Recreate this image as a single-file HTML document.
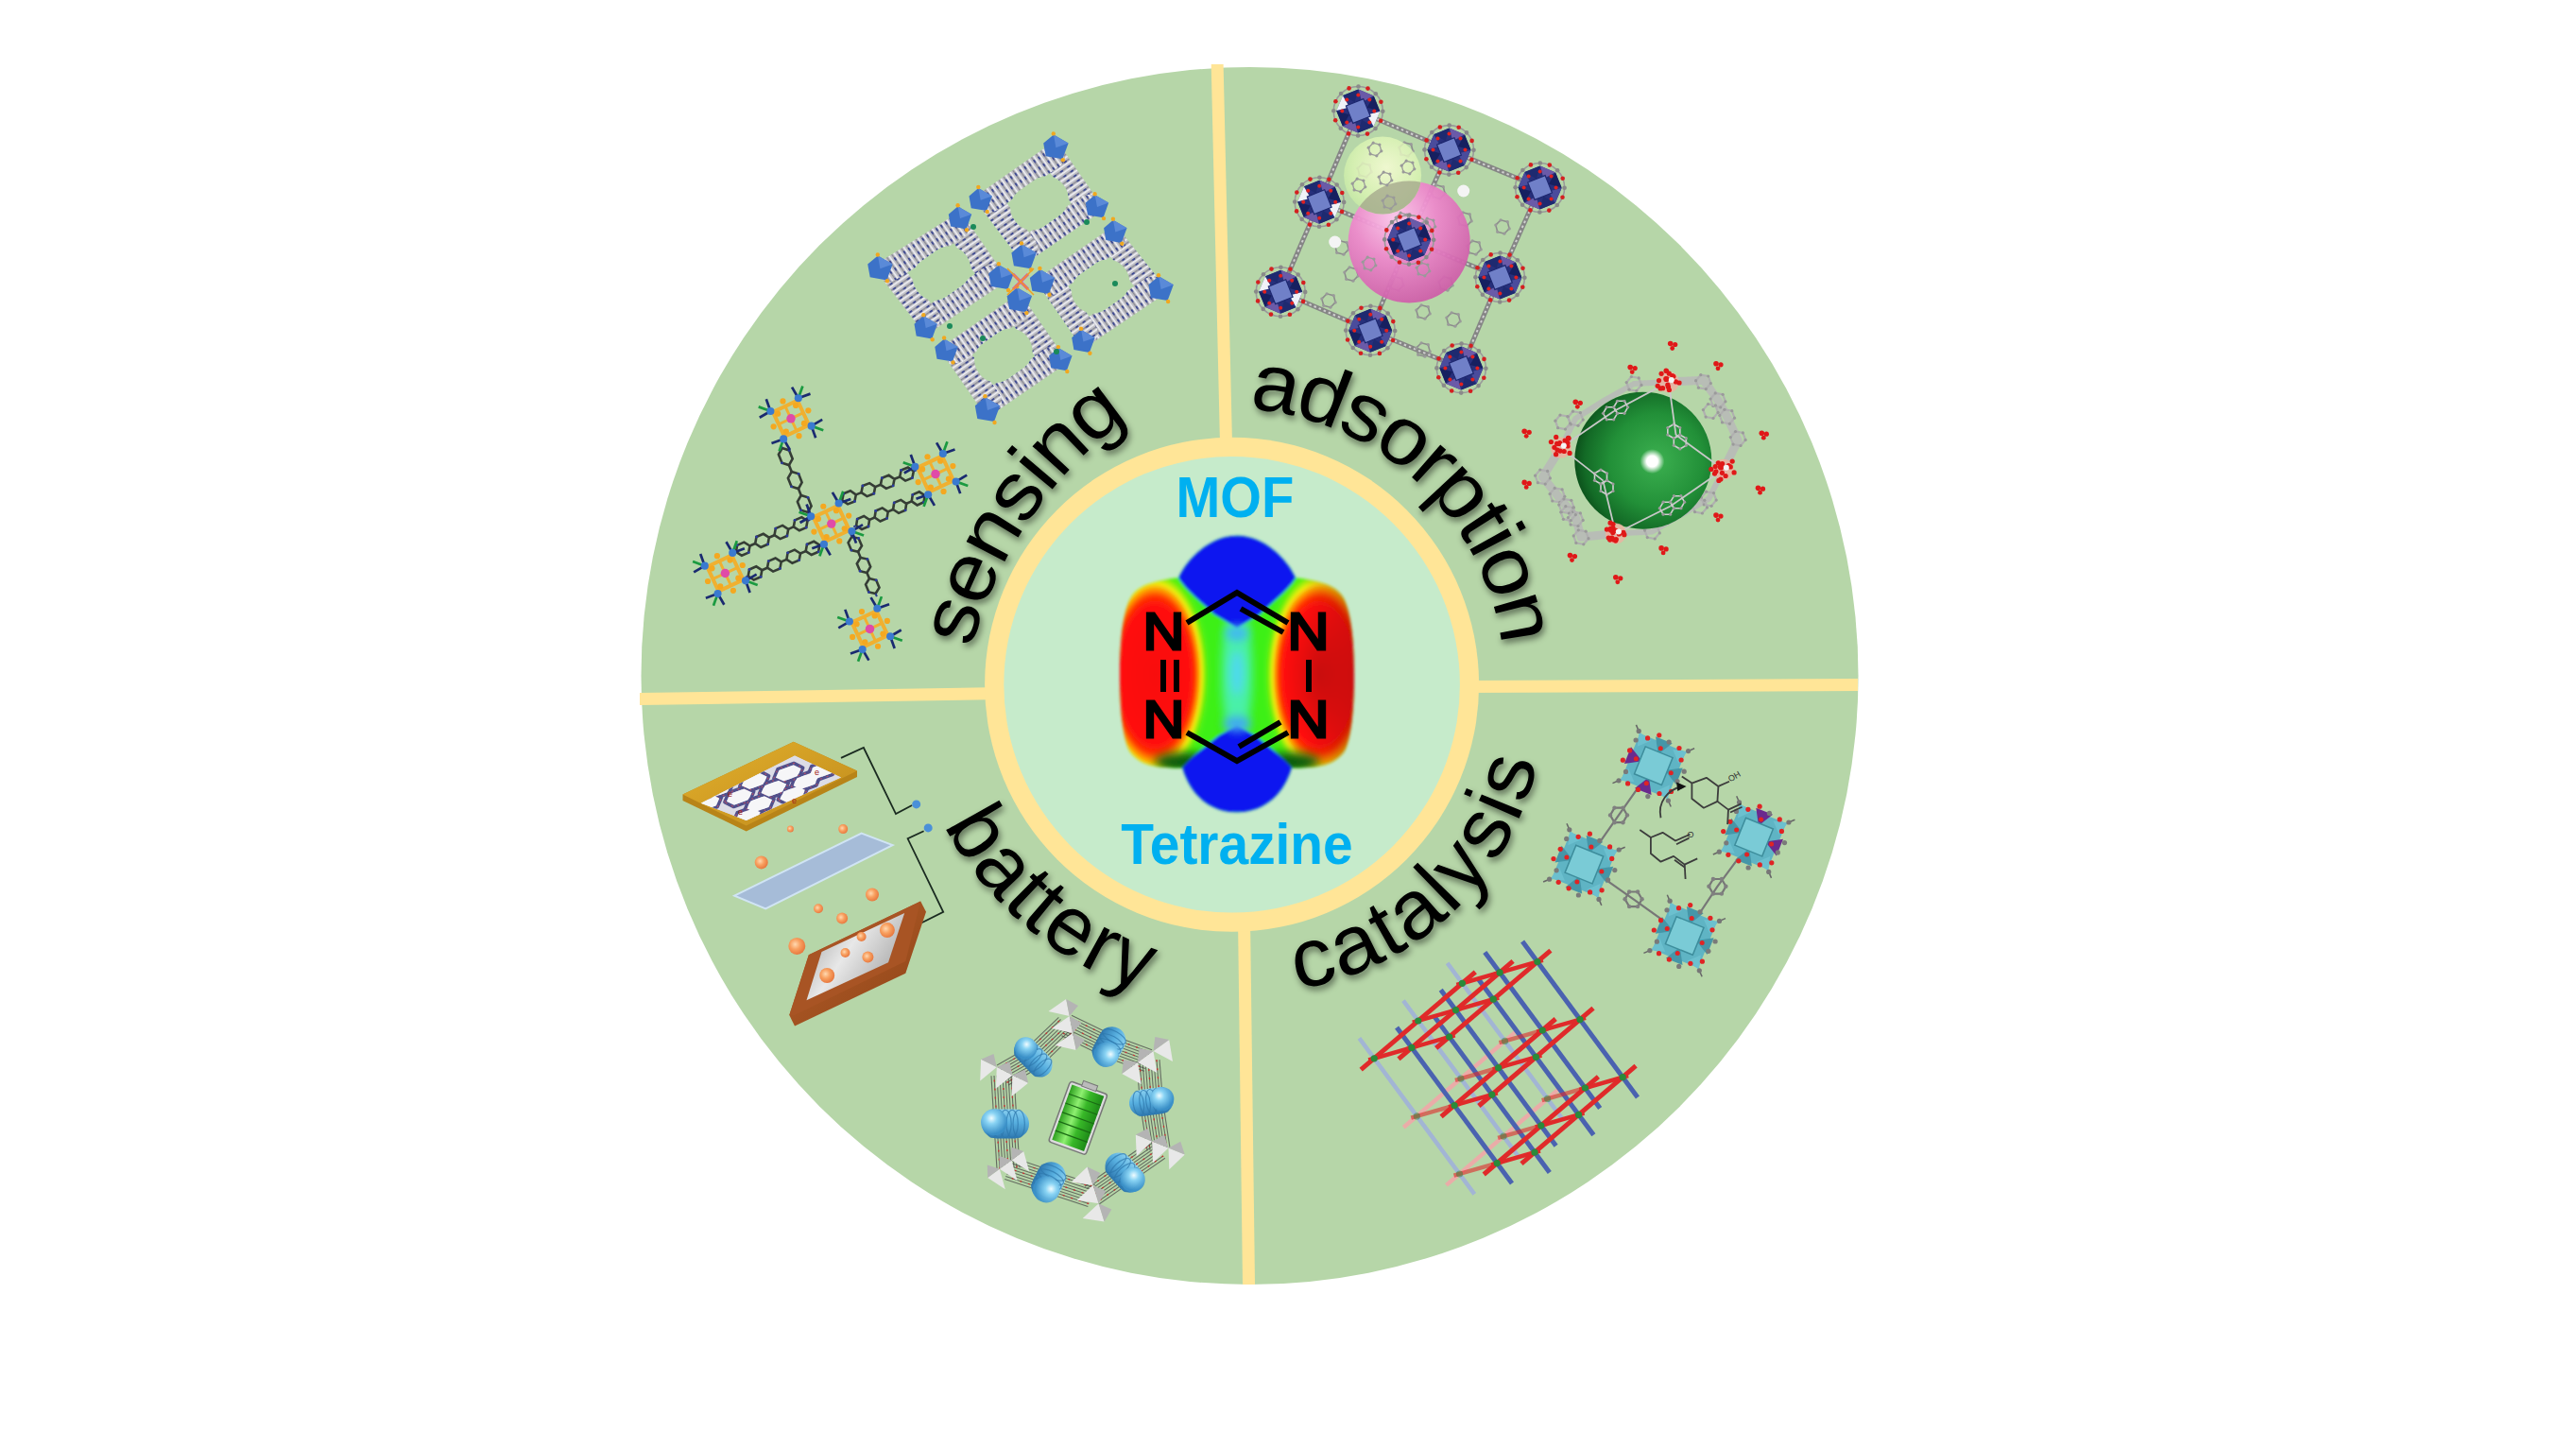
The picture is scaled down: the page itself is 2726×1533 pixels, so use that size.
<!DOCTYPE html>
<html><head><meta charset="utf-8">
<style>
html,body{margin:0;padding:0;background:#fff;}
body{width:2726px;height:1533px;overflow:hidden;position:relative;}
svg{position:absolute;left:0;top:0;}
</style></head>
<body>
<svg width="2726" height="1533" viewBox="0 0 2726 1533">
<defs>
  <filter id="tsh" x="-30%" y="-30%" width="160%" height="160%">
    <feGaussianBlur in="SourceAlpha" stdDeviation="3.5"/>
    <feOffset dx="2" dy="4" result="b"/>
    <feComponentTransfer><feFuncA type="linear" slope="0.5"/></feComponentTransfer>
    <feMerge><feMergeNode/><feMergeNode in="SourceGraphic"/></feMerge>
  </filter>
  
</defs>
<circle cx="1322.5" cy="715" r="644" fill="#b6d6a8"/>
<polygon points="1281.7,68 1294.6,68 1304,470 1291,470" fill="#ffe597"/>
<polygon points="1310,970 1323,970 1328,1359 1315,1359" fill="#ffe597"/>
<polygon points="677,733 677,746 1060,740 1060,727" fill="#ffe597"/>
<polygon points="1550,720 1550,733 1966,731 1966,718" fill="#ffe597"/>
<circle cx="1303.6" cy="724.3" r="261.5" fill="#ffe597"/>
<circle cx="1303.6" cy="724.3" r="241.3" fill="#c6ebcb"/>

<defs>
 <radialGradient id="redL" cx="1222" cy="714" r="62" gradientUnits="userSpaceOnUse" gradientTransform="translate(1222 714) scale(1 1.95) translate(-1222 -714)">
  <stop offset="0" stop-color="#f81111"/>
  <stop offset="0.6" stop-color="#ff1010"/>
  <stop offset="0.68" stop-color="#ff3000"/>
  <stop offset="0.74" stop-color="#ff8a00"/>
  <stop offset="0.8" stop-color="#f0ec10"/>
  <stop offset="0.88" stop-color="#60f010"/>
  <stop offset="1" stop-color="#3cf014" stop-opacity="0"/>
 </radialGradient>
 <radialGradient id="redR" cx="1396" cy="714" r="62" gradientUnits="userSpaceOnUse" gradientTransform="translate(1396 714) scale(1 1.95) translate(-1396 -714)">
  <stop offset="0" stop-color="#d01010"/>
  <stop offset="0.6" stop-color="#ff1010"/>
  <stop offset="0.68" stop-color="#ff3000"/>
  <stop offset="0.74" stop-color="#ff8a00"/>
  <stop offset="0.8" stop-color="#f0ec10"/>
  <stop offset="0.88" stop-color="#60f010"/>
  <stop offset="1" stop-color="#3cf014" stop-opacity="0"/>
 </radialGradient>
 <linearGradient id="edgeR" x1="1380" y1="0" x2="1433" y2="0" gradientUnits="userSpaceOnUse">
  <stop offset="0" stop-color="#a00000" stop-opacity="0"/><stop offset="1" stop-color="#900000" stop-opacity="0.45"/>
 </linearGradient>
 <clipPath id="bodyclip"><path d="M1247,611.3 C1255,592 1280,566.4 1309.1,566.4 C1338,566.4 1363,592 1371.2,611.3 C1392,614 1412,618 1420.4,630.6 C1430,645 1433,680 1433,714 C1433,750 1430,782 1422.5,795.3 C1410,812 1390,812.5 1366.9,812.5 C1360,838 1340,859.5 1309.1,859.5 C1278,859.5 1258,838 1251.3,812.5 C1228,812.5 1208,812 1195.7,795.3 C1188,782 1185,750 1185,714 C1185,680 1188,645 1197.8,630.6 C1206,618 1226,614 1247,611.3 Z"/></clipPath>
 <filter id="bl2" x="-20%" y="-20%" width="140%" height="140%"><feGaussianBlur stdDeviation="1.4"/></filter>
 <filter id="bl4" x="-50%" y="-50%" width="200%" height="200%"><feGaussianBlur stdDeviation="5"/></filter>
</defs>
<g filter="url(#bl2)">
 <g clip-path="url(#bodyclip)">
  <rect x="1180" y="560" width="260" height="310" fill="#3cf014"/>
  <ellipse cx="1309" cy="712" rx="16" ry="75" fill="#48f0a8" filter="url(#bl4)"/>
  <ellipse cx="1309" cy="712" rx="7" ry="24" fill="#50d8f0" filter="url(#bl4)"/>
  <rect x="1160" y="560" width="180" height="310" fill="url(#redL)"/>
  <rect x="1278" y="560" width="180" height="310" fill="url(#redR)"/>
  <rect x="1380" y="560" width="60" height="310" fill="url(#edgeR)"/>
  <ellipse cx="1252" cy="806" rx="30" ry="10" fill="#0a5a0e" filter="url(#bl4)"/>
  <ellipse cx="1366" cy="806" rx="30" ry="10" fill="#0a5a0e" filter="url(#bl4)"/>
  <path d="M1247,611.3 C1255,592 1280,566.4 1309.1,566.4 C1338,566.4 1363,592 1371.2,611.3 C1362,626 1345,638 1333,650 L1309,664 L1285,650 C1273,638 1256,626 1247,611.3 Z" fill="#0b14f0"/>
  <path d="M1251.3,812.5 C1258,838 1278,859.5 1309.1,859.5 C1340,859.5 1360,838 1366.9,812.5 C1356,800 1340,788 1328,778 L1309,768 L1290,778 C1278,788 1262,800 1251.3,812.5 Z" fill="#0b14f0"/>
  <ellipse cx="1309" cy="670" rx="12" ry="8" fill="#40b8f0" filter="url(#bl4)"/>
  <ellipse cx="1309" cy="766" rx="14" ry="8" fill="#40a8f0" filter="url(#bl4)"/>
 </g>
</g>
<g stroke="#000" stroke-width="6" stroke-linecap="butt" fill="none">
  <path d="M1256,659 L1309,627 L1363,659"/>
  <path d="M1313,644 L1358,669"/>
  <path d="M1256,775 L1309,805 L1363,775"/>
  <path d="M1311,790 L1355,764"/>
  <path d="M1231,698 V732 M1245,698 V732"/>
  <path d="M1385,698 V732"/>
</g>
<g font-family="Liberation Sans" font-size="56" fill="#000" text-anchor="middle" stroke="#000" stroke-width="3">
  <text x="1231.5" y="687" textLength="44" lengthAdjust="spacingAndGlyphs">N</text>
  <text x="1231.5" y="780" textLength="44" lengthAdjust="spacingAndGlyphs">N</text>
  <text x="1384.5" y="687" textLength="44" lengthAdjust="spacingAndGlyphs">N</text>
  <text x="1384.5" y="780" textLength="44" lengthAdjust="spacingAndGlyphs">N</text>
</g><g><line x1="1437.3" y1="117.5" x2="1533.5" y2="158.6" stroke="#858585" stroke-width="5"/><line x1="1437.3" y1="117.5" x2="1533.5" y2="158.6" stroke="#d0d0d0" stroke-width="2" stroke-dasharray="2.5 3"/><line x1="1533.5" y1="158.6" x2="1629.6" y2="198.5" stroke="#858585" stroke-width="5"/><line x1="1533.5" y1="158.6" x2="1629.6" y2="198.5" stroke="#d0d0d0" stroke-width="2" stroke-dasharray="2.5 3"/><line x1="1396.2" y1="213.7" x2="1491.2" y2="253.6" stroke="#858585" stroke-width="5"/><line x1="1396.2" y1="213.7" x2="1491.2" y2="253.6" stroke="#d0d0d0" stroke-width="2" stroke-dasharray="2.5 3"/><line x1="1491.2" y1="253.6" x2="1587.4" y2="293.5" stroke="#858585" stroke-width="5"/><line x1="1491.2" y1="253.6" x2="1587.4" y2="293.5" stroke="#d0d0d0" stroke-width="2" stroke-dasharray="2.5 3"/><line x1="1355.2" y1="308.7" x2="1450.2" y2="349.8" stroke="#858585" stroke-width="5"/><line x1="1355.2" y1="308.7" x2="1450.2" y2="349.8" stroke="#d0d0d0" stroke-width="2" stroke-dasharray="2.5 3"/><line x1="1450.2" y1="349.8" x2="1546.4" y2="389.6" stroke="#858585" stroke-width="5"/><line x1="1450.2" y1="349.8" x2="1546.4" y2="389.6" stroke="#d0d0d0" stroke-width="2" stroke-dasharray="2.5 3"/><line x1="1437.3" y1="117.5" x2="1396.2" y2="213.7" stroke="#858585" stroke-width="5"/><line x1="1437.3" y1="117.5" x2="1396.2" y2="213.7" stroke="#d0d0d0" stroke-width="2" stroke-dasharray="2.5 3"/><line x1="1396.2" y1="213.7" x2="1355.2" y2="308.7" stroke="#858585" stroke-width="5"/><line x1="1396.2" y1="213.7" x2="1355.2" y2="308.7" stroke="#d0d0d0" stroke-width="2" stroke-dasharray="2.5 3"/><line x1="1533.5" y1="158.6" x2="1491.2" y2="253.6" stroke="#858585" stroke-width="5"/><line x1="1533.5" y1="158.6" x2="1491.2" y2="253.6" stroke="#d0d0d0" stroke-width="2" stroke-dasharray="2.5 3"/><line x1="1491.2" y1="253.6" x2="1450.2" y2="349.8" stroke="#858585" stroke-width="5"/><line x1="1491.2" y1="253.6" x2="1450.2" y2="349.8" stroke="#d0d0d0" stroke-width="2" stroke-dasharray="2.5 3"/><line x1="1629.6" y1="198.5" x2="1587.4" y2="293.5" stroke="#858585" stroke-width="5"/><line x1="1629.6" y1="198.5" x2="1587.4" y2="293.5" stroke="#d0d0d0" stroke-width="2" stroke-dasharray="2.5 3"/><line x1="1587.4" y1="293.5" x2="1546.4" y2="389.6" stroke="#858585" stroke-width="5"/><line x1="1587.4" y1="293.5" x2="1546.4" y2="389.6" stroke="#d0d0d0" stroke-width="2" stroke-dasharray="2.5 3"/><polygon points="1529.2,204.9 1523.9,210.2 1516.7,208.3 1514.8,201.1 1520.1,195.8 1527.3,197.7" fill="none" stroke="#8c8c8c" stroke-width="1.6"/><circle cx="1529.2" cy="204.9" r="1.6" fill="#9a9a9a"/><circle cx="1523.9" cy="210.2" r="1.6" fill="#9a9a9a"/><circle cx="1516.7" cy="208.3" r="1.6" fill="#9a9a9a"/><circle cx="1514.8" cy="201.1" r="1.6" fill="#9a9a9a"/><circle cx="1520.1" cy="195.8" r="1.6" fill="#9a9a9a"/><circle cx="1527.3" cy="197.7" r="1.6" fill="#9a9a9a"/><polygon points="1557.2,233.9 1551.9,239.2 1544.7,237.3 1542.8,230.1 1548.1,224.8 1555.3,226.7" fill="none" stroke="#8c8c8c" stroke-width="1.6"/><circle cx="1557.2" cy="233.9" r="1.6" fill="#9a9a9a"/><circle cx="1551.9" cy="239.2" r="1.6" fill="#9a9a9a"/><circle cx="1544.7" cy="237.3" r="1.6" fill="#9a9a9a"/><circle cx="1542.8" cy="230.1" r="1.6" fill="#9a9a9a"/><circle cx="1548.1" cy="224.8" r="1.6" fill="#9a9a9a"/><circle cx="1555.3" cy="226.7" r="1.6" fill="#9a9a9a"/><polygon points="1567.2,263.9 1561.9,269.2 1554.7,267.3 1552.8,260.1 1558.1,254.8 1565.3,256.7" fill="none" stroke="#8c8c8c" stroke-width="1.6"/><circle cx="1567.2" cy="263.9" r="1.6" fill="#9a9a9a"/><circle cx="1561.9" cy="269.2" r="1.6" fill="#9a9a9a"/><circle cx="1554.7" cy="267.3" r="1.6" fill="#9a9a9a"/><circle cx="1552.8" cy="260.1" r="1.6" fill="#9a9a9a"/><circle cx="1558.1" cy="254.8" r="1.6" fill="#9a9a9a"/><circle cx="1565.3" cy="256.7" r="1.6" fill="#9a9a9a"/><polygon points="1537.2,301.9 1531.9,307.2 1524.7,305.3 1522.8,298.1 1528.1,292.8 1535.3,294.7" fill="none" stroke="#8c8c8c" stroke-width="1.6"/><circle cx="1537.2" cy="301.9" r="1.6" fill="#9a9a9a"/><circle cx="1531.9" cy="307.2" r="1.6" fill="#9a9a9a"/><circle cx="1524.7" cy="305.3" r="1.6" fill="#9a9a9a"/><circle cx="1522.8" cy="298.1" r="1.6" fill="#9a9a9a"/><circle cx="1528.1" cy="292.8" r="1.6" fill="#9a9a9a"/><circle cx="1535.3" cy="294.7" r="1.6" fill="#9a9a9a"/><polygon points="1513.2,331.9 1507.9,337.2 1500.7,335.3 1498.8,328.1 1504.1,322.8 1511.3,324.7" fill="none" stroke="#8c8c8c" stroke-width="1.6"/><circle cx="1513.2" cy="331.9" r="1.6" fill="#9a9a9a"/><circle cx="1507.9" cy="337.2" r="1.6" fill="#9a9a9a"/><circle cx="1500.7" cy="335.3" r="1.6" fill="#9a9a9a"/><circle cx="1498.8" cy="328.1" r="1.6" fill="#9a9a9a"/><circle cx="1504.1" cy="322.8" r="1.6" fill="#9a9a9a"/><circle cx="1511.3" cy="324.7" r="1.6" fill="#9a9a9a"/><polygon points="1485.2,301.9 1479.9,307.2 1472.7,305.3 1470.8,298.1 1476.1,292.8 1483.3,294.7" fill="none" stroke="#8c8c8c" stroke-width="1.6"/><circle cx="1485.2" cy="301.9" r="1.6" fill="#9a9a9a"/><circle cx="1479.9" cy="307.2" r="1.6" fill="#9a9a9a"/><circle cx="1472.7" cy="305.3" r="1.6" fill="#9a9a9a"/><circle cx="1470.8" cy="298.1" r="1.6" fill="#9a9a9a"/><circle cx="1476.1" cy="292.8" r="1.6" fill="#9a9a9a"/><circle cx="1483.3" cy="294.7" r="1.6" fill="#9a9a9a"/><polygon points="1437.2,291.9 1431.9,297.2 1424.7,295.3 1422.8,288.1 1428.1,282.8 1435.3,284.7" fill="none" stroke="#8c8c8c" stroke-width="1.6"/><circle cx="1437.2" cy="291.9" r="1.6" fill="#9a9a9a"/><circle cx="1431.9" cy="297.2" r="1.6" fill="#9a9a9a"/><circle cx="1424.7" cy="295.3" r="1.6" fill="#9a9a9a"/><circle cx="1422.8" cy="288.1" r="1.6" fill="#9a9a9a"/><circle cx="1428.1" cy="282.8" r="1.6" fill="#9a9a9a"/><circle cx="1435.3" cy="284.7" r="1.6" fill="#9a9a9a"/><polygon points="1413.2,319.9 1407.9,325.2 1400.7,323.3 1398.8,316.1 1404.1,310.8 1411.3,312.7" fill="none" stroke="#8c8c8c" stroke-width="1.6"/><circle cx="1413.2" cy="319.9" r="1.6" fill="#9a9a9a"/><circle cx="1407.9" cy="325.2" r="1.6" fill="#9a9a9a"/><circle cx="1400.7" cy="323.3" r="1.6" fill="#9a9a9a"/><circle cx="1398.8" cy="316.1" r="1.6" fill="#9a9a9a"/><circle cx="1404.1" cy="310.8" r="1.6" fill="#9a9a9a"/><circle cx="1411.3" cy="312.7" r="1.6" fill="#9a9a9a"/><polygon points="1427.2,263.9 1421.9,269.2 1414.7,267.3 1412.8,260.1 1418.1,254.8 1425.3,256.7" fill="none" stroke="#8c8c8c" stroke-width="1.6"/><circle cx="1427.2" cy="263.9" r="1.6" fill="#9a9a9a"/><circle cx="1421.9" cy="269.2" r="1.6" fill="#9a9a9a"/><circle cx="1414.7" cy="267.3" r="1.6" fill="#9a9a9a"/><circle cx="1412.8" cy="260.1" r="1.6" fill="#9a9a9a"/><circle cx="1418.1" cy="254.8" r="1.6" fill="#9a9a9a"/><circle cx="1425.3" cy="256.7" r="1.6" fill="#9a9a9a"/><polygon points="1513.2,371.9 1507.9,377.2 1500.7,375.3 1498.8,368.1 1504.1,362.8 1511.3,364.7" fill="none" stroke="#8c8c8c" stroke-width="1.6"/><circle cx="1513.2" cy="371.9" r="1.6" fill="#9a9a9a"/><circle cx="1507.9" cy="377.2" r="1.6" fill="#9a9a9a"/><circle cx="1500.7" cy="375.3" r="1.6" fill="#9a9a9a"/><circle cx="1498.8" cy="368.1" r="1.6" fill="#9a9a9a"/><circle cx="1504.1" cy="362.8" r="1.6" fill="#9a9a9a"/><circle cx="1511.3" cy="364.7" r="1.6" fill="#9a9a9a"/><polygon points="1545.2,339.9 1539.9,345.2 1532.7,343.3 1530.8,336.1 1536.1,330.8 1543.3,332.7" fill="none" stroke="#8c8c8c" stroke-width="1.6"/><circle cx="1545.2" cy="339.9" r="1.6" fill="#9a9a9a"/><circle cx="1539.9" cy="345.2" r="1.6" fill="#9a9a9a"/><circle cx="1532.7" cy="343.3" r="1.6" fill="#9a9a9a"/><circle cx="1530.8" cy="336.1" r="1.6" fill="#9a9a9a"/><circle cx="1536.1" cy="330.8" r="1.6" fill="#9a9a9a"/><circle cx="1543.3" cy="332.7" r="1.6" fill="#9a9a9a"/><polygon points="1597.2,241.9 1591.9,247.2 1584.7,245.3 1582.8,238.1 1588.1,232.8 1595.3,234.7" fill="none" stroke="#8c8c8c" stroke-width="1.6"/><circle cx="1597.2" cy="241.9" r="1.6" fill="#9a9a9a"/><circle cx="1591.9" cy="247.2" r="1.6" fill="#9a9a9a"/><circle cx="1584.7" cy="245.3" r="1.6" fill="#9a9a9a"/><circle cx="1582.8" cy="238.1" r="1.6" fill="#9a9a9a"/><circle cx="1588.1" cy="232.8" r="1.6" fill="#9a9a9a"/><circle cx="1595.3" cy="234.7" r="1.6" fill="#9a9a9a"/><polygon points="1451.2,181.9 1445.9,187.2 1438.7,185.3 1436.8,178.1 1442.1,172.8 1449.3,174.7" fill="none" stroke="#8c8c8c" stroke-width="1.6"/><circle cx="1451.2" cy="181.9" r="1.6" fill="#9a9a9a"/><circle cx="1445.9" cy="187.2" r="1.6" fill="#9a9a9a"/><circle cx="1438.7" cy="185.3" r="1.6" fill="#9a9a9a"/><circle cx="1436.8" cy="178.1" r="1.6" fill="#9a9a9a"/><circle cx="1442.1" cy="172.8" r="1.6" fill="#9a9a9a"/><circle cx="1449.3" cy="174.7" r="1.6" fill="#9a9a9a"/><polygon points="1495.2,159.9 1489.9,165.2 1482.7,163.3 1480.8,156.1 1486.1,150.8 1493.3,152.7" fill="none" stroke="#8c8c8c" stroke-width="1.6"/><circle cx="1495.2" cy="159.9" r="1.6" fill="#9a9a9a"/><circle cx="1489.9" cy="165.2" r="1.6" fill="#9a9a9a"/><circle cx="1482.7" cy="163.3" r="1.6" fill="#9a9a9a"/><circle cx="1480.8" cy="156.1" r="1.6" fill="#9a9a9a"/><circle cx="1486.1" cy="150.8" r="1.6" fill="#9a9a9a"/><circle cx="1493.3" cy="152.7" r="1.6" fill="#9a9a9a"/><defs>
<radialGradient id="pinkS" cx="0.38" cy="0.3" r="0.75">
 <stop offset="0" stop-color="#ffc6ee"/>
 <stop offset="0.45" stop-color="#ee88cc"/>
 <stop offset="1" stop-color="#cc5aa6"/>
</radialGradient>
<radialGradient id="yelS" cx="0.55" cy="0.4" r="0.7">
 <stop offset="0" stop-color="#fbffd8"/>
 <stop offset="0.6" stop-color="#dcf5b4"/>
 <stop offset="1" stop-color="#bfe6a0"/>
</radialGradient>
</defs><circle cx="1491.2" cy="255.9" r="64.5" fill="url(#pinkS)" opacity="0.93"/><circle cx="1463.1" cy="185.6" r="41" fill="url(#yelS)" opacity="0.82"/><clipPath id="pinkclip"><circle cx="1491.2" cy="255.9" r="64.5"/></clipPath><circle cx="1463.1" cy="185.6" r="41" fill="#9fa888" opacity="0.75" clip-path="url(#pinkclip)"/><polygon points="1461.8,159.8 1456.8,164.8 1450.1,162.9 1448.2,156.2 1453.2,151.2 1459.9,153.1" fill="none" stroke="#9a9a9a" stroke-width="1.3"/><circle cx="1461.8" cy="159.8" r="1.6" fill="#9a9a9a"/><circle cx="1456.8" cy="164.8" r="1.6" fill="#9a9a9a"/><circle cx="1450.1" cy="162.9" r="1.6" fill="#9a9a9a"/><circle cx="1448.2" cy="156.2" r="1.6" fill="#9a9a9a"/><circle cx="1453.2" cy="151.2" r="1.6" fill="#9a9a9a"/><circle cx="1459.9" cy="153.1" r="1.6" fill="#9a9a9a"/><polygon points="1472.8,190.8 1467.8,195.8 1461.1,193.9 1459.2,187.2 1464.2,182.2 1470.9,184.1" fill="none" stroke="#9a9a9a" stroke-width="1.3"/><circle cx="1472.8" cy="190.8" r="1.6" fill="#9a9a9a"/><circle cx="1467.8" cy="195.8" r="1.6" fill="#9a9a9a"/><circle cx="1461.1" cy="193.9" r="1.6" fill="#9a9a9a"/><circle cx="1459.2" cy="187.2" r="1.6" fill="#9a9a9a"/><circle cx="1464.2" cy="182.2" r="1.6" fill="#9a9a9a"/><circle cx="1470.9" cy="184.1" r="1.6" fill="#9a9a9a"/><polygon points="1444.8,197.8 1439.8,202.8 1433.1,200.9 1431.2,194.2 1436.2,189.2 1442.9,191.1" fill="none" stroke="#9a9a9a" stroke-width="1.3"/><circle cx="1444.8" cy="197.8" r="1.6" fill="#9a9a9a"/><circle cx="1439.8" cy="202.8" r="1.6" fill="#9a9a9a"/><circle cx="1433.1" cy="200.9" r="1.6" fill="#9a9a9a"/><circle cx="1431.2" cy="194.2" r="1.6" fill="#9a9a9a"/><circle cx="1436.2" cy="189.2" r="1.6" fill="#9a9a9a"/><circle cx="1442.9" cy="191.1" r="1.6" fill="#9a9a9a"/><polygon points="1496.8,178.8 1491.8,183.8 1485.1,181.9 1483.2,175.2 1488.2,170.2 1494.9,172.1" fill="none" stroke="#9a9a9a" stroke-width="1.3"/><circle cx="1496.8" cy="178.8" r="1.6" fill="#9a9a9a"/><circle cx="1491.8" cy="183.8" r="1.6" fill="#9a9a9a"/><circle cx="1485.1" cy="181.9" r="1.6" fill="#9a9a9a"/><circle cx="1483.2" cy="175.2" r="1.6" fill="#9a9a9a"/><circle cx="1488.2" cy="170.2" r="1.6" fill="#9a9a9a"/><circle cx="1494.9" cy="172.1" r="1.6" fill="#9a9a9a"/><polygon points="1476.8,215.8 1471.8,220.8 1465.1,218.9 1463.2,212.2 1468.2,207.2 1474.9,209.1" fill="none" stroke="#9a9a9a" stroke-width="1.3"/><circle cx="1476.8" cy="215.8" r="1.6" fill="#9a9a9a"/><circle cx="1471.8" cy="220.8" r="1.6" fill="#9a9a9a"/><circle cx="1465.1" cy="218.9" r="1.6" fill="#9a9a9a"/><circle cx="1463.2" cy="212.2" r="1.6" fill="#9a9a9a"/><circle cx="1468.2" cy="207.2" r="1.6" fill="#9a9a9a"/><circle cx="1474.9" cy="209.1" r="1.6" fill="#9a9a9a"/><polygon points="1455.8,280.8 1450.8,285.8 1444.1,283.9 1442.2,277.2 1447.2,272.2 1453.9,274.1" fill="none" stroke="#9a9a9a" stroke-width="1.3"/><circle cx="1455.8" cy="280.8" r="1.6" fill="#9a9a9a"/><circle cx="1450.8" cy="285.8" r="1.6" fill="#9a9a9a"/><circle cx="1444.1" cy="283.9" r="1.6" fill="#9a9a9a"/><circle cx="1442.2" cy="277.2" r="1.6" fill="#9a9a9a"/><circle cx="1447.2" cy="272.2" r="1.6" fill="#9a9a9a"/><circle cx="1453.9" cy="274.1" r="1.6" fill="#9a9a9a"/><polygon points="1518.8,239.8 1513.8,244.8 1507.1,242.9 1505.2,236.2 1510.2,231.2 1516.9,233.1" fill="none" stroke="#9a9a9a" stroke-width="1.3"/><circle cx="1518.8" cy="239.8" r="1.6" fill="#9a9a9a"/><circle cx="1513.8" cy="244.8" r="1.6" fill="#9a9a9a"/><circle cx="1507.1" cy="242.9" r="1.6" fill="#9a9a9a"/><circle cx="1505.2" cy="236.2" r="1.6" fill="#9a9a9a"/><circle cx="1510.2" cy="231.2" r="1.6" fill="#9a9a9a"/><circle cx="1516.9" cy="233.1" r="1.6" fill="#9a9a9a"/><polygon points="1512.8,286.8 1507.8,291.8 1501.1,289.9 1499.2,283.2 1504.2,278.2 1510.9,280.1" fill="none" stroke="#9a9a9a" stroke-width="1.3"/><circle cx="1512.8" cy="286.8" r="1.6" fill="#9a9a9a"/><circle cx="1507.8" cy="291.8" r="1.6" fill="#9a9a9a"/><circle cx="1501.1" cy="289.9" r="1.6" fill="#9a9a9a"/><circle cx="1499.2" cy="283.2" r="1.6" fill="#9a9a9a"/><circle cx="1504.2" cy="278.2" r="1.6" fill="#9a9a9a"/><circle cx="1510.9" cy="280.1" r="1.6" fill="#9a9a9a"/><polygon points="1490.8,233.8 1485.8,238.8 1479.1,236.9 1477.2,230.2 1482.2,225.2 1488.9,227.1" fill="none" stroke="#9a9a9a" stroke-width="1.3"/><circle cx="1490.8" cy="233.8" r="1.6" fill="#9a9a9a"/><circle cx="1485.8" cy="238.8" r="1.6" fill="#9a9a9a"/><circle cx="1479.1" cy="236.9" r="1.6" fill="#9a9a9a"/><circle cx="1477.2" cy="230.2" r="1.6" fill="#9a9a9a"/><circle cx="1482.2" cy="225.2" r="1.6" fill="#9a9a9a"/><circle cx="1488.9" cy="227.1" r="1.6" fill="#9a9a9a"/><circle cx="1548.7" cy="202" r="6.5" fill="#f4f4f4"/><circle cx="1412.7" cy="256" r="6.5" fill="#f4f4f4"/><circle cx="1437.3" cy="117.5" r="26" fill="none" stroke="#9a9a9a" stroke-width="1.6"/><circle cx="1461.4" cy="107.8" r="2.3" fill="#d42020"/><circle cx="1463.3" cy="117.7" r="2.3" fill="#8a8a8a"/><circle cx="1461.2" cy="127.7" r="2.3" fill="#d42020"/><circle cx="1455.5" cy="136.0" r="2.3" fill="#8a8a8a"/><circle cx="1447.0" cy="141.6" r="2.3" fill="#d42020"/><circle cx="1437.1" cy="143.5" r="2.3" fill="#8a8a8a"/><circle cx="1427.1" cy="141.4" r="2.3" fill="#d42020"/><circle cx="1418.8" cy="135.7" r="2.3" fill="#8a8a8a"/><circle cx="1413.2" cy="127.2" r="2.3" fill="#d42020"/><circle cx="1411.3" cy="117.3" r="2.3" fill="#8a8a8a"/><circle cx="1413.4" cy="107.3" r="2.3" fill="#d42020"/><circle cx="1419.1" cy="99.0" r="2.3" fill="#8a8a8a"/><circle cx="1427.6" cy="93.4" r="2.3" fill="#d42020"/><circle cx="1437.5" cy="91.5" r="2.3" fill="#8a8a8a"/><circle cx="1447.5" cy="93.6" r="2.3" fill="#d42020"/><circle cx="1455.8" cy="99.3" r="2.3" fill="#8a8a8a"/><polygon points="1460.3,117.7 1453.4,133.9 1437.1,140.5 1420.9,133.6 1414.3,117.3 1421.2,101.1 1437.5,94.5 1453.7,101.4" fill="#27307c"/><polygon points="1446.6,113.8 1453.8,101.5 1460.3,117.5" fill="#162060"/><polygon points="1446.5,121.4 1460.3,117.9 1453.6,133.8" fill="#f0f2f8"/><polygon points="1441.0,126.8 1453.3,134.0 1437.3,140.5" fill="#1e2a70"/><polygon points="1433.4,126.7 1436.9,140.5 1421.0,133.8" fill="#6a5aa8"/><polygon points="1428.0,121.2 1420.8,133.5 1414.3,117.5" fill="#162060"/><polygon points="1428.1,113.6 1414.3,117.1 1421.0,101.2" fill="#f0f2f8"/><polygon points="1433.6,108.2 1421.3,101.0 1437.3,94.5" fill="#1e2a70"/><polygon points="1441.2,108.3 1437.7,94.5 1453.6,101.2" fill="#6a5aa8"/><polygon points="1450.2,123.0 1431.8,130.4 1424.4,112.0 1442.8,104.6" fill="#7080c8" stroke="#1e2870" stroke-width="1.2"/><circle cx="1454.3" cy="117.5" r="2" fill="#e02020"/><circle cx="1449.3" cy="129.5" r="2" fill="#e02020"/><circle cx="1437.3" cy="134.5" r="2" fill="#e02020"/><circle cx="1425.3" cy="129.5" r="2" fill="#e02020"/><circle cx="1420.3" cy="117.5" r="2" fill="#e02020"/><circle cx="1425.3" cy="105.5" r="2" fill="#e02020"/><circle cx="1437.3" cy="100.5" r="2" fill="#e02020"/><circle cx="1449.3" cy="105.5" r="2" fill="#e02020"/><circle cx="1533.5" cy="158.6" r="26" fill="none" stroke="#9a9a9a" stroke-width="1.6"/><circle cx="1557.6" cy="148.9" r="2.3" fill="#d42020"/><circle cx="1559.5" cy="158.8" r="2.3" fill="#8a8a8a"/><circle cx="1557.4" cy="168.8" r="2.3" fill="#d42020"/><circle cx="1551.7" cy="177.1" r="2.3" fill="#8a8a8a"/><circle cx="1543.2" cy="182.7" r="2.3" fill="#d42020"/><circle cx="1533.3" cy="184.6" r="2.3" fill="#8a8a8a"/><circle cx="1523.3" cy="182.5" r="2.3" fill="#d42020"/><circle cx="1515.0" cy="176.8" r="2.3" fill="#8a8a8a"/><circle cx="1509.4" cy="168.3" r="2.3" fill="#d42020"/><circle cx="1507.5" cy="158.4" r="2.3" fill="#8a8a8a"/><circle cx="1509.6" cy="148.4" r="2.3" fill="#d42020"/><circle cx="1515.3" cy="140.1" r="2.3" fill="#8a8a8a"/><circle cx="1523.8" cy="134.5" r="2.3" fill="#d42020"/><circle cx="1533.7" cy="132.6" r="2.3" fill="#8a8a8a"/><circle cx="1543.7" cy="134.7" r="2.3" fill="#d42020"/><circle cx="1552.0" cy="140.4" r="2.3" fill="#8a8a8a"/><polygon points="1556.5,158.8 1549.6,175.0 1533.3,181.6 1517.1,174.7 1510.5,158.4 1517.4,142.2 1533.7,135.6 1549.9,142.5" fill="#27307c"/><polygon points="1542.8,154.9 1550.0,142.6 1556.5,158.6" fill="#162060"/><polygon points="1542.7,162.5 1556.5,159.0 1549.8,174.9" fill="#4a4c9c"/><polygon points="1537.2,167.9 1549.5,175.1 1533.5,181.6" fill="#1e2a70"/><polygon points="1529.6,167.8 1533.1,181.6 1517.2,174.9" fill="#6a5aa8"/><polygon points="1524.2,162.3 1517.0,174.6 1510.5,158.6" fill="#162060"/><polygon points="1524.3,154.7 1510.5,158.2 1517.2,142.3" fill="#4a4c9c"/><polygon points="1529.8,149.3 1517.5,142.1 1533.5,135.6" fill="#1e2a70"/><polygon points="1537.4,149.4 1533.9,135.6 1549.8,142.3" fill="#6a5aa8"/><polygon points="1546.4,164.1 1528.0,171.5 1520.6,153.1 1539.0,145.7" fill="#7080c8" stroke="#1e2870" stroke-width="1.2"/><circle cx="1550.5" cy="158.6" r="2" fill="#e02020"/><circle cx="1545.5" cy="170.6" r="2" fill="#e02020"/><circle cx="1533.5" cy="175.6" r="2" fill="#e02020"/><circle cx="1521.5" cy="170.6" r="2" fill="#e02020"/><circle cx="1516.5" cy="158.6" r="2" fill="#e02020"/><circle cx="1521.5" cy="146.6" r="2" fill="#e02020"/><circle cx="1533.5" cy="141.6" r="2" fill="#e02020"/><circle cx="1545.5" cy="146.6" r="2" fill="#e02020"/><circle cx="1629.6" cy="198.5" r="26" fill="none" stroke="#9a9a9a" stroke-width="1.6"/><circle cx="1653.7" cy="188.8" r="2.3" fill="#d42020"/><circle cx="1655.6" cy="198.7" r="2.3" fill="#8a8a8a"/><circle cx="1653.5" cy="208.7" r="2.3" fill="#d42020"/><circle cx="1647.8" cy="217.0" r="2.3" fill="#8a8a8a"/><circle cx="1639.3" cy="222.6" r="2.3" fill="#d42020"/><circle cx="1629.4" cy="224.5" r="2.3" fill="#8a8a8a"/><circle cx="1619.4" cy="222.4" r="2.3" fill="#d42020"/><circle cx="1611.1" cy="216.7" r="2.3" fill="#8a8a8a"/><circle cx="1605.5" cy="208.2" r="2.3" fill="#d42020"/><circle cx="1603.6" cy="198.3" r="2.3" fill="#8a8a8a"/><circle cx="1605.7" cy="188.3" r="2.3" fill="#d42020"/><circle cx="1611.4" cy="180.0" r="2.3" fill="#8a8a8a"/><circle cx="1619.9" cy="174.4" r="2.3" fill="#d42020"/><circle cx="1629.8" cy="172.5" r="2.3" fill="#8a8a8a"/><circle cx="1639.8" cy="174.6" r="2.3" fill="#d42020"/><circle cx="1648.1" cy="180.3" r="2.3" fill="#8a8a8a"/><polygon points="1652.6,198.7 1645.7,214.9 1629.4,221.5 1613.2,214.6 1606.6,198.3 1613.5,182.1 1629.8,175.5 1646.0,182.4" fill="#27307c"/><polygon points="1638.9,194.8 1646.1,182.5 1652.6,198.5" fill="#162060"/><polygon points="1638.8,202.4 1652.6,198.9 1645.9,214.8" fill="#4a4c9c"/><polygon points="1633.3,207.8 1645.6,215.0 1629.6,221.5" fill="#1e2a70"/><polygon points="1625.7,207.7 1629.2,221.5 1613.3,214.8" fill="#6a5aa8"/><polygon points="1620.3,202.2 1613.1,214.5 1606.6,198.5" fill="#162060"/><polygon points="1620.4,194.6 1606.6,198.1 1613.3,182.2" fill="#4a4c9c"/><polygon points="1625.9,189.2 1613.6,182.0 1629.6,175.5" fill="#1e2a70"/><polygon points="1633.5,189.3 1630.0,175.5 1645.9,182.2" fill="#6a5aa8"/><polygon points="1642.5,204.0 1624.1,211.4 1616.7,193.0 1635.1,185.6" fill="#7080c8" stroke="#1e2870" stroke-width="1.2"/><circle cx="1646.6" cy="198.5" r="2" fill="#e02020"/><circle cx="1641.6" cy="210.5" r="2" fill="#e02020"/><circle cx="1629.6" cy="215.5" r="2" fill="#e02020"/><circle cx="1617.6" cy="210.5" r="2" fill="#e02020"/><circle cx="1612.6" cy="198.5" r="2" fill="#e02020"/><circle cx="1617.6" cy="186.5" r="2" fill="#e02020"/><circle cx="1629.6" cy="181.5" r="2" fill="#e02020"/><circle cx="1641.6" cy="186.5" r="2" fill="#e02020"/><circle cx="1396.2" cy="213.7" r="26" fill="none" stroke="#9a9a9a" stroke-width="1.6"/><circle cx="1420.3" cy="204.0" r="2.3" fill="#d42020"/><circle cx="1422.2" cy="213.9" r="2.3" fill="#8a8a8a"/><circle cx="1420.1" cy="223.9" r="2.3" fill="#d42020"/><circle cx="1414.4" cy="232.2" r="2.3" fill="#8a8a8a"/><circle cx="1405.9" cy="237.8" r="2.3" fill="#d42020"/><circle cx="1396.0" cy="239.7" r="2.3" fill="#8a8a8a"/><circle cx="1386.0" cy="237.6" r="2.3" fill="#d42020"/><circle cx="1377.7" cy="231.9" r="2.3" fill="#8a8a8a"/><circle cx="1372.1" cy="223.4" r="2.3" fill="#d42020"/><circle cx="1370.2" cy="213.5" r="2.3" fill="#8a8a8a"/><circle cx="1372.3" cy="203.5" r="2.3" fill="#d42020"/><circle cx="1378.0" cy="195.2" r="2.3" fill="#8a8a8a"/><circle cx="1386.5" cy="189.6" r="2.3" fill="#d42020"/><circle cx="1396.4" cy="187.7" r="2.3" fill="#8a8a8a"/><circle cx="1406.4" cy="189.8" r="2.3" fill="#d42020"/><circle cx="1414.7" cy="195.5" r="2.3" fill="#8a8a8a"/><polygon points="1419.2,213.9 1412.3,230.1 1396.0,236.7 1379.8,229.8 1373.2,213.5 1380.1,197.3 1396.4,190.7 1412.6,197.6" fill="#27307c"/><polygon points="1405.5,210.0 1412.7,197.7 1419.2,213.7" fill="#162060"/><polygon points="1405.4,217.6 1419.2,214.1 1412.5,230.0" fill="#f0f2f8"/><polygon points="1399.9,223.0 1412.2,230.2 1396.2,236.7" fill="#1e2a70"/><polygon points="1392.3,222.9 1395.8,236.7 1379.9,230.0" fill="#6a5aa8"/><polygon points="1386.9,217.4 1379.7,229.7 1373.2,213.7" fill="#162060"/><polygon points="1387.0,209.8 1373.2,213.3 1379.9,197.4" fill="#f0f2f8"/><polygon points="1392.5,204.4 1380.2,197.2 1396.2,190.7" fill="#1e2a70"/><polygon points="1400.1,204.5 1396.6,190.7 1412.5,197.4" fill="#6a5aa8"/><polygon points="1409.1,219.2 1390.7,226.6 1383.3,208.2 1401.7,200.8" fill="#7080c8" stroke="#1e2870" stroke-width="1.2"/><circle cx="1413.2" cy="213.7" r="2" fill="#e02020"/><circle cx="1408.2" cy="225.7" r="2" fill="#e02020"/><circle cx="1396.2" cy="230.7" r="2" fill="#e02020"/><circle cx="1384.2" cy="225.7" r="2" fill="#e02020"/><circle cx="1379.2" cy="213.7" r="2" fill="#e02020"/><circle cx="1384.2" cy="201.7" r="2" fill="#e02020"/><circle cx="1396.2" cy="196.7" r="2" fill="#e02020"/><circle cx="1408.2" cy="201.7" r="2" fill="#e02020"/><circle cx="1491.2" cy="253.6" r="26" fill="none" stroke="#9a9a9a" stroke-width="1.6"/><circle cx="1515.3" cy="243.9" r="2.3" fill="#d42020"/><circle cx="1517.2" cy="253.8" r="2.3" fill="#8a8a8a"/><circle cx="1515.1" cy="263.8" r="2.3" fill="#d42020"/><circle cx="1509.4" cy="272.1" r="2.3" fill="#8a8a8a"/><circle cx="1500.9" cy="277.7" r="2.3" fill="#d42020"/><circle cx="1491.0" cy="279.6" r="2.3" fill="#8a8a8a"/><circle cx="1481.0" cy="277.5" r="2.3" fill="#d42020"/><circle cx="1472.7" cy="271.8" r="2.3" fill="#8a8a8a"/><circle cx="1467.1" cy="263.3" r="2.3" fill="#d42020"/><circle cx="1465.2" cy="253.4" r="2.3" fill="#8a8a8a"/><circle cx="1467.3" cy="243.4" r="2.3" fill="#d42020"/><circle cx="1473.0" cy="235.1" r="2.3" fill="#8a8a8a"/><circle cx="1481.5" cy="229.5" r="2.3" fill="#d42020"/><circle cx="1491.4" cy="227.6" r="2.3" fill="#8a8a8a"/><circle cx="1501.4" cy="229.7" r="2.3" fill="#d42020"/><circle cx="1509.7" cy="235.4" r="2.3" fill="#8a8a8a"/><polygon points="1514.2,253.8 1507.3,270.0 1491.0,276.6 1474.8,269.7 1468.2,253.4 1475.1,237.2 1491.4,230.6 1507.6,237.5" fill="#27307c"/><polygon points="1500.5,249.9 1507.7,237.6 1514.2,253.6" fill="#162060"/><polygon points="1500.4,257.5 1514.2,254.0 1507.5,269.9" fill="#4a4c9c"/><polygon points="1494.9,262.9 1507.2,270.1 1491.2,276.6" fill="#1e2a70"/><polygon points="1487.3,262.8 1490.8,276.6 1474.9,269.9" fill="#6a5aa8"/><polygon points="1481.9,257.3 1474.7,269.6 1468.2,253.6" fill="#162060"/><polygon points="1482.0,249.7 1468.2,253.2 1474.9,237.3" fill="#4a4c9c"/><polygon points="1487.5,244.3 1475.2,237.1 1491.2,230.6" fill="#1e2a70"/><polygon points="1495.1,244.4 1491.6,230.6 1507.5,237.3" fill="#6a5aa8"/><polygon points="1504.1,259.1 1485.7,266.5 1478.3,248.1 1496.7,240.7" fill="#7080c8" stroke="#1e2870" stroke-width="1.2"/><circle cx="1508.2" cy="253.6" r="2" fill="#e02020"/><circle cx="1503.2" cy="265.6" r="2" fill="#e02020"/><circle cx="1491.2" cy="270.6" r="2" fill="#e02020"/><circle cx="1479.2" cy="265.6" r="2" fill="#e02020"/><circle cx="1474.2" cy="253.6" r="2" fill="#e02020"/><circle cx="1479.2" cy="241.6" r="2" fill="#e02020"/><circle cx="1491.2" cy="236.6" r="2" fill="#e02020"/><circle cx="1503.2" cy="241.6" r="2" fill="#e02020"/><circle cx="1587.4" cy="293.5" r="26" fill="none" stroke="#9a9a9a" stroke-width="1.6"/><circle cx="1611.5" cy="283.8" r="2.3" fill="#d42020"/><circle cx="1613.4" cy="293.7" r="2.3" fill="#8a8a8a"/><circle cx="1611.3" cy="303.7" r="2.3" fill="#d42020"/><circle cx="1605.6" cy="312.0" r="2.3" fill="#8a8a8a"/><circle cx="1597.1" cy="317.6" r="2.3" fill="#d42020"/><circle cx="1587.2" cy="319.5" r="2.3" fill="#8a8a8a"/><circle cx="1577.2" cy="317.4" r="2.3" fill="#d42020"/><circle cx="1568.9" cy="311.7" r="2.3" fill="#8a8a8a"/><circle cx="1563.3" cy="303.2" r="2.3" fill="#d42020"/><circle cx="1561.4" cy="293.3" r="2.3" fill="#8a8a8a"/><circle cx="1563.5" cy="283.3" r="2.3" fill="#d42020"/><circle cx="1569.2" cy="275.0" r="2.3" fill="#8a8a8a"/><circle cx="1577.7" cy="269.4" r="2.3" fill="#d42020"/><circle cx="1587.6" cy="267.5" r="2.3" fill="#8a8a8a"/><circle cx="1597.6" cy="269.6" r="2.3" fill="#d42020"/><circle cx="1605.9" cy="275.3" r="2.3" fill="#8a8a8a"/><polygon points="1610.4,293.7 1603.5,309.9 1587.2,316.5 1571.0,309.6 1564.4,293.3 1571.3,277.1 1587.6,270.5 1603.8,277.4" fill="#27307c"/><polygon points="1596.7,289.8 1603.9,277.5 1610.4,293.5" fill="#162060"/><polygon points="1596.6,297.4 1610.4,293.9 1603.7,309.8" fill="#4a4c9c"/><polygon points="1591.1,302.8 1603.4,310.0 1587.4,316.5" fill="#1e2a70"/><polygon points="1583.5,302.7 1587.0,316.5 1571.1,309.8" fill="#6a5aa8"/><polygon points="1578.1,297.2 1570.9,309.5 1564.4,293.5" fill="#162060"/><polygon points="1578.2,289.6 1564.4,293.1 1571.1,277.2" fill="#4a4c9c"/><polygon points="1583.7,284.2 1571.4,277.0 1587.4,270.5" fill="#1e2a70"/><polygon points="1591.3,284.3 1587.8,270.5 1603.7,277.2" fill="#6a5aa8"/><polygon points="1600.3,299.0 1581.9,306.4 1574.5,288.0 1592.9,280.6" fill="#7080c8" stroke="#1e2870" stroke-width="1.2"/><circle cx="1604.4" cy="293.5" r="2" fill="#e02020"/><circle cx="1599.4" cy="305.5" r="2" fill="#e02020"/><circle cx="1587.4" cy="310.5" r="2" fill="#e02020"/><circle cx="1575.4" cy="305.5" r="2" fill="#e02020"/><circle cx="1570.4" cy="293.5" r="2" fill="#e02020"/><circle cx="1575.4" cy="281.5" r="2" fill="#e02020"/><circle cx="1587.4" cy="276.5" r="2" fill="#e02020"/><circle cx="1599.4" cy="281.5" r="2" fill="#e02020"/><circle cx="1355.2" cy="308.7" r="26" fill="none" stroke="#9a9a9a" stroke-width="1.6"/><circle cx="1379.3" cy="299.0" r="2.3" fill="#d42020"/><circle cx="1381.2" cy="308.9" r="2.3" fill="#8a8a8a"/><circle cx="1379.1" cy="318.9" r="2.3" fill="#d42020"/><circle cx="1373.4" cy="327.2" r="2.3" fill="#8a8a8a"/><circle cx="1364.9" cy="332.8" r="2.3" fill="#d42020"/><circle cx="1355.0" cy="334.7" r="2.3" fill="#8a8a8a"/><circle cx="1345.0" cy="332.6" r="2.3" fill="#d42020"/><circle cx="1336.7" cy="326.9" r="2.3" fill="#8a8a8a"/><circle cx="1331.1" cy="318.4" r="2.3" fill="#d42020"/><circle cx="1329.2" cy="308.5" r="2.3" fill="#8a8a8a"/><circle cx="1331.3" cy="298.5" r="2.3" fill="#d42020"/><circle cx="1337.0" cy="290.2" r="2.3" fill="#8a8a8a"/><circle cx="1345.5" cy="284.6" r="2.3" fill="#d42020"/><circle cx="1355.4" cy="282.7" r="2.3" fill="#8a8a8a"/><circle cx="1365.4" cy="284.8" r="2.3" fill="#d42020"/><circle cx="1373.7" cy="290.5" r="2.3" fill="#8a8a8a"/><polygon points="1378.2,308.9 1371.3,325.1 1355.0,331.7 1338.8,324.8 1332.2,308.5 1339.1,292.3 1355.4,285.7 1371.6,292.6" fill="#27307c"/><polygon points="1364.5,305.0 1371.7,292.7 1378.2,308.7" fill="#162060"/><polygon points="1364.4,312.6 1378.2,309.1 1371.5,325.0" fill="#f0f2f8"/><polygon points="1358.9,318.0 1371.2,325.2 1355.2,331.7" fill="#1e2a70"/><polygon points="1351.3,317.9 1354.8,331.7 1338.9,325.0" fill="#6a5aa8"/><polygon points="1345.9,312.4 1338.7,324.7 1332.2,308.7" fill="#162060"/><polygon points="1346.0,304.8 1332.2,308.3 1338.9,292.4" fill="#f0f2f8"/><polygon points="1351.5,299.4 1339.2,292.2 1355.2,285.7" fill="#1e2a70"/><polygon points="1359.1,299.5 1355.6,285.7 1371.5,292.4" fill="#6a5aa8"/><polygon points="1368.1,314.2 1349.7,321.6 1342.3,303.2 1360.7,295.8" fill="#7080c8" stroke="#1e2870" stroke-width="1.2"/><circle cx="1372.2" cy="308.7" r="2" fill="#e02020"/><circle cx="1367.2" cy="320.7" r="2" fill="#e02020"/><circle cx="1355.2" cy="325.7" r="2" fill="#e02020"/><circle cx="1343.2" cy="320.7" r="2" fill="#e02020"/><circle cx="1338.2" cy="308.7" r="2" fill="#e02020"/><circle cx="1343.2" cy="296.7" r="2" fill="#e02020"/><circle cx="1355.2" cy="291.7" r="2" fill="#e02020"/><circle cx="1367.2" cy="296.7" r="2" fill="#e02020"/><circle cx="1450.2" cy="349.8" r="26" fill="none" stroke="#9a9a9a" stroke-width="1.6"/><circle cx="1474.3" cy="340.1" r="2.3" fill="#d42020"/><circle cx="1476.2" cy="350.0" r="2.3" fill="#8a8a8a"/><circle cx="1474.1" cy="360.0" r="2.3" fill="#d42020"/><circle cx="1468.4" cy="368.3" r="2.3" fill="#8a8a8a"/><circle cx="1459.9" cy="373.9" r="2.3" fill="#d42020"/><circle cx="1450.0" cy="375.8" r="2.3" fill="#8a8a8a"/><circle cx="1440.0" cy="373.7" r="2.3" fill="#d42020"/><circle cx="1431.7" cy="368.0" r="2.3" fill="#8a8a8a"/><circle cx="1426.1" cy="359.5" r="2.3" fill="#d42020"/><circle cx="1424.2" cy="349.6" r="2.3" fill="#8a8a8a"/><circle cx="1426.3" cy="339.6" r="2.3" fill="#d42020"/><circle cx="1432.0" cy="331.3" r="2.3" fill="#8a8a8a"/><circle cx="1440.5" cy="325.7" r="2.3" fill="#d42020"/><circle cx="1450.4" cy="323.8" r="2.3" fill="#8a8a8a"/><circle cx="1460.4" cy="325.9" r="2.3" fill="#d42020"/><circle cx="1468.7" cy="331.6" r="2.3" fill="#8a8a8a"/><polygon points="1473.2,350.0 1466.3,366.2 1450.0,372.8 1433.8,365.9 1427.2,349.6 1434.1,333.4 1450.4,326.8 1466.6,333.7" fill="#27307c"/><polygon points="1459.5,346.1 1466.7,333.8 1473.2,349.8" fill="#162060"/><polygon points="1459.4,353.7 1473.2,350.2 1466.5,366.1" fill="#4a4c9c"/><polygon points="1453.9,359.1 1466.2,366.3 1450.2,372.8" fill="#1e2a70"/><polygon points="1446.3,359.0 1449.8,372.8 1433.9,366.1" fill="#6a5aa8"/><polygon points="1440.9,353.5 1433.7,365.8 1427.2,349.8" fill="#162060"/><polygon points="1441.0,345.9 1427.2,349.4 1433.9,333.5" fill="#4a4c9c"/><polygon points="1446.5,340.5 1434.2,333.3 1450.2,326.8" fill="#1e2a70"/><polygon points="1454.1,340.6 1450.6,326.8 1466.5,333.5" fill="#6a5aa8"/><polygon points="1463.1,355.3 1444.7,362.7 1437.3,344.3 1455.7,336.9" fill="#7080c8" stroke="#1e2870" stroke-width="1.2"/><circle cx="1467.2" cy="349.8" r="2" fill="#e02020"/><circle cx="1462.2" cy="361.8" r="2" fill="#e02020"/><circle cx="1450.2" cy="366.8" r="2" fill="#e02020"/><circle cx="1438.2" cy="361.8" r="2" fill="#e02020"/><circle cx="1433.2" cy="349.8" r="2" fill="#e02020"/><circle cx="1438.2" cy="337.8" r="2" fill="#e02020"/><circle cx="1450.2" cy="332.8" r="2" fill="#e02020"/><circle cx="1462.2" cy="337.8" r="2" fill="#e02020"/><circle cx="1546.4" cy="389.6" r="26" fill="none" stroke="#9a9a9a" stroke-width="1.6"/><circle cx="1570.5" cy="379.9" r="2.3" fill="#d42020"/><circle cx="1572.4" cy="389.8" r="2.3" fill="#8a8a8a"/><circle cx="1570.3" cy="399.8" r="2.3" fill="#d42020"/><circle cx="1564.6" cy="408.1" r="2.3" fill="#8a8a8a"/><circle cx="1556.1" cy="413.7" r="2.3" fill="#d42020"/><circle cx="1546.2" cy="415.6" r="2.3" fill="#8a8a8a"/><circle cx="1536.2" cy="413.5" r="2.3" fill="#d42020"/><circle cx="1527.9" cy="407.8" r="2.3" fill="#8a8a8a"/><circle cx="1522.3" cy="399.3" r="2.3" fill="#d42020"/><circle cx="1520.4" cy="389.4" r="2.3" fill="#8a8a8a"/><circle cx="1522.5" cy="379.4" r="2.3" fill="#d42020"/><circle cx="1528.2" cy="371.1" r="2.3" fill="#8a8a8a"/><circle cx="1536.7" cy="365.5" r="2.3" fill="#d42020"/><circle cx="1546.6" cy="363.6" r="2.3" fill="#8a8a8a"/><circle cx="1556.6" cy="365.7" r="2.3" fill="#d42020"/><circle cx="1564.9" cy="371.4" r="2.3" fill="#8a8a8a"/><polygon points="1569.4,389.8 1562.5,406.0 1546.2,412.6 1530.0,405.7 1523.4,389.4 1530.3,373.2 1546.6,366.6 1562.8,373.5" fill="#27307c"/><polygon points="1555.7,385.9 1562.9,373.6 1569.4,389.6" fill="#162060"/><polygon points="1555.6,393.5 1569.4,390.0 1562.7,405.9" fill="#4a4c9c"/><polygon points="1550.1,398.9 1562.4,406.1 1546.4,412.6" fill="#1e2a70"/><polygon points="1542.5,398.8 1546.0,412.6 1530.1,405.9" fill="#6a5aa8"/><polygon points="1537.1,393.3 1529.9,405.6 1523.4,389.6" fill="#162060"/><polygon points="1537.2,385.7 1523.4,389.2 1530.1,373.3" fill="#4a4c9c"/><polygon points="1542.7,380.3 1530.4,373.1 1546.4,366.6" fill="#1e2a70"/><polygon points="1550.3,380.4 1546.8,366.6 1562.7,373.3" fill="#6a5aa8"/><polygon points="1559.3,395.1 1540.9,402.5 1533.5,384.1 1551.9,376.7" fill="#7080c8" stroke="#1e2870" stroke-width="1.2"/><circle cx="1563.4" cy="389.6" r="2" fill="#e02020"/><circle cx="1558.4" cy="401.6" r="2" fill="#e02020"/><circle cx="1546.4" cy="406.6" r="2" fill="#e02020"/><circle cx="1534.4" cy="401.6" r="2" fill="#e02020"/><circle cx="1529.4" cy="389.6" r="2" fill="#e02020"/><circle cx="1534.4" cy="377.6" r="2" fill="#e02020"/><circle cx="1546.4" cy="372.6" r="2" fill="#e02020"/><circle cx="1558.4" cy="377.6" r="2" fill="#e02020"/></g><g><defs>
<radialGradient id="grnS" cx="0.6" cy="0.5" r="0.62">
 <stop offset="0" stop-color="#3cb050"/>
 <stop offset="0.55" stop-color="#229038"/>
 <stop offset="0.85" stop-color="#136a26"/>
 <stop offset="1" stop-color="#0a4a18"/>
</radialGradient>
<radialGradient id="hl" cx="0.5" cy="0.5" r="0.5">
 <stop offset="0" stop-color="#ffffff"/>
 <stop offset="0.45" stop-color="#ffffff"/>
 <stop offset="1" stop-color="#ffffff" stop-opacity="0"/>
</radialGradient>
</defs><path d="M1765.8,404.1 L1802.5,402.2 L1818.0,423.4 L1827.6,440.8 L1839.2,465.9 L1823.8,496.8" fill="none" stroke="#b8b8b8" stroke-width="9" stroke-linejoin="round" stroke-linecap="round" opacity="0.85"/><path d="M1651.8,473.6 L1632.5,504.6 L1648.0,523.9 L1667.3,547.1 L1673.1,568.3 L1709.8,564.5" fill="none" stroke="#b8b8b8" stroke-width="9" stroke-linejoin="round" stroke-linecap="round" opacity="0.85"/><path d="M1651.8,473.6 L1667.3,442.7 L1698.2,423.4 L1729.1,406.0 L1765.8,404.1" fill="none" stroke="#b8b8b8" stroke-width="6" stroke-linejoin="round" stroke-linecap="round" opacity="0.85"/><path d="M1709.8,564.5 L1748.4,562.5 L1808.3,527.7 L1823.8,496.8" fill="none" stroke="#b8b8b8" stroke-width="6" stroke-linejoin="round" stroke-linecap="round" opacity="0.85"/><polygon points="1810.4,405.5 1805.3,411.6 1797.4,410.2 1794.6,402.7 1799.8,396.6 1807.7,398.0" fill="none" stroke="#b0b0b0" stroke-width="2.2"/><circle cx="1810.4" cy="405.5" r="1.6" fill="#9a9a9a"/><circle cx="1805.3" cy="411.6" r="1.6" fill="#9a9a9a"/><circle cx="1797.4" cy="410.2" r="1.6" fill="#9a9a9a"/><circle cx="1794.6" cy="402.7" r="1.6" fill="#9a9a9a"/><circle cx="1799.8" cy="396.6" r="1.6" fill="#9a9a9a"/><circle cx="1807.7" cy="398.0" r="1.6" fill="#9a9a9a"/><polygon points="1825.9,424.8 1820.7,430.9 1812.8,429.5 1810.1,422.0 1815.2,415.9 1823.1,417.3" fill="none" stroke="#b0b0b0" stroke-width="2.2"/><circle cx="1825.9" cy="424.8" r="1.6" fill="#9a9a9a"/><circle cx="1820.7" cy="430.9" r="1.6" fill="#9a9a9a"/><circle cx="1812.8" cy="429.5" r="1.6" fill="#9a9a9a"/><circle cx="1810.1" cy="422.0" r="1.6" fill="#9a9a9a"/><circle cx="1815.2" cy="415.9" r="1.6" fill="#9a9a9a"/><circle cx="1823.1" cy="417.3" r="1.6" fill="#9a9a9a"/><polygon points="1835.5,442.2 1830.4,448.3 1822.5,446.9 1819.8,439.4 1824.9,433.3 1832.8,434.7" fill="none" stroke="#b0b0b0" stroke-width="2.2"/><circle cx="1835.5" cy="442.2" r="1.6" fill="#9a9a9a"/><circle cx="1830.4" cy="448.3" r="1.6" fill="#9a9a9a"/><circle cx="1822.5" cy="446.9" r="1.6" fill="#9a9a9a"/><circle cx="1819.8" cy="439.4" r="1.6" fill="#9a9a9a"/><circle cx="1824.9" cy="433.3" r="1.6" fill="#9a9a9a"/><circle cx="1832.8" cy="434.7" r="1.6" fill="#9a9a9a"/><polygon points="1847.1,465.4 1842.0,471.5 1834.1,470.1 1831.3,462.6 1836.5,456.5 1844.4,457.9" fill="none" stroke="#b0b0b0" stroke-width="2.2"/><circle cx="1847.1" cy="465.4" r="1.6" fill="#9a9a9a"/><circle cx="1842.0" cy="471.5" r="1.6" fill="#9a9a9a"/><circle cx="1834.1" cy="470.1" r="1.6" fill="#9a9a9a"/><circle cx="1831.3" cy="462.6" r="1.6" fill="#9a9a9a"/><circle cx="1836.5" cy="456.5" r="1.6" fill="#9a9a9a"/><circle cx="1844.4" cy="457.9" r="1.6" fill="#9a9a9a"/><polygon points="1818.1,436.4 1813.0,442.5 1805.1,441.1 1802.4,433.6 1807.5,427.5 1815.4,428.9" fill="none" stroke="#b0b0b0" stroke-width="2.2"/><circle cx="1818.1" cy="436.4" r="1.6" fill="#9a9a9a"/><circle cx="1813.0" cy="442.5" r="1.6" fill="#9a9a9a"/><circle cx="1805.1" cy="441.1" r="1.6" fill="#9a9a9a"/><circle cx="1802.4" cy="433.6" r="1.6" fill="#9a9a9a"/><circle cx="1807.5" cy="427.5" r="1.6" fill="#9a9a9a"/><circle cx="1815.4" cy="428.9" r="1.6" fill="#9a9a9a"/><polygon points="1640.4,505.9 1635.2,512.1 1627.4,510.7 1624.6,503.2 1629.8,497.0 1637.6,498.4" fill="none" stroke="#b0b0b0" stroke-width="2.2"/><circle cx="1640.4" cy="505.9" r="1.6" fill="#9a9a9a"/><circle cx="1635.2" cy="512.1" r="1.6" fill="#9a9a9a"/><circle cx="1627.4" cy="510.7" r="1.6" fill="#9a9a9a"/><circle cx="1624.6" cy="503.2" r="1.6" fill="#9a9a9a"/><circle cx="1629.8" cy="497.0" r="1.6" fill="#9a9a9a"/><circle cx="1637.6" cy="498.4" r="1.6" fill="#9a9a9a"/><polygon points="1655.8,525.3 1650.7,531.4 1642.8,530.0 1640.1,522.5 1645.2,516.4 1653.1,517.8" fill="none" stroke="#b0b0b0" stroke-width="2.2"/><circle cx="1655.8" cy="525.3" r="1.6" fill="#9a9a9a"/><circle cx="1650.7" cy="531.4" r="1.6" fill="#9a9a9a"/><circle cx="1642.8" cy="530.0" r="1.6" fill="#9a9a9a"/><circle cx="1640.1" cy="522.5" r="1.6" fill="#9a9a9a"/><circle cx="1645.2" cy="516.4" r="1.6" fill="#9a9a9a"/><circle cx="1653.1" cy="517.8" r="1.6" fill="#9a9a9a"/><polygon points="1665.5,536.9 1660.4,543.0 1652.5,541.6 1649.7,534.1 1654.9,528.0 1662.8,529.3" fill="none" stroke="#b0b0b0" stroke-width="2.2"/><circle cx="1665.5" cy="536.9" r="1.6" fill="#9a9a9a"/><circle cx="1660.4" cy="543.0" r="1.6" fill="#9a9a9a"/><circle cx="1652.5" cy="541.6" r="1.6" fill="#9a9a9a"/><circle cx="1649.7" cy="534.1" r="1.6" fill="#9a9a9a"/><circle cx="1654.9" cy="528.0" r="1.6" fill="#9a9a9a"/><circle cx="1662.8" cy="529.3" r="1.6" fill="#9a9a9a"/><polygon points="1675.2,550.4 1670.0,556.5 1662.1,555.1 1659.4,547.6 1664.5,541.5 1672.4,542.9" fill="none" stroke="#b0b0b0" stroke-width="2.2"/><circle cx="1675.2" cy="550.4" r="1.6" fill="#9a9a9a"/><circle cx="1670.0" cy="556.5" r="1.6" fill="#9a9a9a"/><circle cx="1662.1" cy="555.1" r="1.6" fill="#9a9a9a"/><circle cx="1659.4" cy="547.6" r="1.6" fill="#9a9a9a"/><circle cx="1664.5" cy="541.5" r="1.6" fill="#9a9a9a"/><circle cx="1672.4" cy="542.9" r="1.6" fill="#9a9a9a"/><polygon points="1681.0,569.7 1675.8,575.8 1667.9,574.4 1665.2,566.9 1670.3,560.8 1678.2,562.2" fill="none" stroke="#b0b0b0" stroke-width="2.2"/><circle cx="1681.0" cy="569.7" r="1.6" fill="#9a9a9a"/><circle cx="1675.8" cy="575.8" r="1.6" fill="#9a9a9a"/><circle cx="1667.9" cy="574.4" r="1.6" fill="#9a9a9a"/><circle cx="1665.2" cy="566.9" r="1.6" fill="#9a9a9a"/><circle cx="1670.3" cy="560.8" r="1.6" fill="#9a9a9a"/><circle cx="1678.2" cy="562.2" r="1.6" fill="#9a9a9a"/><polygon points="1667.4,544.6 1662.3,550.7 1654.4,549.3 1651.7,541.8 1656.8,535.7 1664.7,537.1" fill="none" stroke="#b0b0b0" stroke-width="2.2"/><circle cx="1667.4" cy="544.6" r="1.6" fill="#9a9a9a"/><circle cx="1662.3" cy="550.7" r="1.6" fill="#9a9a9a"/><circle cx="1654.4" cy="549.3" r="1.6" fill="#9a9a9a"/><circle cx="1651.7" cy="541.8" r="1.6" fill="#9a9a9a"/><circle cx="1656.8" cy="535.7" r="1.6" fill="#9a9a9a"/><circle cx="1664.7" cy="537.1" r="1.6" fill="#9a9a9a"/><polygon points="1675.2,444.1 1670.0,450.3 1662.1,448.9 1659.4,441.3 1664.5,435.2 1672.4,436.6" fill="none" stroke="#b0b0b0" stroke-width="2.2"/><circle cx="1675.2" cy="444.1" r="1.6" fill="#9a9a9a"/><circle cx="1670.0" cy="450.3" r="1.6" fill="#9a9a9a"/><circle cx="1662.1" cy="448.9" r="1.6" fill="#9a9a9a"/><circle cx="1659.4" cy="441.3" r="1.6" fill="#9a9a9a"/><circle cx="1664.5" cy="435.2" r="1.6" fill="#9a9a9a"/><circle cx="1672.4" cy="436.6" r="1.6" fill="#9a9a9a"/><polygon points="1661.6,448.0 1656.5,454.1 1648.6,452.7 1645.9,445.2 1651.0,439.1 1658.9,440.5" fill="none" stroke="#b0b0b0" stroke-width="2.2"/><circle cx="1661.6" cy="448.0" r="1.6" fill="#9a9a9a"/><circle cx="1656.5" cy="454.1" r="1.6" fill="#9a9a9a"/><circle cx="1648.6" cy="452.7" r="1.6" fill="#9a9a9a"/><circle cx="1645.9" cy="445.2" r="1.6" fill="#9a9a9a"/><circle cx="1651.0" cy="439.1" r="1.6" fill="#9a9a9a"/><circle cx="1658.9" cy="440.5" r="1.6" fill="#9a9a9a"/><polygon points="1737.0,407.4 1731.8,413.5 1724.0,412.2 1721.2,404.6 1726.4,398.5 1734.2,399.9" fill="none" stroke="#b0b0b0" stroke-width="2.2"/><circle cx="1737.0" cy="407.4" r="1.6" fill="#9a9a9a"/><circle cx="1731.8" cy="413.5" r="1.6" fill="#9a9a9a"/><circle cx="1724.0" cy="412.2" r="1.6" fill="#9a9a9a"/><circle cx="1721.2" cy="404.6" r="1.6" fill="#9a9a9a"/><circle cx="1726.4" cy="398.5" r="1.6" fill="#9a9a9a"/><circle cx="1734.2" cy="399.9" r="1.6" fill="#9a9a9a"/><polygon points="1816.2,529.1 1811.1,535.3 1803.2,533.9 1800.4,526.4 1805.6,520.2 1813.5,521.6" fill="none" stroke="#b0b0b0" stroke-width="2.2"/><circle cx="1816.2" cy="529.1" r="1.6" fill="#9a9a9a"/><circle cx="1811.1" cy="535.3" r="1.6" fill="#9a9a9a"/><circle cx="1803.2" cy="533.9" r="1.6" fill="#9a9a9a"/><circle cx="1800.4" cy="526.4" r="1.6" fill="#9a9a9a"/><circle cx="1805.6" cy="520.2" r="1.6" fill="#9a9a9a"/><circle cx="1813.5" cy="521.6" r="1.6" fill="#9a9a9a"/><polygon points="1806.5,536.9 1801.4,543.0 1793.5,541.6 1790.8,534.1 1795.9,528.0 1803.8,529.3" fill="none" stroke="#b0b0b0" stroke-width="2.2"/><circle cx="1806.5" cy="536.9" r="1.6" fill="#9a9a9a"/><circle cx="1801.4" cy="543.0" r="1.6" fill="#9a9a9a"/><circle cx="1793.5" cy="541.6" r="1.6" fill="#9a9a9a"/><circle cx="1790.8" cy="534.1" r="1.6" fill="#9a9a9a"/><circle cx="1795.9" cy="528.0" r="1.6" fill="#9a9a9a"/><circle cx="1803.8" cy="529.3" r="1.6" fill="#9a9a9a"/><polygon points="1756.3,563.9 1751.2,570.0 1743.3,568.6 1740.5,561.1 1745.7,555.0 1753.6,556.4" fill="none" stroke="#b0b0b0" stroke-width="2.2"/><circle cx="1756.3" cy="563.9" r="1.6" fill="#9a9a9a"/><circle cx="1751.2" cy="570.0" r="1.6" fill="#9a9a9a"/><circle cx="1743.3" cy="568.6" r="1.6" fill="#9a9a9a"/><circle cx="1740.5" cy="561.1" r="1.6" fill="#9a9a9a"/><circle cx="1745.7" cy="555.0" r="1.6" fill="#9a9a9a"/><circle cx="1753.6" cy="556.4" r="1.6" fill="#9a9a9a"/><circle cx="1738.8" cy="487.2" r="72.5" fill="url(#grnS)"/><polygon points="1711.5,437.3 1707.7,443.8 1700.2,443.8 1696.5,437.3 1700.2,430.8 1707.7,430.8" fill="none" stroke="#d0d0d0" stroke-width="1.6"/><circle cx="1711.5" cy="437.3" r="1.6" fill="#9a9a9a"/><circle cx="1707.7" cy="443.8" r="1.6" fill="#9a9a9a"/><circle cx="1700.2" cy="443.8" r="1.6" fill="#9a9a9a"/><circle cx="1696.5" cy="437.3" r="1.6" fill="#9a9a9a"/><circle cx="1700.2" cy="430.8" r="1.6" fill="#9a9a9a"/><circle cx="1707.7" cy="430.8" r="1.6" fill="#9a9a9a"/><polygon points="1722.7,430.8 1719.0,437.3 1711.5,437.3 1707.7,430.8 1711.5,424.3 1719.0,424.3" fill="none" stroke="#d0d0d0" stroke-width="1.6"/><circle cx="1722.7" cy="430.8" r="1.6" fill="#9a9a9a"/><circle cx="1719.0" cy="437.3" r="1.6" fill="#9a9a9a"/><circle cx="1711.5" cy="437.3" r="1.6" fill="#9a9a9a"/><circle cx="1707.7" cy="430.8" r="1.6" fill="#9a9a9a"/><circle cx="1711.5" cy="424.3" r="1.6" fill="#9a9a9a"/><circle cx="1719.0" cy="424.3" r="1.6" fill="#9a9a9a"/><polygon points="1771.3,463.7 1764.8,460.0 1764.8,452.5 1771.3,448.7 1777.8,452.5 1777.8,460.0" fill="none" stroke="#d0d0d0" stroke-width="1.6"/><circle cx="1771.3" cy="463.7" r="1.6" fill="#9a9a9a"/><circle cx="1764.8" cy="460.0" r="1.6" fill="#9a9a9a"/><circle cx="1764.8" cy="452.5" r="1.6" fill="#9a9a9a"/><circle cx="1771.3" cy="448.7" r="1.6" fill="#9a9a9a"/><circle cx="1777.8" cy="452.5" r="1.6" fill="#9a9a9a"/><circle cx="1777.8" cy="460.0" r="1.6" fill="#9a9a9a"/><polygon points="1777.8,475.0 1771.3,471.2 1771.3,463.7 1777.8,460.0 1784.3,463.7 1784.3,471.2" fill="none" stroke="#d0d0d0" stroke-width="1.6"/><circle cx="1777.8" cy="475.0" r="1.6" fill="#9a9a9a"/><circle cx="1771.3" cy="471.2" r="1.6" fill="#9a9a9a"/><circle cx="1771.3" cy="463.7" r="1.6" fill="#9a9a9a"/><circle cx="1777.8" cy="460.0" r="1.6" fill="#9a9a9a"/><circle cx="1784.3" cy="463.7" r="1.6" fill="#9a9a9a"/><circle cx="1784.3" cy="471.2" r="1.6" fill="#9a9a9a"/><polygon points="1694.0,512.0 1687.5,508.3 1687.5,500.8 1694.0,497.0 1700.5,500.8 1700.5,508.3" fill="none" stroke="#d0d0d0" stroke-width="1.6"/><circle cx="1694.0" cy="512.0" r="1.6" fill="#9a9a9a"/><circle cx="1687.5" cy="508.3" r="1.6" fill="#9a9a9a"/><circle cx="1687.5" cy="500.8" r="1.6" fill="#9a9a9a"/><circle cx="1694.0" cy="497.0" r="1.6" fill="#9a9a9a"/><circle cx="1700.5" cy="500.8" r="1.6" fill="#9a9a9a"/><circle cx="1700.5" cy="508.3" r="1.6" fill="#9a9a9a"/><polygon points="1700.5,523.3 1694.0,519.5 1694.0,512.0 1700.5,508.3 1707.0,512.0 1707.0,519.5" fill="none" stroke="#d0d0d0" stroke-width="1.6"/><circle cx="1700.5" cy="523.3" r="1.6" fill="#9a9a9a"/><circle cx="1694.0" cy="519.5" r="1.6" fill="#9a9a9a"/><circle cx="1694.0" cy="512.0" r="1.6" fill="#9a9a9a"/><circle cx="1700.5" cy="508.3" r="1.6" fill="#9a9a9a"/><circle cx="1707.0" cy="512.0" r="1.6" fill="#9a9a9a"/><circle cx="1707.0" cy="519.5" r="1.6" fill="#9a9a9a"/><polygon points="1771.3,537.7 1767.6,544.2 1760.1,544.2 1756.3,537.7 1760.1,531.2 1767.6,531.2" fill="none" stroke="#d0d0d0" stroke-width="1.6"/><circle cx="1771.3" cy="537.7" r="1.6" fill="#9a9a9a"/><circle cx="1767.6" cy="544.2" r="1.6" fill="#9a9a9a"/><circle cx="1760.1" cy="544.2" r="1.6" fill="#9a9a9a"/><circle cx="1756.3" cy="537.7" r="1.6" fill="#9a9a9a"/><circle cx="1760.1" cy="531.2" r="1.6" fill="#9a9a9a"/><circle cx="1767.6" cy="531.2" r="1.6" fill="#9a9a9a"/><polygon points="1782.6,531.2 1778.9,537.7 1771.4,537.7 1767.6,531.2 1771.4,524.7 1778.9,524.7" fill="none" stroke="#d0d0d0" stroke-width="1.6"/><circle cx="1782.6" cy="531.2" r="1.6" fill="#9a9a9a"/><circle cx="1778.9" cy="537.7" r="1.6" fill="#9a9a9a"/><circle cx="1771.4" cy="537.7" r="1.6" fill="#9a9a9a"/><circle cx="1767.6" cy="531.2" r="1.6" fill="#9a9a9a"/><circle cx="1771.4" cy="524.7" r="1.6" fill="#9a9a9a"/><circle cx="1778.9" cy="524.7" r="1.6" fill="#9a9a9a"/><line x1="1765.8" y1="404.1" x2="1707.9" y2="435.0" stroke="#c8c8c8" stroke-width="1.8"/><line x1="1651.8" y1="473.6" x2="1696.3" y2="508.4" stroke="#c8c8c8" stroke-width="1.8"/><line x1="1823.8" y1="496.8" x2="1773.5" y2="460.1" stroke="#c8c8c8" stroke-width="1.8"/><line x1="1709.8" y1="564.5" x2="1767.7" y2="535.5" stroke="#c8c8c8" stroke-width="1.8"/><line x1="1765.8" y1="404.1" x2="1773.5" y2="460.1" stroke="#c8c8c8" stroke-width="1.8"/><line x1="1651.8" y1="473.6" x2="1707.9" y2="435.0" stroke="#c8c8c8" stroke-width="1.8"/><line x1="1823.8" y1="496.8" x2="1767.7" y2="535.5" stroke="#c8c8c8" stroke-width="1.8"/><line x1="1709.8" y1="564.5" x2="1696.3" y2="508.4" stroke="#c8c8c8" stroke-width="1.8"/><circle cx="1748.4" cy="488.1" r="13" fill="url(#hl)"/><circle cx="1765.8" cy="404.1" r="11" fill="#f0b0a0" opacity="0.8"/><circle cx="1766.4" cy="412.5" r="2.6" fill="#e01818"/><circle cx="1759.6" cy="410.7" r="2.6" fill="#e01818"/><circle cx="1763.2" cy="401.5" r="2.6" fill="#e01818"/><circle cx="1777.1" cy="405.0" r="2.6" fill="#e01818"/><circle cx="1765.5" cy="409.4" r="2.6" fill="#e01818"/><circle cx="1773.5" cy="403.9" r="2.6" fill="#e01818"/><circle cx="1769.8" cy="397.5" r="2.6" fill="#e01818"/><circle cx="1762.9" cy="400.6" r="2.6" fill="#e01818"/><circle cx="1758.1" cy="395.3" r="2.6" fill="#e01818"/><circle cx="1755.5" cy="402.6" r="2.6" fill="#e01818"/><circle cx="1764.1" cy="400.9" r="2.6" fill="#e01818"/><circle cx="1766.3" cy="395.2" r="2.6" fill="#e01818"/><circle cx="1764.8" cy="407.2" r="2.6" fill="#e01818"/><circle cx="1770.9" cy="398.3" r="2.6" fill="#e01818"/><circle cx="1763.5" cy="392.5" r="2.6" fill="#e01818"/><circle cx="1763.1" cy="392.2" r="2.6" fill="#e01818"/><circle cx="1757.1" cy="410.9" r="2.6" fill="#e01818"/><circle cx="1754.2" cy="408.3" r="2.6" fill="#e01818"/><circle cx="1768.8" cy="402.1" r="3" fill="#f4f4f4"/><circle cx="1651.8" cy="473.6" r="11" fill="#f0b0a0" opacity="0.8"/><circle cx="1654.7" cy="470.9" r="2.6" fill="#e01818"/><circle cx="1655.2" cy="477.5" r="2.6" fill="#e01818"/><circle cx="1659.0" cy="472.0" r="2.6" fill="#e01818"/><circle cx="1647.6" cy="469.3" r="2.6" fill="#e01818"/><circle cx="1644.9" cy="473.3" r="2.6" fill="#e01818"/><circle cx="1646.6" cy="480.7" r="2.6" fill="#e01818"/><circle cx="1641.4" cy="467.5" r="2.6" fill="#e01818"/><circle cx="1646.7" cy="462.4" r="2.6" fill="#e01818"/><circle cx="1659.8" cy="463.5" r="2.6" fill="#e01818"/><circle cx="1649.6" cy="469.5" r="2.6" fill="#e01818"/><circle cx="1659.9" cy="463.9" r="2.6" fill="#e01818"/><circle cx="1659.0" cy="468.7" r="2.6" fill="#e01818"/><circle cx="1650.6" cy="468.6" r="2.6" fill="#e01818"/><circle cx="1656.1" cy="466.0" r="2.6" fill="#e01818"/><circle cx="1651.0" cy="477.1" r="2.6" fill="#e01818"/><circle cx="1659.6" cy="463.4" r="2.6" fill="#e01818"/><circle cx="1661.1" cy="479.4" r="2.6" fill="#e01818"/><circle cx="1648.0" cy="476.0" r="2.6" fill="#e01818"/><circle cx="1654.8" cy="471.6" r="3" fill="#f4f4f4"/><circle cx="1823.8" cy="496.8" r="11" fill="#f0b0a0" opacity="0.8"/><circle cx="1820.9" cy="507.1" r="2.6" fill="#e01818"/><circle cx="1826.2" cy="494.3" r="2.6" fill="#e01818"/><circle cx="1821.2" cy="494.5" r="2.6" fill="#e01818"/><circle cx="1822.6" cy="490.6" r="2.6" fill="#e01818"/><circle cx="1833.2" cy="488.1" r="2.6" fill="#e01818"/><circle cx="1810.8" cy="496.4" r="2.6" fill="#e01818"/><circle cx="1822.4" cy="500.3" r="2.6" fill="#e01818"/><circle cx="1821.1" cy="494.9" r="2.6" fill="#e01818"/><circle cx="1826.1" cy="503.5" r="2.6" fill="#e01818"/><circle cx="1820.3" cy="493.9" r="2.6" fill="#e01818"/><circle cx="1835.1" cy="499.9" r="2.6" fill="#e01818"/><circle cx="1818.9" cy="508.4" r="2.6" fill="#e01818"/><circle cx="1829.2" cy="492.7" r="2.6" fill="#e01818"/><circle cx="1815.9" cy="498.8" r="2.6" fill="#e01818"/><circle cx="1818.3" cy="489.8" r="2.6" fill="#e01818"/><circle cx="1815.2" cy="493.5" r="2.6" fill="#e01818"/><circle cx="1831.3" cy="493.9" r="2.6" fill="#e01818"/><circle cx="1814.5" cy="501.1" r="2.6" fill="#e01818"/><circle cx="1826.8" cy="494.8" r="3" fill="#f4f4f4"/><circle cx="1709.8" cy="564.5" r="11" fill="#f0b0a0" opacity="0.8"/><circle cx="1710.3" cy="570.5" r="2.6" fill="#e01818"/><circle cx="1717.9" cy="563.4" r="2.6" fill="#e01818"/><circle cx="1706.8" cy="563.6" r="2.6" fill="#e01818"/><circle cx="1702.2" cy="569.0" r="2.6" fill="#e01818"/><circle cx="1718.9" cy="565.7" r="2.6" fill="#e01818"/><circle cx="1707.4" cy="561.8" r="2.6" fill="#e01818"/><circle cx="1704.5" cy="559.0" r="2.6" fill="#e01818"/><circle cx="1707.0" cy="558.6" r="2.6" fill="#e01818"/><circle cx="1707.0" cy="554.5" r="2.6" fill="#e01818"/><circle cx="1713.4" cy="565.0" r="2.6" fill="#e01818"/><circle cx="1704.1" cy="553.2" r="2.6" fill="#e01818"/><circle cx="1709.7" cy="572.1" r="2.6" fill="#e01818"/><circle cx="1704.6" cy="561.1" r="2.6" fill="#e01818"/><circle cx="1705.8" cy="569.1" r="2.6" fill="#e01818"/><circle cx="1703.7" cy="571.1" r="2.6" fill="#e01818"/><circle cx="1707.7" cy="570.9" r="2.6" fill="#e01818"/><circle cx="1710.3" cy="561.3" r="2.6" fill="#e01818"/><circle cx="1700.4" cy="560.1" r="2.6" fill="#e01818"/><circle cx="1712.8" cy="562.5" r="3" fill="#f4f4f4"/><circle cx="1767.7" cy="363.5" r="2.8" fill="#e01818"/><circle cx="1772.7" cy="364.5" r="2.6" fill="#e01818"/><circle cx="1769.7" cy="368.5" r="2.4" fill="#e01818"/><circle cx="1725.2" cy="388.6" r="2.8" fill="#e01818"/><circle cx="1730.2" cy="389.6" r="2.6" fill="#e01818"/><circle cx="1727.2" cy="393.6" r="2.4" fill="#e01818"/><circle cx="1667.3" cy="425.3" r="2.8" fill="#e01818"/><circle cx="1672.3" cy="426.3" r="2.6" fill="#e01818"/><circle cx="1669.3" cy="430.3" r="2.4" fill="#e01818"/><circle cx="1613.2" cy="456.3" r="2.8" fill="#e01818"/><circle cx="1618.2" cy="457.3" r="2.6" fill="#e01818"/><circle cx="1615.2" cy="461.3" r="2.4" fill="#e01818"/><circle cx="1816.0" cy="384.8" r="2.8" fill="#e01818"/><circle cx="1821.0" cy="385.8" r="2.6" fill="#e01818"/><circle cx="1818.0" cy="389.8" r="2.4" fill="#e01818"/><circle cx="1864.3" cy="458.2" r="2.8" fill="#e01818"/><circle cx="1869.3" cy="459.2" r="2.6" fill="#e01818"/><circle cx="1866.3" cy="463.2" r="2.4" fill="#e01818"/><circle cx="1860.5" cy="516.2" r="2.8" fill="#e01818"/><circle cx="1865.5" cy="517.2" r="2.6" fill="#e01818"/><circle cx="1862.5" cy="521.2" r="2.4" fill="#e01818"/><circle cx="1816.0" cy="545.1" r="2.8" fill="#e01818"/><circle cx="1821.0" cy="546.1" r="2.6" fill="#e01818"/><circle cx="1818.0" cy="550.1" r="2.4" fill="#e01818"/><circle cx="1758.1" cy="579.9" r="2.8" fill="#e01818"/><circle cx="1763.1" cy="580.9" r="2.6" fill="#e01818"/><circle cx="1760.1" cy="584.9" r="2.4" fill="#e01818"/><circle cx="1709.8" cy="610.8" r="2.8" fill="#e01818"/><circle cx="1714.8" cy="611.8" r="2.6" fill="#e01818"/><circle cx="1711.8" cy="615.8" r="2.4" fill="#e01818"/><circle cx="1661.5" cy="587.6" r="2.8" fill="#e01818"/><circle cx="1666.5" cy="588.6" r="2.6" fill="#e01818"/><circle cx="1663.5" cy="592.6" r="2.4" fill="#e01818"/><circle cx="1613.2" cy="510.4" r="2.8" fill="#e01818"/><circle cx="1618.2" cy="511.4" r="2.6" fill="#e01818"/><circle cx="1615.2" cy="515.4" r="2.4" fill="#e01818"/></g><g><path d="M1749.8,810.2 L1713,862.4 L1676.4,914.6" stroke="#777" stroke-width="2.2" fill="none"/><polygon points="1722.0,862.4 1717.5,870.2 1708.5,870.2 1704.0,862.4 1708.5,854.6 1717.5,854.6" fill="none" stroke="#777" stroke-width="2.2"/><circle cx="1722.0" cy="862.4" r="2.2" fill="#808080"/><circle cx="1717.5" cy="870.2" r="2.2" fill="#808080"/><circle cx="1708.5" cy="870.2" r="2.2" fill="#808080"/><circle cx="1704.0" cy="862.4" r="2.2" fill="#808080"/><circle cx="1708.5" cy="854.6" r="2.2" fill="#808080"/><circle cx="1717.5" cy="854.6" r="2.2" fill="#808080"/><path d="M1676.4,914.6 L1728.6,951.3 L1782.7,990" stroke="#777" stroke-width="2.2" fill="none"/><polygon points="1737.6,951.3 1733.1,959.1 1724.1,959.1 1719.6,951.3 1724.1,943.5 1733.1,943.5" fill="none" stroke="#777" stroke-width="2.2"/><circle cx="1737.6" cy="951.3" r="2.2" fill="#808080"/><circle cx="1733.1" cy="959.1" r="2.2" fill="#808080"/><circle cx="1724.1" cy="959.1" r="2.2" fill="#808080"/><circle cx="1719.6" cy="951.3" r="2.2" fill="#808080"/><circle cx="1724.1" cy="943.5" r="2.2" fill="#808080"/><circle cx="1733.1" cy="943.5" r="2.2" fill="#808080"/><path d="M1782.7,990 L1817.4,937.8 L1856.1,885.6" stroke="#777" stroke-width="2.2" fill="none"/><polygon points="1826.4,937.8 1821.9,945.6 1812.9,945.6 1808.4,937.8 1812.9,930.0 1821.9,930.0" fill="none" stroke="#777" stroke-width="2.2"/><circle cx="1826.4" cy="937.8" r="2.2" fill="#808080"/><circle cx="1821.9" cy="945.6" r="2.2" fill="#808080"/><circle cx="1812.9" cy="945.6" r="2.2" fill="#808080"/><circle cx="1808.4" cy="937.8" r="2.2" fill="#808080"/><circle cx="1812.9" cy="930.0" r="2.2" fill="#808080"/><circle cx="1821.9" cy="930.0" r="2.2" fill="#808080"/><polygon points="1764.3,844.3 1715.7,824.7 1735.3,776.1 1783.9,795.7" fill="#5fb4c4" /><polygon points="1773.6,830.1 1761.9,815.1 1780.7,812.4" fill="#4596a8" /><polygon points="1765.0,846.1 1752.6,836.7 1766.9,830.6" fill="#6cc0cf" /><polygon points="1729.9,834.0 1744.9,822.3 1747.6,841.1" fill="#6a2a8e" /><polygon points="1713.9,825.4 1723.3,813.0 1729.4,827.3" fill="#6cc0cf" /><polygon points="1726.0,790.3 1737.7,805.3 1718.9,808.0" fill="#6a2a8e" /><polygon points="1734.6,774.3 1747.0,783.7 1732.7,789.8" fill="#6cc0cf" /><polygon points="1769.7,786.4 1754.7,798.1 1752.0,779.3" fill="#4596a8" /><polygon points="1785.7,795.0 1776.3,807.4 1770.2,793.1" fill="#6cc0cf" /><polygon points="1758.4,830.5 1729.5,818.8 1741.2,789.9 1770.1,801.6" fill="#7acbd6" stroke="#3d8d9c" stroke-width="1.5"/><circle cx="1775.0" cy="826.5" r="2.6" fill="#7a7a7a"/><circle cx="1768.5" cy="837.4" r="2.6" fill="#e02424"/><circle cx="1756.0" cy="839.5" r="2.6" fill="#e02424"/><circle cx="1743.8" cy="842.6" r="2.6" fill="#7a7a7a"/><circle cx="1733.5" cy="835.4" r="2.6" fill="#e02424"/><circle cx="1722.6" cy="828.9" r="2.6" fill="#e02424"/><circle cx="1720.5" cy="816.4" r="2.6" fill="#7a7a7a"/><circle cx="1717.4" cy="804.2" r="2.6" fill="#e02424"/><circle cx="1724.6" cy="793.9" r="2.6" fill="#e02424"/><circle cx="1731.1" cy="783.0" r="2.6" fill="#7a7a7a"/><circle cx="1743.6" cy="780.9" r="2.6" fill="#e02424"/><circle cx="1755.8" cy="777.8" r="2.6" fill="#e02424"/><circle cx="1766.1" cy="785.0" r="2.6" fill="#7a7a7a"/><circle cx="1777.0" cy="791.5" r="2.6" fill="#e02424"/><circle cx="1779.1" cy="804.0" r="2.6" fill="#e02424"/><circle cx="1782.2" cy="816.2" r="2.6" fill="#7a7a7a"/><circle cx="1768.3" cy="817.7" r="2.5" fill="#e02424"/><line x1="1765.4" y1="847.0" x2="1768.2" y2="853.5" stroke="#666" stroke-width="1.5"/><circle cx="1765.4" cy="847.0" r="2.6" fill="#777"/><circle cx="1742.3" cy="828.7" r="2.5" fill="#e02424"/><line x1="1713.0" y1="825.8" x2="1706.5" y2="828.6" stroke="#666" stroke-width="1.5"/><circle cx="1713.0" cy="825.8" r="2.6" fill="#777"/><circle cx="1731.3" cy="802.7" r="2.5" fill="#e02424"/><line x1="1734.2" y1="773.4" x2="1731.4" y2="766.9" stroke="#666" stroke-width="1.5"/><circle cx="1734.2" cy="773.4" r="2.6" fill="#777"/><circle cx="1757.3" cy="791.7" r="2.5" fill="#e02424"/><line x1="1786.6" y1="794.6" x2="1793.1" y2="791.8" stroke="#666" stroke-width="1.5"/><circle cx="1786.6" cy="794.6" r="2.6" fill="#777"/><polygon points="1690.9,948.7 1642.3,929.1 1661.9,880.5 1710.5,900.1" fill="#5fb4c4" /><polygon points="1700.2,934.5 1688.5,919.5 1707.3,916.8" fill="#4596a8" /><polygon points="1691.6,950.5 1679.2,941.1 1693.5,935.0" fill="#6cc0cf" /><polygon points="1656.5,938.4 1671.5,926.7 1674.2,945.5" fill="#4596a8" /><polygon points="1640.5,929.8 1649.9,917.4 1656.0,931.7" fill="#6cc0cf" /><polygon points="1652.6,894.7 1664.3,909.7 1645.5,912.4" fill="#4596a8" /><polygon points="1661.2,878.7 1673.6,888.1 1659.3,894.2" fill="#6cc0cf" /><polygon points="1696.3,890.8 1681.3,902.5 1678.6,883.7" fill="#4596a8" /><polygon points="1712.3,899.4 1702.9,911.8 1696.8,897.5" fill="#6cc0cf" /><polygon points="1685.0,934.9 1656.1,923.2 1667.8,894.3 1696.7,906.0" fill="#7acbd6" stroke="#3d8d9c" stroke-width="1.5"/><circle cx="1701.6" cy="930.9" r="2.6" fill="#7a7a7a"/><circle cx="1695.1" cy="941.8" r="2.6" fill="#e02424"/><circle cx="1682.6" cy="943.9" r="2.6" fill="#e02424"/><circle cx="1670.4" cy="947.0" r="2.6" fill="#7a7a7a"/><circle cx="1660.1" cy="939.8" r="2.6" fill="#e02424"/><circle cx="1649.2" cy="933.3" r="2.6" fill="#e02424"/><circle cx="1647.1" cy="920.8" r="2.6" fill="#7a7a7a"/><circle cx="1644.0" cy="908.6" r="2.6" fill="#e02424"/><circle cx="1651.2" cy="898.3" r="2.6" fill="#e02424"/><circle cx="1657.7" cy="887.4" r="2.6" fill="#7a7a7a"/><circle cx="1670.2" cy="885.3" r="2.6" fill="#e02424"/><circle cx="1682.4" cy="882.2" r="2.6" fill="#e02424"/><circle cx="1692.7" cy="889.4" r="2.6" fill="#7a7a7a"/><circle cx="1703.6" cy="895.9" r="2.6" fill="#e02424"/><circle cx="1705.7" cy="908.4" r="2.6" fill="#e02424"/><circle cx="1708.8" cy="920.6" r="2.6" fill="#7a7a7a"/><circle cx="1694.9" cy="922.1" r="2.5" fill="#e02424"/><line x1="1692.0" y1="951.4" x2="1694.8" y2="957.9" stroke="#666" stroke-width="1.5"/><circle cx="1692.0" cy="951.4" r="2.6" fill="#777"/><circle cx="1668.9" cy="933.1" r="2.5" fill="#e02424"/><line x1="1639.6" y1="930.2" x2="1633.1" y2="933.0" stroke="#666" stroke-width="1.5"/><circle cx="1639.6" cy="930.2" r="2.6" fill="#777"/><circle cx="1657.9" cy="907.1" r="2.5" fill="#e02424"/><line x1="1660.8" y1="877.8" x2="1658.0" y2="871.3" stroke="#666" stroke-width="1.5"/><circle cx="1660.8" cy="877.8" r="2.6" fill="#777"/><circle cx="1683.9" cy="896.1" r="2.5" fill="#e02424"/><line x1="1713.2" y1="899.0" x2="1719.7" y2="896.2" stroke="#666" stroke-width="1.5"/><circle cx="1713.2" cy="899.0" r="2.6" fill="#777"/><polygon points="1870.6,919.7 1822.0,900.1 1841.6,851.5 1890.2,871.1" fill="#5fb4c4" /><polygon points="1879.9,905.5 1868.2,890.5 1887.0,887.8" fill="#6a2a8e" /><polygon points="1871.3,921.5 1858.9,912.1 1873.2,906.0" fill="#6cc0cf" /><polygon points="1836.2,909.4 1851.2,897.7 1853.9,916.5" fill="#4596a8" /><polygon points="1820.2,900.8 1829.6,888.4 1835.7,902.7" fill="#6cc0cf" /><polygon points="1832.3,865.7 1844.0,880.7 1825.2,883.4" fill="#4596a8" /><polygon points="1840.9,849.7 1853.3,859.1 1839.0,865.2" fill="#6cc0cf" /><polygon points="1876.0,861.8 1861.0,873.5 1858.3,854.7" fill="#6a2a8e" /><polygon points="1892.0,870.4 1882.6,882.8 1876.5,868.5" fill="#6cc0cf" /><polygon points="1864.7,905.9 1835.8,894.2 1847.5,865.3 1876.4,877.0" fill="#7acbd6" stroke="#3d8d9c" stroke-width="1.5"/><circle cx="1881.3" cy="901.9" r="2.6" fill="#7a7a7a"/><circle cx="1874.8" cy="912.8" r="2.6" fill="#e02424"/><circle cx="1862.3" cy="914.9" r="2.6" fill="#e02424"/><circle cx="1850.1" cy="918.0" r="2.6" fill="#7a7a7a"/><circle cx="1839.8" cy="910.8" r="2.6" fill="#e02424"/><circle cx="1828.9" cy="904.3" r="2.6" fill="#e02424"/><circle cx="1826.8" cy="891.8" r="2.6" fill="#7a7a7a"/><circle cx="1823.7" cy="879.6" r="2.6" fill="#e02424"/><circle cx="1830.9" cy="869.3" r="2.6" fill="#e02424"/><circle cx="1837.4" cy="858.4" r="2.6" fill="#7a7a7a"/><circle cx="1849.9" cy="856.3" r="2.6" fill="#e02424"/><circle cx="1862.1" cy="853.2" r="2.6" fill="#e02424"/><circle cx="1872.4" cy="860.4" r="2.6" fill="#7a7a7a"/><circle cx="1883.3" cy="866.9" r="2.6" fill="#e02424"/><circle cx="1885.4" cy="879.4" r="2.6" fill="#e02424"/><circle cx="1888.5" cy="891.6" r="2.6" fill="#7a7a7a"/><circle cx="1874.6" cy="893.1" r="2.5" fill="#e02424"/><line x1="1871.7" y1="922.4" x2="1874.5" y2="928.9" stroke="#666" stroke-width="1.5"/><circle cx="1871.7" cy="922.4" r="2.6" fill="#777"/><circle cx="1848.6" cy="904.1" r="2.5" fill="#e02424"/><line x1="1819.3" y1="901.2" x2="1812.8" y2="904.0" stroke="#666" stroke-width="1.5"/><circle cx="1819.3" cy="901.2" r="2.6" fill="#777"/><circle cx="1837.6" cy="878.1" r="2.5" fill="#e02424"/><line x1="1840.5" y1="848.8" x2="1837.7" y2="842.3" stroke="#666" stroke-width="1.5"/><circle cx="1840.5" cy="848.8" r="2.6" fill="#777"/><circle cx="1863.6" cy="867.1" r="2.5" fill="#e02424"/><line x1="1892.9" y1="870.0" x2="1899.4" y2="867.2" stroke="#666" stroke-width="1.5"/><circle cx="1892.9" cy="870.0" r="2.6" fill="#777"/><polygon points="1797.2,1024.1 1748.6,1004.5 1768.2,955.9 1816.8,975.5" fill="#5fb4c4" /><polygon points="1806.5,1009.9 1794.8,994.9 1813.6,992.2" fill="#4596a8" /><polygon points="1797.9,1025.9 1785.5,1016.5 1799.8,1010.4" fill="#6cc0cf" /><polygon points="1762.8,1013.8 1777.8,1002.1 1780.5,1020.9" fill="#4596a8" /><polygon points="1746.8,1005.2 1756.2,992.8 1762.3,1007.1" fill="#6cc0cf" /><polygon points="1758.9,970.1 1770.6,985.1 1751.8,987.8" fill="#4596a8" /><polygon points="1767.5,954.1 1779.9,963.5 1765.6,969.6" fill="#6cc0cf" /><polygon points="1802.6,966.2 1787.6,977.9 1784.9,959.1" fill="#4596a8" /><polygon points="1818.6,974.8 1809.2,987.2 1803.1,972.9" fill="#6cc0cf" /><polygon points="1791.3,1010.3 1762.4,998.6 1774.1,969.7 1803.0,981.4" fill="#7acbd6" stroke="#3d8d9c" stroke-width="1.5"/><circle cx="1807.9" cy="1006.3" r="2.6" fill="#7a7a7a"/><circle cx="1801.4" cy="1017.2" r="2.6" fill="#e02424"/><circle cx="1788.9" cy="1019.3" r="2.6" fill="#e02424"/><circle cx="1776.7" cy="1022.4" r="2.6" fill="#7a7a7a"/><circle cx="1766.4" cy="1015.2" r="2.6" fill="#e02424"/><circle cx="1755.5" cy="1008.7" r="2.6" fill="#e02424"/><circle cx="1753.4" cy="996.2" r="2.6" fill="#7a7a7a"/><circle cx="1750.3" cy="984.0" r="2.6" fill="#e02424"/><circle cx="1757.5" cy="973.7" r="2.6" fill="#e02424"/><circle cx="1764.0" cy="962.8" r="2.6" fill="#7a7a7a"/><circle cx="1776.5" cy="960.7" r="2.6" fill="#e02424"/><circle cx="1788.7" cy="957.6" r="2.6" fill="#e02424"/><circle cx="1799.0" cy="964.8" r="2.6" fill="#7a7a7a"/><circle cx="1809.9" cy="971.3" r="2.6" fill="#e02424"/><circle cx="1812.0" cy="983.8" r="2.6" fill="#e02424"/><circle cx="1815.1" cy="996.0" r="2.6" fill="#7a7a7a"/><circle cx="1801.2" cy="997.5" r="2.5" fill="#e02424"/><line x1="1798.3" y1="1026.8" x2="1801.1" y2="1033.3" stroke="#666" stroke-width="1.5"/><circle cx="1798.3" cy="1026.8" r="2.6" fill="#777"/><circle cx="1775.2" cy="1008.5" r="2.5" fill="#e02424"/><line x1="1745.9" y1="1005.6" x2="1739.4" y2="1008.4" stroke="#666" stroke-width="1.5"/><circle cx="1745.9" cy="1005.6" r="2.6" fill="#777"/><circle cx="1764.2" cy="982.5" r="2.5" fill="#e02424"/><line x1="1767.1" y1="953.2" x2="1764.3" y2="946.7" stroke="#666" stroke-width="1.5"/><circle cx="1767.1" cy="953.2" r="2.6" fill="#777"/><circle cx="1790.2" cy="971.5" r="2.5" fill="#e02424"/><line x1="1819.5" y1="974.4" x2="1826.0" y2="971.6" stroke="#666" stroke-width="1.5"/><circle cx="1819.5" cy="974.4" r="2.6" fill="#777"/><g stroke="#3c3c3c" stroke-width="1.8" fill="none" stroke-linejoin="round"><path d="M1790.4,828.6 L1805.8,822.8 L1818.4,831.9 L1817.4,847.9 L1802.9,854.7 L1790.4,845.0 L1790.4,828.6"/><path d="M1790.4,828.6 L1779.8,821.4"/><path d="M1818.4,831.9 L1830.0,826.7"/><path d="M1817.4,847.9 L1829.0,856.6 L1842.6,850.4"/><path d="M1831.0,859.5 L1843.5,853.7"/><path d="M1829.0,856.6 L1828.1,872.1"/><path d="M1735.3,877.9 L1746.9,886.0 L1759.5,880.8 L1773.0,889.5 L1788.5,882.7"/><path d="M1774.0,893.3 L1787.5,886.6"/><path d="M1746.9,886.0 L1746.9,903.0 L1757.5,911.7 L1771.1,905.9 L1782.7,914.6 L1796.2,908.4"/><path d="M1772.0,909.8 L1782.7,917.5"/><path d="M1782.7,914.6 L1783.6,930.0"/><path d="M1757.5,865.3 C1753.7,848.9 1765.3,835.4 1778.8,832.5"/></g><polygon points="1784.6,831.9 1774.0,827.6 1775.3,836.9" fill="#111"/><text x="1831.0" y="827.6" font-family="Liberation Sans" font-size="9" fill="#333" transform="rotate(-30 1831.0 827.6)">OH</text><text x="1785.6" y="886.0" font-family="Liberation Sans" font-size="9" fill="#333">O</text></g><g stroke-linecap="butt"><line x1="1438.4" y1="1098.4" x2="1560.3" y2="1263.3" stroke="#9fb0dc" stroke-width="4.5" opacity="0.85"/><line x1="1485.0" y1="1058.6" x2="1606.9" y2="1223.6" stroke="#9fb0dc" stroke-width="4.5" opacity="0.85"/><line x1="1531.6" y1="1018.9" x2="1653.4" y2="1183.8" stroke="#9fb0dc" stroke-width="4.5" opacity="0.85"/><line x1="1485.3" y1="1192.8" x2="1606.5" y2="1089.4" stroke="#f0a8a8" stroke-width="4.5" opacity="0.9"/><line x1="1530.5" y1="1253.9" x2="1651.6" y2="1150.5" stroke="#f0a8a8" stroke-width="4.5" opacity="0.9"/><line x1="1478.1" y1="1087.0" x2="1600.0" y2="1252.0" stroke="#4a62b0" stroke-width="5" opacity="1"/><line x1="1524.7" y1="1047.2" x2="1646.6" y2="1212.2" stroke="#4a62b0" stroke-width="5" opacity="1"/><line x1="1571.3" y1="1007.5" x2="1693.2" y2="1172.4" stroke="#4a62b0" stroke-width="5" opacity="1"/><line x1="1517.9" y1="1075.6" x2="1639.8" y2="1240.6" stroke="#4a62b0" stroke-width="5" opacity="1"/><line x1="1564.5" y1="1035.9" x2="1686.4" y2="1200.8" stroke="#4a62b0" stroke-width="5" opacity="1"/><line x1="1611.1" y1="996.1" x2="1733.0" y2="1161.0" stroke="#4a62b0" stroke-width="5" opacity="1"/><line x1="1440.2" y1="1131.7" x2="1561.3" y2="1028.3" stroke="#e02a2a" stroke-width="5" opacity="1"/><line x1="1480.0" y1="1120.3" x2="1601.1" y2="1016.9" stroke="#e02a2a" stroke-width="5" opacity="1"/><line x1="1519.7" y1="1108.9" x2="1640.9" y2="1005.6" stroke="#e02a2a" stroke-width="5" opacity="1"/><line x1="1448.2" y1="1121.5" x2="1499.9" y2="1106.7" stroke="#e02a2a" stroke-width="4.5" opacity="1"/><line x1="1488.0" y1="1110.1" x2="1539.7" y2="1095.3" stroke="#e02a2a" stroke-width="4.5" opacity="1"/><line x1="1494.8" y1="1081.7" x2="1546.5" y2="1066.9" stroke="#e02a2a" stroke-width="4.5" opacity="1"/><line x1="1534.6" y1="1070.3" x2="1586.2" y2="1055.5" stroke="#e02a2a" stroke-width="4.5" opacity="1"/><line x1="1541.4" y1="1042.0" x2="1593.1" y2="1027.2" stroke="#e02a2a" stroke-width="4.5" opacity="1"/><line x1="1581.2" y1="1030.6" x2="1632.8" y2="1015.8" stroke="#e02a2a" stroke-width="4.5" opacity="1"/><line x1="1525.1" y1="1181.4" x2="1646.2" y2="1078.0" stroke="#e02a2a" stroke-width="5" opacity="1"/><line x1="1564.9" y1="1170.0" x2="1686.0" y2="1066.6" stroke="#e02a2a" stroke-width="5" opacity="1"/><line x1="1493.3" y1="1182.6" x2="1545.0" y2="1167.8" stroke="#e02a2a" stroke-width="4.5" opacity="0.6"/><line x1="1533.1" y1="1171.2" x2="1584.8" y2="1156.4" stroke="#e02a2a" stroke-width="4.5" opacity="1"/><line x1="1539.9" y1="1142.8" x2="1591.6" y2="1128.0" stroke="#e02a2a" stroke-width="4.5" opacity="0.6"/><line x1="1579.7" y1="1131.4" x2="1631.4" y2="1116.6" stroke="#e02a2a" stroke-width="4.5" opacity="1"/><line x1="1586.5" y1="1103.1" x2="1638.2" y2="1088.3" stroke="#e02a2a" stroke-width="4.5" opacity="0.6"/><line x1="1626.3" y1="1091.7" x2="1678.0" y2="1076.9" stroke="#e02a2a" stroke-width="4.5" opacity="1"/><line x1="1570.2" y1="1242.5" x2="1691.4" y2="1139.1" stroke="#e02a2a" stroke-width="5" opacity="1"/><line x1="1610.0" y1="1231.1" x2="1731.1" y2="1127.7" stroke="#e02a2a" stroke-width="5" opacity="1"/><line x1="1538.5" y1="1243.7" x2="1590.2" y2="1228.9" stroke="#e02a2a" stroke-width="4.5" opacity="0.6"/><line x1="1578.3" y1="1232.3" x2="1629.9" y2="1217.5" stroke="#e02a2a" stroke-width="4.5" opacity="1"/><line x1="1585.1" y1="1203.9" x2="1636.8" y2="1189.1" stroke="#e02a2a" stroke-width="4.5" opacity="0.6"/><line x1="1624.8" y1="1192.5" x2="1676.5" y2="1177.7" stroke="#e02a2a" stroke-width="4.5" opacity="1"/><line x1="1631.7" y1="1164.1" x2="1683.4" y2="1149.3" stroke="#e02a2a" stroke-width="4.5" opacity="0.6"/><line x1="1671.4" y1="1152.8" x2="1723.1" y2="1138.0" stroke="#e02a2a" stroke-width="4.5" opacity="1"/><circle cx="1454.2" cy="1119.8" r="3.6" fill="#2a8a3a" opacity="1"/><circle cx="1500.8" cy="1080.0" r="3.6" fill="#2a8a3a" opacity="1"/><circle cx="1547.4" cy="1040.3" r="3.6" fill="#2a8a3a" opacity="1"/><circle cx="1493.9" cy="1108.4" r="3.6" fill="#2a8a3a" opacity="1"/><circle cx="1540.5" cy="1068.6" r="3.6" fill="#2a8a3a" opacity="1"/><circle cx="1587.1" cy="1028.9" r="3.6" fill="#2a8a3a" opacity="1"/><circle cx="1533.7" cy="1097.0" r="3.6" fill="#2a8a3a" opacity="1"/><circle cx="1580.3" cy="1057.2" r="3.6" fill="#2a8a3a" opacity="1"/><circle cx="1626.9" cy="1017.5" r="3.6" fill="#2a8a3a" opacity="1"/><circle cx="1499.3" cy="1180.9" r="3.6" fill="#2a8a3a" opacity="0.5"/><circle cx="1545.9" cy="1141.1" r="3.6" fill="#2a8a3a" opacity="0.5"/><circle cx="1592.5" cy="1101.4" r="3.6" fill="#2a8a3a" opacity="0.5"/><circle cx="1539.1" cy="1169.5" r="3.6" fill="#2a8a3a" opacity="1"/><circle cx="1585.7" cy="1129.7" r="3.6" fill="#2a8a3a" opacity="1"/><circle cx="1632.3" cy="1090.0" r="3.6" fill="#2a8a3a" opacity="1"/><circle cx="1578.8" cy="1158.1" r="3.6" fill="#2a8a3a" opacity="1"/><circle cx="1625.4" cy="1118.3" r="3.6" fill="#2a8a3a" opacity="1"/><circle cx="1672.0" cy="1078.6" r="3.6" fill="#2a8a3a" opacity="1"/><circle cx="1544.5" cy="1242.0" r="3.6" fill="#2a8a3a" opacity="0.5"/><circle cx="1591.0" cy="1202.2" r="3.6" fill="#2a8a3a" opacity="0.5"/><circle cx="1637.6" cy="1162.4" r="3.6" fill="#2a8a3a" opacity="0.5"/><circle cx="1584.2" cy="1230.6" r="3.6" fill="#2a8a3a" opacity="1"/><circle cx="1630.8" cy="1190.8" r="3.6" fill="#2a8a3a" opacity="1"/><circle cx="1677.4" cy="1151.0" r="3.6" fill="#2a8a3a" opacity="1"/><circle cx="1624.0" cy="1219.2" r="3.6" fill="#2a8a3a" opacity="1"/><circle cx="1670.6" cy="1179.4" r="3.6" fill="#2a8a3a" opacity="1"/><circle cx="1717.2" cy="1139.7" r="3.6" fill="#2a8a3a" opacity="1"/></g><g><defs>
<linearGradient id="goldG" x1="0" y1="0" x2="1" y2="1"><stop offset="0" stop-color="#e2b02c"/><stop offset="1" stop-color="#c08a1c"/></linearGradient>
<linearGradient id="brownG" x1="0" y1="0" x2="1" y2="1"><stop offset="0" stop-color="#b8602a"/><stop offset="1" stop-color="#8e4418"/></linearGradient>
<linearGradient id="greyPl" x1="0" y1="0" x2="1" y2="0.6"><stop offset="0" stop-color="#9a9a9a"/><stop offset="0.5" stop-color="#e8e8e8"/><stop offset="1" stop-color="#a8a8a8"/></linearGradient>
<radialGradient id="orb" cx="0.4" cy="0.4" r="0.6"><stop offset="0" stop-color="#ffd8b0"/><stop offset="0.5" stop-color="#f8a060"/><stop offset="1" stop-color="#e87a40"/></radialGradient>
</defs><polyline points="890,801.9 913.9,791 948,861.1 965.1,852" fill="none" stroke="#1a2a20" stroke-width="1.8"/><polyline points="977.6,879.3 960.6,887.3 998.2,964.8 975.4,976.2" fill="none" stroke="#1a2a20" stroke-width="1.8"/><circle cx="969.7" cy="850.9" r="4.5" fill="#4a90d8"/><circle cx="982.2" cy="875.9" r="4.5" fill="#4a90d8"/><polygon points="722.5,840.6 839.8,784.8 907.0,815.6 907.0,822.0 789.7,879.5 722.5,847.0" fill="#b88418"/><polygon points="722.5,840.6 839.8,784.8 907.0,815.6 789.7,873.6" fill="url(#goldG)"/><polygon points="741.9,849.7 841.0,799.6 890.0,822.4 789.7,867.9" fill="#d8d8e4"/><defs><clipPath id="plateclip"><polygon points="741.9,849.7 841.0,799.6 890.0,822.4 789.7,867.9"/></clipPath></defs><polygon points="741.9,849.7 841.0,799.6 890.0,822.4 789.7,867.9" fill="#dcdce6"/><g clip-path="url(#plateclip)"><polygon points="-16.5,0.0 -9.1,-8.0 9.1,-8.0 16.5,0.0 9.1,8.0 -9.1,8.0" transform="translate(798.2 826.5) rotate(-20)" fill="none" stroke="#50508c" stroke-width="3.4" stroke-linejoin="round"/><polygon points="-16.5,0.0 -9.1,-8.0 9.1,-8.0 16.5,0.0 9.1,8.0 -9.1,8.0" transform="translate(798.2 826.5) rotate(-20)" fill="none" stroke="#b85068" stroke-width="1.1" stroke-dasharray="2 5"/><polygon points="-16.5,0.0 -9.1,-8.0 9.1,-8.0 16.5,0.0 9.1,8.0 -9.1,8.0" transform="translate(834.3 818) rotate(-20)" fill="none" stroke="#50508c" stroke-width="3.4" stroke-linejoin="round"/><polygon points="-16.5,0.0 -9.1,-8.0 9.1,-8.0 16.5,0.0 9.1,8.0 -9.1,8.0" transform="translate(834.3 818) rotate(-20)" fill="none" stroke="#b85068" stroke-width="1.1" stroke-dasharray="2 5"/><polygon points="-16.5,0.0 -9.1,-8.0 9.1,-8.0 16.5,0.0 9.1,8.0 -9.1,8.0" transform="translate(852.7 826.5) rotate(-20)" fill="none" stroke="#50508c" stroke-width="3.4" stroke-linejoin="round"/><polygon points="-16.5,0.0 -9.1,-8.0 9.1,-8.0 16.5,0.0 9.1,8.0 -9.1,8.0" transform="translate(852.7 826.5) rotate(-20)" fill="none" stroke="#b85068" stroke-width="1.1" stroke-dasharray="2 5"/><polygon points="-16.5,0.0 -9.1,-8.0 9.1,-8.0 16.5,0.0 9.1,8.0 -9.1,8.0" transform="translate(782.3 843) rotate(-20)" fill="none" stroke="#50508c" stroke-width="3.4" stroke-linejoin="round"/><polygon points="-16.5,0.0 -9.1,-8.0 9.1,-8.0 16.5,0.0 9.1,8.0 -9.1,8.0" transform="translate(782.3 843) rotate(-20)" fill="none" stroke="#b85068" stroke-width="1.1" stroke-dasharray="2 5"/><polygon points="-16.5,0.0 -9.1,-8.0 9.1,-8.0 16.5,0.0 9.1,8.0 -9.1,8.0" transform="translate(818.8 834.2) rotate(-20)" fill="none" stroke="#50508c" stroke-width="3.4" stroke-linejoin="round"/><polygon points="-16.5,0.0 -9.1,-8.0 9.1,-8.0 16.5,0.0 9.1,8.0 -9.1,8.0" transform="translate(818.8 834.2) rotate(-20)" fill="none" stroke="#b85068" stroke-width="1.1" stroke-dasharray="2 5"/><polygon points="-16.5,0.0 -9.1,-8.0 9.1,-8.0 16.5,0.0 9.1,8.0 -9.1,8.0" transform="translate(838.7 840.5) rotate(-20)" fill="none" stroke="#50508c" stroke-width="3.4" stroke-linejoin="round"/><polygon points="-16.5,0.0 -9.1,-8.0 9.1,-8.0 16.5,0.0 9.1,8.0 -9.1,8.0" transform="translate(838.7 840.5) rotate(-20)" fill="none" stroke="#b85068" stroke-width="1.1" stroke-dasharray="2 5"/><polygon points="-16.5,0.0 -9.1,-8.0 9.1,-8.0 16.5,0.0 9.1,8.0 -9.1,8.0" transform="translate(803.7 850.8) rotate(-20)" fill="none" stroke="#50508c" stroke-width="3.4" stroke-linejoin="round"/><polygon points="-16.5,0.0 -9.1,-8.0 9.1,-8.0 16.5,0.0 9.1,8.0 -9.1,8.0" transform="translate(803.7 850.8) rotate(-20)" fill="none" stroke="#b85068" stroke-width="1.1" stroke-dasharray="2 5"/><polygon points="-16.5,0.0 -9.1,-8.0 9.1,-8.0 16.5,0.0 9.1,8.0 -9.1,8.0" transform="translate(748 849.3) rotate(-20)" fill="none" stroke="#50508c" stroke-width="3.4" stroke-linejoin="round"/><polygon points="-16.5,0.0 -9.1,-8.0 9.1,-8.0 16.5,0.0 9.1,8.0 -9.1,8.0" transform="translate(748 849.3) rotate(-20)" fill="none" stroke="#b85068" stroke-width="1.1" stroke-dasharray="2 5"/><polygon points="-16.5,0.0 -9.1,-8.0 9.1,-8.0 16.5,0.0 9.1,8.0 -9.1,8.0" transform="translate(791.5 864) rotate(-20)" fill="none" stroke="#50508c" stroke-width="3.4" stroke-linejoin="round"/><polygon points="-16.5,0.0 -9.1,-8.0 9.1,-8.0 16.5,0.0 9.1,8.0 -9.1,8.0" transform="translate(791.5 864) rotate(-20)" fill="none" stroke="#b85068" stroke-width="1.1" stroke-dasharray="2 5"/><polygon points="-16.5,0.0 -9.1,-8.0 9.1,-8.0 16.5,0.0 9.1,8.0 -9.1,8.0" transform="translate(870 815) rotate(-20)" fill="none" stroke="#50508c" stroke-width="3.4" stroke-linejoin="round"/><polygon points="-16.5,0.0 -9.1,-8.0 9.1,-8.0 16.5,0.0 9.1,8.0 -9.1,8.0" transform="translate(870 815) rotate(-20)" fill="none" stroke="#b85068" stroke-width="1.1" stroke-dasharray="2 5"/><polygon points="-16.5,0.0 -9.1,-8.0 9.1,-8.0 16.5,0.0 9.1,8.0 -9.1,8.0" transform="translate(760 835) rotate(-20)" fill="none" stroke="#50508c" stroke-width="3.4" stroke-linejoin="round"/><polygon points="-16.5,0.0 -9.1,-8.0 9.1,-8.0 16.5,0.0 9.1,8.0 -9.1,8.0" transform="translate(760 835) rotate(-20)" fill="none" stroke="#b85068" stroke-width="1.1" stroke-dasharray="2 5"/><polygon points="-14.0,0.0 -7.7,-6.2 7.7,-6.2 14.0,0.0 7.7,6.2 -7.7,6.2" transform="translate(798.2 826.5) rotate(-20)" fill="#f6f6f8"/><polygon points="-14.0,0.0 -7.7,-6.2 7.7,-6.2 14.0,0.0 7.7,6.2 -7.7,6.2" transform="translate(834.3 818) rotate(-20)" fill="#f6f6f8"/><polygon points="-14.0,0.0 -7.7,-6.2 7.7,-6.2 14.0,0.0 7.7,6.2 -7.7,6.2" transform="translate(852.7 826.5) rotate(-20)" fill="#f6f6f8"/><polygon points="-14.0,0.0 -7.7,-6.2 7.7,-6.2 14.0,0.0 7.7,6.2 -7.7,6.2" transform="translate(782.3 843) rotate(-20)" fill="#f6f6f8"/><polygon points="-14.0,0.0 -7.7,-6.2 7.7,-6.2 14.0,0.0 7.7,6.2 -7.7,6.2" transform="translate(818.8 834.2) rotate(-20)" fill="#f6f6f8"/><polygon points="-14.0,0.0 -7.7,-6.2 7.7,-6.2 14.0,0.0 7.7,6.2 -7.7,6.2" transform="translate(838.7 840.5) rotate(-20)" fill="#f6f6f8"/><polygon points="-14.0,0.0 -7.7,-6.2 7.7,-6.2 14.0,0.0 7.7,6.2 -7.7,6.2" transform="translate(803.7 850.8) rotate(-20)" fill="#f6f6f8"/><polygon points="-14.0,0.0 -7.7,-6.2 7.7,-6.2 14.0,0.0 7.7,6.2 -7.7,6.2" transform="translate(748 849.3) rotate(-20)" fill="#f6f6f8"/><polygon points="-14.0,0.0 -7.7,-6.2 7.7,-6.2 14.0,0.0 7.7,6.2 -7.7,6.2" transform="translate(791.5 864) rotate(-20)" fill="#f6f6f8"/><polygon points="-14.0,0.0 -7.7,-6.2 7.7,-6.2 14.0,0.0 7.7,6.2 -7.7,6.2" transform="translate(870 815) rotate(-20)" fill="#f6f6f8"/><polygon points="-14.0,0.0 -7.7,-6.2 7.7,-6.2 14.0,0.0 7.7,6.2 -7.7,6.2" transform="translate(760 835) rotate(-20)" fill="#f6f6f8"/></g><text x="770" y="843" font-family="Liberation Sans" font-size="9" fill="#a02020">e</text><text x="862" y="820" font-family="Liberation Sans" font-size="9" fill="#a02020">e</text><text x="838" y="850" font-family="Liberation Sans" font-size="9" fill="#a02020">e</text><text x="781" y="862" font-family="Liberation Sans" font-size="9" fill="#a02020">e</text><polygon points="777.2,947.7 911.6,881.6 944.6,894.1 810.2,961.3" fill="#a6bcd8" stroke="#d0e4f4" stroke-width="2"/><polygon points="835.3,1074.1 855.8,1010.3 974.2,953.4 980.0,964.8 958.3,1029.7 841.0,1085.5" fill="url(#brownG)"/><polygon points="835.3,1074.1 855.8,1010.3 974.2,953.4 958.3,1017.0 841.0,1074.0" fill="#a85424"/><polygon points="853.5,1058.2 869.5,1006.9 957.2,965.9 940.0,1018.3" fill="url(#greyPl)"/><circle cx="836.4" cy="877.1" r="3.5" fill="url(#orb)"/><circle cx="892.2" cy="877.1" r="5" fill="url(#orb)"/><circle cx="805.7" cy="912.4" r="7" fill="url(#orb)"/><circle cx="923" cy="946.5" r="7" fill="url(#orb)"/><circle cx="866" cy="961.3" r="5" fill="url(#orb)"/><circle cx="891.1" cy="971.6" r="6" fill="url(#orb)"/><circle cx="843.3" cy="1000.9" r="9" fill="url(#orb)"/><circle cx="938.9" cy="984.1" r="8" fill="url(#orb)"/><circle cx="911.6" cy="991" r="5" fill="url(#orb)"/><circle cx="894.5" cy="1008" r="5" fill="url(#orb)"/><circle cx="918.4" cy="1012.6" r="6" fill="url(#orb)"/><circle cx="875.2" cy="1032" r="8" fill="url(#orb)"/></g><g><defs>
<radialGradient id="capG" cx="0.4" cy="0.35" r="0.6"><stop offset="0" stop-color="#f0fcff"/><stop offset="0.35" stop-color="#8ad4f4"/><stop offset="1" stop-color="#3a90c8" stop-opacity="0.9"/></radialGradient>
<linearGradient id="capBody" x1="0" y1="0" x2="0" y2="1"><stop offset="0" stop-color="#8ad0f0"/><stop offset="0.45" stop-color="#58b0e0"/><stop offset="1" stop-color="#2e78b0"/></linearGradient>
<linearGradient id="battG" x1="0" y1="0" x2="1" y2="0"><stop offset="0" stop-color="#2ea020"/><stop offset="0.35" stop-color="#8ef070"/><stop offset="0.6" stop-color="#38b828"/><stop offset="1" stop-color="#1e8a18"/></linearGradient>
</defs><line x1="1085.0" y1="1110.3" x2="1120.4" y2="1076.3" stroke="#4a4a4a" stroke-width="1.1" opacity="0.75"/><line x1="1087.1" y1="1112.5" x2="1122.5" y2="1078.5" stroke="#4a4a4a" stroke-width="1.1" opacity="0.75"/><line x1="1089.1" y1="1114.7" x2="1124.6" y2="1080.7" stroke="#4a4a4a" stroke-width="1.1" opacity="0.75"/><line x1="1091.2" y1="1116.8" x2="1126.7" y2="1082.8" stroke="#4a4a4a" stroke-width="1.1" opacity="0.75"/><line x1="1093.3" y1="1119.0" x2="1128.8" y2="1085.0" stroke="#4a4a4a" stroke-width="1.1" opacity="0.75"/><line x1="1095.4" y1="1121.2" x2="1130.8" y2="1087.2" stroke="#4a4a4a" stroke-width="1.1" opacity="0.75"/><line x1="1097.5" y1="1123.3" x2="1132.9" y2="1089.3" stroke="#4a4a4a" stroke-width="1.1" opacity="0.75"/><line x1="1099.5" y1="1125.5" x2="1135.0" y2="1091.5" stroke="#4a4a4a" stroke-width="1.1" opacity="0.75"/><line x1="1101.6" y1="1127.7" x2="1137.1" y2="1093.7" stroke="#4a4a4a" stroke-width="1.1" opacity="0.75"/><line x1="1087.1" y1="1112.5" x2="1122.5" y2="1078.5" stroke="#d03030" stroke-width="1.4" stroke-dasharray="2 7" opacity="0.9"/><line x1="1093.3" y1="1119.0" x2="1128.8" y2="1085.0" stroke="#d03030" stroke-width="1.4" stroke-dasharray="2 7" opacity="0.9"/><line x1="1099.5" y1="1125.5" x2="1135.0" y2="1091.5" stroke="#d03030" stroke-width="1.4" stroke-dasharray="2 7" opacity="0.9"/><line x1="1134.0" y1="1074.2" x2="1178.9" y2="1096.1" stroke="#4a4a4a" stroke-width="1.1" opacity="0.75"/><line x1="1132.7" y1="1076.9" x2="1177.5" y2="1098.8" stroke="#4a4a4a" stroke-width="1.1" opacity="0.75"/><line x1="1131.4" y1="1079.6" x2="1176.2" y2="1101.5" stroke="#4a4a4a" stroke-width="1.1" opacity="0.75"/><line x1="1130.1" y1="1082.3" x2="1174.9" y2="1104.2" stroke="#4a4a4a" stroke-width="1.1" opacity="0.75"/><line x1="1128.8" y1="1085.0" x2="1173.6" y2="1106.9" stroke="#4a4a4a" stroke-width="1.1" opacity="0.75"/><line x1="1127.4" y1="1087.7" x2="1172.3" y2="1109.6" stroke="#4a4a4a" stroke-width="1.1" opacity="0.75"/><line x1="1126.1" y1="1090.4" x2="1171.0" y2="1112.3" stroke="#4a4a4a" stroke-width="1.1" opacity="0.75"/><line x1="1124.8" y1="1093.1" x2="1169.7" y2="1115.0" stroke="#4a4a4a" stroke-width="1.1" opacity="0.75"/><line x1="1123.5" y1="1095.8" x2="1168.3" y2="1117.7" stroke="#4a4a4a" stroke-width="1.1" opacity="0.75"/><line x1="1132.7" y1="1076.9" x2="1177.5" y2="1098.8" stroke="#d03030" stroke-width="1.4" stroke-dasharray="2 7" opacity="0.9"/><line x1="1128.8" y1="1085.0" x2="1173.6" y2="1106.9" stroke="#d03030" stroke-width="1.4" stroke-dasharray="2 7" opacity="0.9"/><line x1="1124.8" y1="1093.1" x2="1169.7" y2="1115.0" stroke="#d03030" stroke-width="1.4" stroke-dasharray="2 7" opacity="0.9"/><line x1="1177.7" y1="1095.6" x2="1219.1" y2="1110.7" stroke="#4a4a4a" stroke-width="1.1" opacity="0.75"/><line x1="1176.7" y1="1098.4" x2="1218.1" y2="1113.5" stroke="#4a4a4a" stroke-width="1.1" opacity="0.75"/><line x1="1175.7" y1="1101.3" x2="1217.1" y2="1116.4" stroke="#4a4a4a" stroke-width="1.1" opacity="0.75"/><line x1="1174.6" y1="1104.1" x2="1216.0" y2="1119.2" stroke="#4a4a4a" stroke-width="1.1" opacity="0.75"/><line x1="1173.6" y1="1106.9" x2="1215.0" y2="1122.0" stroke="#4a4a4a" stroke-width="1.1" opacity="0.75"/><line x1="1172.6" y1="1109.7" x2="1214.0" y2="1124.8" stroke="#4a4a4a" stroke-width="1.1" opacity="0.75"/><line x1="1171.5" y1="1112.5" x2="1212.9" y2="1127.6" stroke="#4a4a4a" stroke-width="1.1" opacity="0.75"/><line x1="1170.5" y1="1115.4" x2="1211.9" y2="1130.5" stroke="#4a4a4a" stroke-width="1.1" opacity="0.75"/><line x1="1169.5" y1="1118.2" x2="1210.9" y2="1133.3" stroke="#4a4a4a" stroke-width="1.1" opacity="0.75"/><line x1="1176.7" y1="1098.4" x2="1218.1" y2="1113.5" stroke="#d03030" stroke-width="1.4" stroke-dasharray="2 7" opacity="0.9"/><line x1="1173.6" y1="1106.9" x2="1215.0" y2="1122.0" stroke="#d03030" stroke-width="1.4" stroke-dasharray="2 7" opacity="0.9"/><line x1="1170.5" y1="1115.4" x2="1211.9" y2="1130.5" stroke="#d03030" stroke-width="1.4" stroke-dasharray="2 7" opacity="0.9"/><line x1="1227.0" y1="1121.1" x2="1230.4" y2="1164.7" stroke="#4a4a4a" stroke-width="1.1" opacity="0.75"/><line x1="1224.0" y1="1121.3" x2="1227.4" y2="1164.9" stroke="#4a4a4a" stroke-width="1.1" opacity="0.75"/><line x1="1221.0" y1="1121.5" x2="1224.4" y2="1165.1" stroke="#4a4a4a" stroke-width="1.1" opacity="0.75"/><line x1="1218.0" y1="1121.8" x2="1221.4" y2="1165.4" stroke="#4a4a4a" stroke-width="1.1" opacity="0.75"/><line x1="1215.0" y1="1122.0" x2="1218.4" y2="1165.6" stroke="#4a4a4a" stroke-width="1.1" opacity="0.75"/><line x1="1212.0" y1="1122.2" x2="1215.4" y2="1165.8" stroke="#4a4a4a" stroke-width="1.1" opacity="0.75"/><line x1="1209.0" y1="1122.5" x2="1212.4" y2="1166.1" stroke="#4a4a4a" stroke-width="1.1" opacity="0.75"/><line x1="1206.0" y1="1122.7" x2="1209.4" y2="1166.3" stroke="#4a4a4a" stroke-width="1.1" opacity="0.75"/><line x1="1203.0" y1="1122.9" x2="1206.4" y2="1166.5" stroke="#4a4a4a" stroke-width="1.1" opacity="0.75"/><line x1="1224.0" y1="1121.3" x2="1227.4" y2="1164.9" stroke="#d03030" stroke-width="1.4" stroke-dasharray="2 7" opacity="0.9"/><line x1="1215.0" y1="1122.0" x2="1218.4" y2="1165.6" stroke="#d03030" stroke-width="1.4" stroke-dasharray="2 7" opacity="0.9"/><line x1="1206.0" y1="1122.7" x2="1209.4" y2="1166.3" stroke="#d03030" stroke-width="1.4" stroke-dasharray="2 7" opacity="0.9"/><line x1="1230.3" y1="1163.8" x2="1237.9" y2="1213.7" stroke="#4a4a4a" stroke-width="1.1" opacity="0.75"/><line x1="1227.3" y1="1164.2" x2="1234.9" y2="1214.1" stroke="#4a4a4a" stroke-width="1.1" opacity="0.75"/><line x1="1224.3" y1="1164.7" x2="1231.9" y2="1214.6" stroke="#4a4a4a" stroke-width="1.1" opacity="0.75"/><line x1="1221.4" y1="1165.1" x2="1229.0" y2="1215.0" stroke="#4a4a4a" stroke-width="1.1" opacity="0.75"/><line x1="1218.4" y1="1165.6" x2="1226.0" y2="1215.5" stroke="#4a4a4a" stroke-width="1.1" opacity="0.75"/><line x1="1215.4" y1="1166.1" x2="1223.0" y2="1216.0" stroke="#4a4a4a" stroke-width="1.1" opacity="0.75"/><line x1="1212.5" y1="1166.5" x2="1220.1" y2="1216.4" stroke="#4a4a4a" stroke-width="1.1" opacity="0.75"/><line x1="1209.5" y1="1167.0" x2="1217.1" y2="1216.9" stroke="#4a4a4a" stroke-width="1.1" opacity="0.75"/><line x1="1206.5" y1="1167.4" x2="1214.1" y2="1217.3" stroke="#4a4a4a" stroke-width="1.1" opacity="0.75"/><line x1="1227.3" y1="1164.2" x2="1234.9" y2="1214.1" stroke="#d03030" stroke-width="1.4" stroke-dasharray="2 7" opacity="0.9"/><line x1="1218.4" y1="1165.6" x2="1226.0" y2="1215.5" stroke="#d03030" stroke-width="1.4" stroke-dasharray="2 7" opacity="0.9"/><line x1="1209.5" y1="1167.0" x2="1217.1" y2="1216.9" stroke="#d03030" stroke-width="1.4" stroke-dasharray="2 7" opacity="0.9"/><line x1="1232.9" y1="1225.3" x2="1196.9" y2="1250.4" stroke="#4a4a4a" stroke-width="1.1" opacity="0.75"/><line x1="1231.1" y1="1222.9" x2="1195.1" y2="1248.0" stroke="#4a4a4a" stroke-width="1.1" opacity="0.75"/><line x1="1229.4" y1="1220.4" x2="1193.4" y2="1245.5" stroke="#4a4a4a" stroke-width="1.1" opacity="0.75"/><line x1="1227.7" y1="1218.0" x2="1191.7" y2="1243.1" stroke="#4a4a4a" stroke-width="1.1" opacity="0.75"/><line x1="1226.0" y1="1215.5" x2="1190.0" y2="1240.6" stroke="#4a4a4a" stroke-width="1.1" opacity="0.75"/><line x1="1224.3" y1="1213.0" x2="1188.3" y2="1238.1" stroke="#4a4a4a" stroke-width="1.1" opacity="0.75"/><line x1="1222.6" y1="1210.6" x2="1186.6" y2="1235.7" stroke="#4a4a4a" stroke-width="1.1" opacity="0.75"/><line x1="1220.9" y1="1208.1" x2="1184.9" y2="1233.2" stroke="#4a4a4a" stroke-width="1.1" opacity="0.75"/><line x1="1219.1" y1="1205.7" x2="1183.1" y2="1230.8" stroke="#4a4a4a" stroke-width="1.1" opacity="0.75"/><line x1="1231.1" y1="1222.9" x2="1195.1" y2="1248.0" stroke="#d03030" stroke-width="1.4" stroke-dasharray="2 7" opacity="0.9"/><line x1="1226.0" y1="1215.5" x2="1190.0" y2="1240.6" stroke="#d03030" stroke-width="1.4" stroke-dasharray="2 7" opacity="0.9"/><line x1="1220.9" y1="1208.1" x2="1184.9" y2="1233.2" stroke="#d03030" stroke-width="1.4" stroke-dasharray="2 7" opacity="0.9"/><line x1="1196.9" y1="1250.4" x2="1161.9" y2="1274.8" stroke="#4a4a4a" stroke-width="1.1" opacity="0.75"/><line x1="1195.1" y1="1248.0" x2="1160.1" y2="1272.4" stroke="#4a4a4a" stroke-width="1.1" opacity="0.75"/><line x1="1193.4" y1="1245.5" x2="1158.4" y2="1269.9" stroke="#4a4a4a" stroke-width="1.1" opacity="0.75"/><line x1="1191.7" y1="1243.1" x2="1156.7" y2="1267.5" stroke="#4a4a4a" stroke-width="1.1" opacity="0.75"/><line x1="1190.0" y1="1240.6" x2="1155.0" y2="1265.0" stroke="#4a4a4a" stroke-width="1.1" opacity="0.75"/><line x1="1188.3" y1="1238.1" x2="1153.3" y2="1262.5" stroke="#4a4a4a" stroke-width="1.1" opacity="0.75"/><line x1="1186.6" y1="1235.7" x2="1151.6" y2="1260.1" stroke="#4a4a4a" stroke-width="1.1" opacity="0.75"/><line x1="1184.9" y1="1233.2" x2="1149.9" y2="1257.6" stroke="#4a4a4a" stroke-width="1.1" opacity="0.75"/><line x1="1183.1" y1="1230.8" x2="1148.1" y2="1255.2" stroke="#4a4a4a" stroke-width="1.1" opacity="0.75"/><line x1="1195.1" y1="1248.0" x2="1160.1" y2="1272.4" stroke="#d03030" stroke-width="1.4" stroke-dasharray="2 7" opacity="0.9"/><line x1="1190.0" y1="1240.6" x2="1155.0" y2="1265.0" stroke="#d03030" stroke-width="1.4" stroke-dasharray="2 7" opacity="0.9"/><line x1="1184.9" y1="1233.2" x2="1149.9" y2="1257.6" stroke="#d03030" stroke-width="1.4" stroke-dasharray="2 7" opacity="0.9"/><line x1="1151.3" y1="1276.4" x2="1106.0" y2="1261.5" stroke="#4a4a4a" stroke-width="1.1" opacity="0.75"/><line x1="1152.2" y1="1273.5" x2="1106.9" y2="1258.6" stroke="#4a4a4a" stroke-width="1.1" opacity="0.75"/><line x1="1153.1" y1="1270.7" x2="1107.8" y2="1255.8" stroke="#4a4a4a" stroke-width="1.1" opacity="0.75"/><line x1="1154.1" y1="1267.8" x2="1108.8" y2="1252.9" stroke="#4a4a4a" stroke-width="1.1" opacity="0.75"/><line x1="1155.0" y1="1265.0" x2="1109.7" y2="1250.1" stroke="#4a4a4a" stroke-width="1.1" opacity="0.75"/><line x1="1155.9" y1="1262.2" x2="1110.6" y2="1247.3" stroke="#4a4a4a" stroke-width="1.1" opacity="0.75"/><line x1="1156.9" y1="1259.3" x2="1111.6" y2="1244.4" stroke="#4a4a4a" stroke-width="1.1" opacity="0.75"/><line x1="1157.8" y1="1256.5" x2="1112.5" y2="1241.6" stroke="#4a4a4a" stroke-width="1.1" opacity="0.75"/><line x1="1158.7" y1="1253.6" x2="1113.4" y2="1238.7" stroke="#4a4a4a" stroke-width="1.1" opacity="0.75"/><line x1="1152.2" y1="1273.5" x2="1106.9" y2="1258.6" stroke="#d03030" stroke-width="1.4" stroke-dasharray="2 7" opacity="0.9"/><line x1="1155.0" y1="1265.0" x2="1109.7" y2="1250.1" stroke="#d03030" stroke-width="1.4" stroke-dasharray="2 7" opacity="0.9"/><line x1="1157.8" y1="1256.5" x2="1112.5" y2="1241.6" stroke="#d03030" stroke-width="1.4" stroke-dasharray="2 7" opacity="0.9"/><line x1="1105.9" y1="1261.5" x2="1063.2" y2="1247.4" stroke="#4a4a4a" stroke-width="1.1" opacity="0.75"/><line x1="1106.9" y1="1258.6" x2="1064.2" y2="1244.5" stroke="#4a4a4a" stroke-width="1.1" opacity="0.75"/><line x1="1107.8" y1="1255.8" x2="1065.1" y2="1241.7" stroke="#4a4a4a" stroke-width="1.1" opacity="0.75"/><line x1="1108.8" y1="1252.9" x2="1066.1" y2="1238.8" stroke="#4a4a4a" stroke-width="1.1" opacity="0.75"/><line x1="1109.7" y1="1250.1" x2="1067.0" y2="1236.0" stroke="#4a4a4a" stroke-width="1.1" opacity="0.75"/><line x1="1110.6" y1="1247.3" x2="1067.9" y2="1233.2" stroke="#4a4a4a" stroke-width="1.1" opacity="0.75"/><line x1="1111.6" y1="1244.4" x2="1068.9" y2="1230.3" stroke="#4a4a4a" stroke-width="1.1" opacity="0.75"/><line x1="1112.5" y1="1241.6" x2="1069.8" y2="1227.5" stroke="#4a4a4a" stroke-width="1.1" opacity="0.75"/><line x1="1113.5" y1="1238.7" x2="1070.8" y2="1224.6" stroke="#4a4a4a" stroke-width="1.1" opacity="0.75"/><line x1="1106.9" y1="1258.6" x2="1064.2" y2="1244.5" stroke="#d03030" stroke-width="1.4" stroke-dasharray="2 7" opacity="0.9"/><line x1="1109.7" y1="1250.1" x2="1067.0" y2="1236.0" stroke="#d03030" stroke-width="1.4" stroke-dasharray="2 7" opacity="0.9"/><line x1="1112.5" y1="1241.6" x2="1069.8" y2="1227.5" stroke="#d03030" stroke-width="1.4" stroke-dasharray="2 7" opacity="0.9"/><line x1="1055.0" y1="1236.8" x2="1052.0" y2="1189.7" stroke="#4a4a4a" stroke-width="1.1" opacity="0.75"/><line x1="1058.0" y1="1236.6" x2="1055.0" y2="1189.5" stroke="#4a4a4a" stroke-width="1.1" opacity="0.75"/><line x1="1061.0" y1="1236.4" x2="1058.0" y2="1189.3" stroke="#4a4a4a" stroke-width="1.1" opacity="0.75"/><line x1="1064.0" y1="1236.2" x2="1061.0" y2="1189.1" stroke="#4a4a4a" stroke-width="1.1" opacity="0.75"/><line x1="1067.0" y1="1236.0" x2="1064.0" y2="1188.9" stroke="#4a4a4a" stroke-width="1.1" opacity="0.75"/><line x1="1070.0" y1="1235.8" x2="1067.0" y2="1188.7" stroke="#4a4a4a" stroke-width="1.1" opacity="0.75"/><line x1="1073.0" y1="1235.6" x2="1070.0" y2="1188.5" stroke="#4a4a4a" stroke-width="1.1" opacity="0.75"/><line x1="1076.0" y1="1235.4" x2="1073.0" y2="1188.3" stroke="#4a4a4a" stroke-width="1.1" opacity="0.75"/><line x1="1079.0" y1="1235.2" x2="1076.0" y2="1188.1" stroke="#4a4a4a" stroke-width="1.1" opacity="0.75"/><line x1="1058.0" y1="1236.6" x2="1055.0" y2="1189.5" stroke="#d03030" stroke-width="1.4" stroke-dasharray="2 7" opacity="0.9"/><line x1="1067.0" y1="1236.0" x2="1064.0" y2="1188.9" stroke="#d03030" stroke-width="1.4" stroke-dasharray="2 7" opacity="0.9"/><line x1="1076.0" y1="1235.4" x2="1073.0" y2="1188.3" stroke="#d03030" stroke-width="1.4" stroke-dasharray="2 7" opacity="0.9"/><line x1="1052.0" y1="1189.6" x2="1049.0" y2="1138.2" stroke="#4a4a4a" stroke-width="1.1" opacity="0.75"/><line x1="1055.0" y1="1189.4" x2="1052.0" y2="1138.0" stroke="#4a4a4a" stroke-width="1.1" opacity="0.75"/><line x1="1058.0" y1="1189.2" x2="1055.0" y2="1137.8" stroke="#4a4a4a" stroke-width="1.1" opacity="0.75"/><line x1="1061.0" y1="1189.1" x2="1058.0" y2="1137.7" stroke="#4a4a4a" stroke-width="1.1" opacity="0.75"/><line x1="1064.0" y1="1188.9" x2="1061.0" y2="1137.5" stroke="#4a4a4a" stroke-width="1.1" opacity="0.75"/><line x1="1067.0" y1="1188.7" x2="1064.0" y2="1137.3" stroke="#4a4a4a" stroke-width="1.1" opacity="0.75"/><line x1="1070.0" y1="1188.6" x2="1067.0" y2="1137.2" stroke="#4a4a4a" stroke-width="1.1" opacity="0.75"/><line x1="1073.0" y1="1188.4" x2="1070.0" y2="1137.0" stroke="#4a4a4a" stroke-width="1.1" opacity="0.75"/><line x1="1076.0" y1="1188.2" x2="1073.0" y2="1136.8" stroke="#4a4a4a" stroke-width="1.1" opacity="0.75"/><line x1="1055.0" y1="1189.4" x2="1052.0" y2="1138.0" stroke="#d03030" stroke-width="1.4" stroke-dasharray="2 7" opacity="0.9"/><line x1="1064.0" y1="1188.9" x2="1061.0" y2="1137.5" stroke="#d03030" stroke-width="1.4" stroke-dasharray="2 7" opacity="0.9"/><line x1="1073.0" y1="1188.4" x2="1070.0" y2="1137.0" stroke="#d03030" stroke-width="1.4" stroke-dasharray="2 7" opacity="0.9"/><line x1="1055.0" y1="1127.1" x2="1087.3" y2="1108.6" stroke="#4a4a4a" stroke-width="1.1" opacity="0.75"/><line x1="1056.5" y1="1129.7" x2="1088.8" y2="1111.2" stroke="#4a4a4a" stroke-width="1.1" opacity="0.75"/><line x1="1058.0" y1="1132.3" x2="1090.3" y2="1113.8" stroke="#4a4a4a" stroke-width="1.1" opacity="0.75"/><line x1="1059.5" y1="1134.9" x2="1091.8" y2="1116.4" stroke="#4a4a4a" stroke-width="1.1" opacity="0.75"/><line x1="1061.0" y1="1137.5" x2="1093.3" y2="1119.0" stroke="#4a4a4a" stroke-width="1.1" opacity="0.75"/><line x1="1062.5" y1="1140.1" x2="1094.8" y2="1121.6" stroke="#4a4a4a" stroke-width="1.1" opacity="0.75"/><line x1="1064.0" y1="1142.7" x2="1096.3" y2="1124.2" stroke="#4a4a4a" stroke-width="1.1" opacity="0.75"/><line x1="1065.5" y1="1145.3" x2="1097.8" y2="1126.8" stroke="#4a4a4a" stroke-width="1.1" opacity="0.75"/><line x1="1067.0" y1="1147.9" x2="1099.3" y2="1129.4" stroke="#4a4a4a" stroke-width="1.1" opacity="0.75"/><line x1="1056.5" y1="1129.7" x2="1088.8" y2="1111.2" stroke="#d03030" stroke-width="1.4" stroke-dasharray="2 7" opacity="0.9"/><line x1="1061.0" y1="1137.5" x2="1093.3" y2="1119.0" stroke="#d03030" stroke-width="1.4" stroke-dasharray="2 7" opacity="0.9"/><line x1="1065.5" y1="1145.3" x2="1097.8" y2="1126.8" stroke="#d03030" stroke-width="1.4" stroke-dasharray="2 7" opacity="0.9"/><polygon points="1109.5,1070.1 1131.7,1075.1 1128.2,1057.1" fill="#e8e8e8"/><polygon points="1141.0,1063.9 1131.7,1075.1 1128.2,1057.1" fill="#b4b4b4"/><polygon points="1113.0,1088.1 1135.2,1093.1 1131.7,1075.1" fill="#e8e8e8"/><polygon points="1144.5,1081.9 1135.2,1093.1 1131.7,1075.1" fill="#b4b4b4"/><polygon points="1116.5,1106.1 1138.7,1111.1 1135.2,1093.1" fill="#e8e8e8"/><polygon points="1148.0,1099.9 1138.7,1111.1 1135.2,1093.1" fill="#b4b4b4"/><polygon points="1037.2,1143.5 1054.8,1129.0 1038.1,1120.7" fill="#e8e8e8"/><polygon points="1051.5,1114.9 1054.8,1129.0 1038.1,1120.7" fill="#b4b4b4"/><polygon points="1053.8,1151.8 1071.5,1137.4 1054.8,1129.0" fill="#e8e8e8"/><polygon points="1068.2,1123.2 1071.5,1137.4 1054.8,1129.0" fill="#b4b4b4"/><polygon points="1070.5,1160.1 1088.1,1145.7 1071.5,1137.4" fill="#e8e8e8"/><polygon points="1084.8,1131.5 1088.1,1145.7 1071.5,1137.4" fill="#b4b4b4"/><polygon points="1207.7,1147.0 1203.9,1124.1 1187.2,1136.1" fill="#e8e8e8"/><polygon points="1189.0,1121.0 1203.9,1124.1 1187.2,1136.1" fill="#b4b4b4"/><polygon points="1224.3,1135.0 1220.5,1112.1 1203.9,1124.1" fill="#e8e8e8"/><polygon points="1205.7,1109.0 1220.5,1112.1 1203.9,1124.1" fill="#b4b4b4"/><polygon points="1241.0,1123.0 1237.2,1100.1 1220.5,1112.1" fill="#e8e8e8"/><polygon points="1222.3,1097.0 1237.2,1100.1 1220.5,1112.1" fill="#b4b4b4"/><polygon points="1202.7,1223.3 1219.1,1207.5 1201.8,1200.5" fill="#e8e8e8"/><polygon points="1214.7,1193.7 1219.1,1207.5 1201.8,1200.5" fill="#b4b4b4"/><polygon points="1220.0,1230.3 1236.5,1214.5 1219.1,1207.5" fill="#e8e8e8"/><polygon points="1232.0,1200.7 1236.5,1214.5 1219.1,1207.5" fill="#b4b4b4"/><polygon points="1237.3,1237.3 1253.8,1221.5 1236.5,1214.5" fill="#e8e8e8"/><polygon points="1249.3,1207.7 1253.8,1221.5 1236.5,1214.5" fill="#b4b4b4"/><polygon points="1063.8,1258.2 1057.8,1236.8 1045.2,1246.1" fill="#e8e8e8"/><polygon points="1044.8,1232.5 1057.8,1236.8 1045.2,1246.1" fill="#b4b4b4"/><polygon points="1076.5,1248.9 1070.5,1227.5 1057.8,1236.8" fill="#e8e8e8"/><polygon points="1057.5,1223.1 1070.5,1227.5 1057.8,1236.8" fill="#b4b4b4"/><polygon points="1089.2,1239.5 1083.2,1218.1 1070.5,1227.5" fill="#e8e8e8"/><polygon points="1070.2,1213.8 1083.2,1218.1 1070.5,1227.5" fill="#b4b4b4"/><polygon points="1133.7,1250.4 1156.6,1253.9 1150.6,1234.6" fill="#e8e8e8"/><polygon points="1164.3,1240.9 1156.6,1253.9 1150.6,1234.6" fill="#b4b4b4"/><polygon points="1139.7,1269.7 1162.6,1273.2 1156.6,1253.9" fill="#e8e8e8"/><polygon points="1170.3,1260.3 1162.6,1273.2 1156.6,1253.9" fill="#b4b4b4"/><polygon points="1145.7,1289.1 1168.6,1292.6 1162.6,1273.2" fill="#e8e8e8"/><polygon points="1176.3,1279.6 1168.6,1292.6 1162.6,1273.2" fill="#b4b4b4"/><g transform="translate(1093.3 1119.0) rotate(46)"><rect x="-23.5" y="-13.0" width="47.0" height="26.0" rx="13.0" fill="url(#capBody)"/><ellipse cx="-14.4" cy="0" rx="5.2" ry="12.2" fill="none" stroke="#2e78ac" stroke-width="1.2" opacity="0.7"/><ellipse cx="-7.2" cy="0" rx="5.2" ry="12.2" fill="none" stroke="#2e78ac" stroke-width="1.2" opacity="0.7"/><ellipse cx="0.0" cy="0" rx="5.2" ry="12.2" fill="none" stroke="#2e78ac" stroke-width="1.2" opacity="0.7"/><ellipse cx="7.2" cy="0" rx="5.2" ry="12.2" fill="none" stroke="#2e78ac" stroke-width="1.2" opacity="0.7"/><ellipse cx="14.4" cy="0" rx="5.2" ry="12.2" fill="none" stroke="#2e78ac" stroke-width="1.2" opacity="0.7"/><circle cx="-12.6" cy="-1.3" r="11.7" fill="url(#capG)"/></g><g transform="translate(1173.6 1106.9) rotate(118)"><rect x="-21.5" y="-14.5" width="43.0" height="29.0" rx="14.5" fill="url(#capBody)"/><ellipse cx="-11.4" cy="0" rx="5.8" ry="13.6" fill="none" stroke="#2e78ac" stroke-width="1.2" opacity="0.7"/><ellipse cx="-5.7" cy="0" rx="5.8" ry="13.6" fill="none" stroke="#2e78ac" stroke-width="1.2" opacity="0.7"/><ellipse cx="0.0" cy="0" rx="5.8" ry="13.6" fill="none" stroke="#2e78ac" stroke-width="1.2" opacity="0.7"/><ellipse cx="5.7" cy="0" rx="5.8" ry="13.6" fill="none" stroke="#2e78ac" stroke-width="1.2" opacity="0.7"/><ellipse cx="11.4" cy="0" rx="5.8" ry="13.6" fill="none" stroke="#2e78ac" stroke-width="1.2" opacity="0.7"/><circle cx="9.3" cy="-1.5" r="13.1" fill="url(#capG)"/></g><g transform="translate(1218.4 1165.6) rotate(-8)"><rect x="-23.5" y="-14.0" width="47.0" height="28.0" rx="14.0" fill="url(#capBody)"/><ellipse cx="-13.7" cy="0" rx="5.6" ry="13.2" fill="none" stroke="#2e78ac" stroke-width="1.2" opacity="0.7"/><ellipse cx="-6.9" cy="0" rx="5.6" ry="13.2" fill="none" stroke="#2e78ac" stroke-width="1.2" opacity="0.7"/><ellipse cx="0.0" cy="0" rx="5.6" ry="13.2" fill="none" stroke="#2e78ac" stroke-width="1.2" opacity="0.7"/><ellipse cx="6.8" cy="0" rx="5.6" ry="13.2" fill="none" stroke="#2e78ac" stroke-width="1.2" opacity="0.7"/><ellipse cx="13.7" cy="0" rx="5.6" ry="13.2" fill="none" stroke="#2e78ac" stroke-width="1.2" opacity="0.7"/><circle cx="11.7" cy="-1.4" r="12.6" fill="url(#capG)"/></g><g transform="translate(1064.0 1188.9) rotate(0)"><rect x="-25.0" y="-15.5" width="50.0" height="31.0" rx="15.5" fill="url(#capBody)"/><ellipse cx="-14.2" cy="0" rx="6.2" ry="14.6" fill="none" stroke="#2e78ac" stroke-width="1.2" opacity="0.7"/><ellipse cx="-7.1" cy="0" rx="6.2" ry="14.6" fill="none" stroke="#2e78ac" stroke-width="1.2" opacity="0.7"/><ellipse cx="0.0" cy="0" rx="6.2" ry="14.6" fill="none" stroke="#2e78ac" stroke-width="1.2" opacity="0.7"/><ellipse cx="7.1" cy="0" rx="6.2" ry="14.6" fill="none" stroke="#2e78ac" stroke-width="1.2" opacity="0.7"/><ellipse cx="14.2" cy="0" rx="6.2" ry="14.6" fill="none" stroke="#2e78ac" stroke-width="1.2" opacity="0.7"/><circle cx="-12.0" cy="-1.6" r="14.0" fill="url(#capG)"/></g><g transform="translate(1109.7 1250.1) rotate(117)"><rect x="-21.5" y="-15.5" width="43.0" height="31.0" rx="15.5" fill="url(#capBody)"/><ellipse cx="-10.7" cy="0" rx="6.2" ry="14.6" fill="none" stroke="#2e78ac" stroke-width="1.2" opacity="0.7"/><ellipse cx="-5.3" cy="0" rx="6.2" ry="14.6" fill="none" stroke="#2e78ac" stroke-width="1.2" opacity="0.7"/><ellipse cx="0.0" cy="0" rx="6.2" ry="14.6" fill="none" stroke="#2e78ac" stroke-width="1.2" opacity="0.7"/><ellipse cx="5.3" cy="0" rx="6.2" ry="14.6" fill="none" stroke="#2e78ac" stroke-width="1.2" opacity="0.7"/><ellipse cx="10.7" cy="0" rx="6.2" ry="14.6" fill="none" stroke="#2e78ac" stroke-width="1.2" opacity="0.7"/><circle cx="8.5" cy="-1.6" r="14.0" fill="url(#capG)"/></g><g transform="translate(1190.0 1240.6) rotate(48)"><rect x="-23.5" y="-14.5" width="47.0" height="29.0" rx="14.5" fill="url(#capBody)"/><ellipse cx="-13.4" cy="0" rx="5.8" ry="13.6" fill="none" stroke="#2e78ac" stroke-width="1.2" opacity="0.7"/><ellipse cx="-6.7" cy="0" rx="5.8" ry="13.6" fill="none" stroke="#2e78ac" stroke-width="1.2" opacity="0.7"/><ellipse cx="0.0" cy="0" rx="5.8" ry="13.6" fill="none" stroke="#2e78ac" stroke-width="1.2" opacity="0.7"/><ellipse cx="6.7" cy="0" rx="5.8" ry="13.6" fill="none" stroke="#2e78ac" stroke-width="1.2" opacity="0.7"/><ellipse cx="13.4" cy="0" rx="5.8" ry="13.6" fill="none" stroke="#2e78ac" stroke-width="1.2" opacity="0.7"/><circle cx="11.3" cy="-1.5" r="13.1" fill="url(#capG)"/></g><g transform="translate(1140.8 1182.8) rotate(20)"><rect x="-21" y="-34" width="42" height="68" rx="3" fill="#ddd" stroke="#777" stroke-width="1.5"/><rect x="-8" y="-39" width="16" height="6" fill="#bbb" stroke="#777" stroke-width="1"/><rect x="-18" y="-31" width="36" height="62" fill="url(#battG)"/><line x1="-18" y1="-20.7" x2="18" y2="-20.7" stroke="#1a6a14" stroke-width="1.2"/><line x1="-18" y1="-10.3" x2="18" y2="-10.3" stroke="#1a6a14" stroke-width="1.2"/><line x1="-18" y1="0.0" x2="18" y2="0.0" stroke="#1a6a14" stroke-width="1.2"/><line x1="-18" y1="10.3" x2="18" y2="10.3" stroke="#1a6a14" stroke-width="1.2"/><line x1="-18" y1="20.7" x2="18" y2="20.7" stroke="#1a6a14" stroke-width="1.2"/></g></g><g><defs>
<pattern id="stripeA" patternUnits="userSpaceOnUse" width="6" height="9" patternTransform="rotate(-35)">
 <rect width="6" height="9" fill="#bcbcc2"/>
 <rect x="0" y="0" width="1.4" height="9" fill="#8c8c96"/>
 <rect x="2.4" y="0" width="1.8" height="9" fill="#f0f0f4"/>
 <rect x="0" y="1" width="1.8" height="3.5" fill="#34408e"/>
</pattern>
<pattern id="stripeB" patternUnits="userSpaceOnUse" width="6" height="9" patternTransform="rotate(55)">
 <rect width="6" height="9" fill="#bcbcc2"/>
 <rect x="0" y="0" width="1.4" height="9" fill="#8c8c96"/>
 <rect x="2.4" y="0" width="1.8" height="9" fill="#f0f0f4"/>
 <rect x="0" y="1" width="1.8" height="3.5" fill="#34408e"/>
</pattern>
</defs><line x1="1114.6" y1="165.6" x2="1151.2" y2="218.3" stroke="url(#stripeB)" stroke-width="25" stroke-linecap="round"/><line x1="1151.2" y1="218.3" x2="1086.2" y2="263.0" stroke="url(#stripeA)" stroke-width="25" stroke-linecap="round"/><line x1="1086.2" y1="263.0" x2="1047.7" y2="212.3" stroke="url(#stripeB)" stroke-width="25" stroke-linecap="round"/><line x1="1047.7" y1="212.3" x2="1114.6" y2="165.6" stroke="url(#stripeA)" stroke-width="25" stroke-linecap="round"/><line x1="1177.8" y1="254.8" x2="1218.4" y2="305.5" stroke="url(#stripeB)" stroke-width="25" stroke-linecap="round"/><line x1="1218.4" y1="305.5" x2="1149.3" y2="352.2" stroke="url(#stripeA)" stroke-width="25" stroke-linecap="round"/><line x1="1149.3" y1="352.2" x2="1112.9" y2="299.5" stroke="url(#stripeB)" stroke-width="25" stroke-linecap="round"/><line x1="1112.9" y1="299.5" x2="1177.8" y2="254.8" stroke="url(#stripeA)" stroke-width="25" stroke-linecap="round"/><line x1="1012.9" y1="240.4" x2="1049.4" y2="293.2" stroke="url(#stripeB)" stroke-width="25" stroke-linecap="round"/><line x1="1049.4" y1="293.2" x2="982.4" y2="337.8" stroke="url(#stripeA)" stroke-width="25" stroke-linecap="round"/><line x1="982.4" y1="337.8" x2="941.8" y2="285.1" stroke="url(#stripeB)" stroke-width="25" stroke-linecap="round"/><line x1="941.8" y1="285.1" x2="1012.9" y2="240.4" stroke="url(#stripeA)" stroke-width="25" stroke-linecap="round"/><line x1="1076.1" y1="327.4" x2="1112.6" y2="380.1" stroke="url(#stripeB)" stroke-width="25" stroke-linecap="round"/><line x1="1112.6" y1="380.1" x2="1047.7" y2="424.7" stroke="url(#stripeA)" stroke-width="25" stroke-linecap="round"/><line x1="1047.7" y1="424.7" x2="1011.2" y2="372.1" stroke="url(#stripeB)" stroke-width="25" stroke-linecap="round"/><line x1="1011.2" y1="372.1" x2="1076.1" y2="327.4" stroke="url(#stripeA)" stroke-width="25" stroke-linecap="round"/><rect x="1067.9" y="191.8" width="64" height="46" rx="22" transform="rotate(-35 1099.9 214.8)" fill="#b6d6a8"/><rect x="1132.6" y="280.0" width="64" height="46" rx="22" transform="rotate(-35 1164.6 303.0)" fill="#b6d6a8"/><rect x="964.6" y="266.1" width="64" height="46" rx="22" transform="rotate(-35 996.6 289.1)" fill="#b6d6a8"/><rect x="1029.9" y="353.1" width="64" height="46" rx="22" transform="rotate(-35 1061.9 376.1)" fill="#b6d6a8"/><polygon points="1115.0,142.4 1130.6,151.4 1124.4,168.3 1106.7,165.2 1104.2,151.4" fill="#3c72c8"/><polygon points="1115.0,142.4 1130.6,151.4 1117.4,156.2" fill="#5a8ad8"/><circle cx="1114.8" cy="141.4" r="2.2" fill="#f0a820"/><circle cx="1124.9" cy="169.2" r="2.2" fill="#f0a820"/><polygon points="1035.4,199.0 1049.9,207.4 1044.2,223.1 1027.7,220.2 1025.5,207.4" fill="#3c72c8"/><polygon points="1035.4,199.0 1049.9,207.4 1037.7,211.8" fill="#5a8ad8"/><circle cx="1035.3" cy="198.0" r="2.2" fill="#f0a820"/><circle cx="1044.7" cy="223.9" r="2.2" fill="#f0a820"/><polygon points="1013.7,218.3 1028.2,226.7 1022.5,242.4 1006.0,239.5 1003.8,226.7" fill="#3c72c8"/><polygon points="1013.7,218.3 1028.2,226.7 1016.0,231.1" fill="#5a8ad8"/><circle cx="1013.6" cy="217.3" r="2.2" fill="#f0a820"/><circle cx="1023.0" cy="243.2" r="2.2" fill="#f0a820"/><polygon points="1158.7,206.2 1173.2,214.6 1167.5,230.3 1151.0,227.4 1148.8,214.6" fill="#3c72c8"/><polygon points="1158.7,206.2 1173.2,214.6 1161.0,219.0" fill="#5a8ad8"/><circle cx="1158.6" cy="205.2" r="2.2" fill="#f0a820"/><circle cx="1168.0" cy="231.1" r="2.2" fill="#f0a820"/><polygon points="1178.0,232.8 1192.5,241.2 1186.8,256.9 1170.3,254.0 1168.1,241.2" fill="#3c72c8"/><polygon points="1178.0,232.8 1192.5,241.2 1180.3,245.6" fill="#5a8ad8"/><circle cx="1177.9" cy="231.8" r="2.2" fill="#f0a820"/><circle cx="1187.3" cy="257.7" r="2.2" fill="#f0a820"/><polygon points="929.0,270.5 944.6,279.5 938.4,296.4 920.7,293.3 918.2,279.5" fill="#3c72c8"/><polygon points="929.0,270.5 944.6,279.5 931.4,284.3" fill="#5a8ad8"/><circle cx="928.8" cy="269.5" r="2.2" fill="#f0a820"/><circle cx="938.9" cy="297.3" r="2.2" fill="#f0a820"/><polygon points="1226.2,292.2 1241.8,301.2 1235.6,318.1 1217.9,315.0 1215.4,301.2" fill="#3c72c8"/><polygon points="1226.2,292.2 1241.8,301.2 1228.6,306.0" fill="#5a8ad8"/><circle cx="1226.0" cy="291.2" r="2.2" fill="#f0a820"/><circle cx="1236.1" cy="319.0" r="2.2" fill="#f0a820"/><polygon points="977.4,334.3 991.9,342.7 986.2,358.4 969.7,355.5 967.5,342.7" fill="#3c72c8"/><polygon points="977.4,334.3 991.9,342.7 979.7,347.1" fill="#5a8ad8"/><circle cx="977.3" cy="333.3" r="2.2" fill="#f0a820"/><circle cx="986.7" cy="359.2" r="2.2" fill="#f0a820"/><polygon points="999.2,358.5 1013.7,366.9 1008.0,382.6 991.5,379.7 989.3,366.9" fill="#3c72c8"/><polygon points="999.2,358.5 1013.7,366.9 1001.5,371.3" fill="#5a8ad8"/><circle cx="999.1" cy="357.5" r="2.2" fill="#f0a820"/><circle cx="1008.5" cy="383.4" r="2.2" fill="#f0a820"/><polygon points="1144.1,348.8 1158.6,357.2 1152.9,372.9 1136.4,370.0 1134.2,357.2" fill="#3c72c8"/><polygon points="1144.1,348.8 1158.6,357.2 1146.4,361.6" fill="#5a8ad8"/><circle cx="1144.0" cy="347.8" r="2.2" fill="#f0a820"/><circle cx="1153.4" cy="373.7" r="2.2" fill="#f0a820"/><polygon points="1120.0,368.1 1134.5,376.5 1128.8,392.2 1112.3,389.3 1110.1,376.5" fill="#3c72c8"/><polygon points="1120.0,368.1 1134.5,376.5 1122.3,380.9" fill="#5a8ad8"/><circle cx="1119.9" cy="367.1" r="2.2" fill="#f0a820"/><circle cx="1129.3" cy="393.0" r="2.2" fill="#f0a820"/><polygon points="1042.6,420.2 1058.2,429.2 1052.0,446.1 1034.3,443.0 1031.8,429.2" fill="#3c72c8"/><polygon points="1042.6,420.2 1058.2,429.2 1045.0,434.0" fill="#5a8ad8"/><circle cx="1042.4" cy="419.2" r="2.2" fill="#f0a820"/><circle cx="1052.5" cy="447.0" r="2.2" fill="#f0a820"/><polygon points="1081.2,258.4 1096.8,267.4 1090.6,284.3 1072.9,281.2 1070.4,267.4" fill="#3c72c8"/><polygon points="1081.2,258.4 1096.8,267.4 1083.6,272.2" fill="#5a8ad8"/><circle cx="1081.0" cy="257.4" r="2.2" fill="#f0a820"/><circle cx="1091.1" cy="285.2" r="2.2" fill="#f0a820"/><polygon points="1057.1,280.2 1072.7,289.2 1066.5,306.1 1048.8,303.0 1046.3,289.2" fill="#3c72c8"/><polygon points="1057.1,280.2 1072.7,289.2 1059.5,294.0" fill="#5a8ad8"/><circle cx="1056.9" cy="279.2" r="2.2" fill="#f0a820"/><circle cx="1067.0" cy="307.0" r="2.2" fill="#f0a820"/><polygon points="1100.6,285.0 1116.2,294.0 1110.0,310.9 1092.3,307.8 1089.8,294.0" fill="#3c72c8"/><polygon points="1100.6,285.0 1116.2,294.0 1103.0,298.8" fill="#5a8ad8"/><circle cx="1100.4" cy="284.0" r="2.2" fill="#f0a820"/><circle cx="1110.5" cy="311.8" r="2.2" fill="#f0a820"/><polygon points="1076.4,304.3 1092.0,313.3 1085.8,330.2 1068.1,327.1 1065.6,313.3" fill="#3c72c8"/><polygon points="1076.4,304.3 1092.0,313.3 1078.8,318.1" fill="#5a8ad8"/><circle cx="1076.2" cy="303.3" r="2.2" fill="#f0a820"/><circle cx="1086.3" cy="331.1" r="2.2" fill="#f0a820"/><path d="M1072,290 L1088,306 M1088,290 L1072,306" stroke="#e040a0" stroke-width="3"/><path d="M1066,284 L1094,312 M1094,284 L1066,312" stroke="#f0a020" stroke-width="1.5"/><circle cx="1005" cy="345" r="3" fill="#1a8a5a"/><circle cx="1040" cy="358" r="3" fill="#1a8a5a"/><circle cx="1150" cy="235" r="3" fill="#1a8a5a"/><circle cx="1118" cy="372" r="3" fill="#1a8a5a"/><circle cx="1030" cy="240" r="3" fill="#1a8a5a"/><circle cx="1180" cy="300" r="3" fill="#1a8a5a"/></g><g><polygon points="827.7,474.1 835.1,476.4 838.7,485.4 834.9,492.1 827.5,489.8 823.9,480.8" fill="none" stroke="#353d35" stroke-width="2.6"/><line x1="834.9" y1="492.1" x2="837.7" y2="499.1" stroke="#353d35" stroke-width="2.6"/><circle cx="835.1" cy="476.4" r="1.4" fill="#2a3aa0"/><circle cx="827.5" cy="489.8" r="1.4" fill="#2a3aa0"/><polygon points="837.7,499.1 845.1,501.3 848.6,510.3 844.9,517.1 837.5,514.8 833.9,505.8" fill="none" stroke="#353d35" stroke-width="2.6"/><line x1="844.9" y1="517.1" x2="847.7" y2="524.0" stroke="#353d35" stroke-width="2.6"/><circle cx="845.1" cy="501.3" r="1.4" fill="#2a3aa0"/><circle cx="837.5" cy="514.8" r="1.4" fill="#2a3aa0"/><polygon points="847.7,524.0 855.0,526.3 858.6,535.3 854.9,542.0 847.5,539.8 843.9,530.8" fill="none" stroke="#353d35" stroke-width="2.6"/><circle cx="855.0" cy="526.3" r="1.4" fill="#2a3aa0"/><circle cx="847.5" cy="539.8" r="1.4" fill="#2a3aa0"/><line x1="826.3" y1="470.6" x2="827.7" y2="474.1" stroke="#2a3a8a" stroke-width="2"/><line x1="856.3" y1="545.5" x2="854.9" y2="542.0" stroke="#2a3a8a" stroke-width="2"/><polygon points="891.2,529.4 892.6,522.3 899.9,519.3 905.8,523.4 904.4,530.5 897.1,533.4" fill="none" stroke="#353d35" stroke-width="2.6"/><line x1="905.8" y1="523.4" x2="911.5" y2="521.1" stroke="#353d35" stroke-width="2.6"/><circle cx="892.6" cy="522.3" r="1.4" fill="#2a3aa0"/><circle cx="904.4" cy="530.5" r="1.4" fill="#2a3aa0"/><polygon points="911.5,521.1 912.9,514.0 920.2,511.1 926.2,515.1 924.8,522.2 917.5,525.1" fill="none" stroke="#353d35" stroke-width="2.6"/><line x1="926.2" y1="515.1" x2="931.9" y2="512.8" stroke="#353d35" stroke-width="2.6"/><circle cx="912.9" cy="514.0" r="1.4" fill="#2a3aa0"/><circle cx="924.8" cy="522.2" r="1.4" fill="#2a3aa0"/><polygon points="931.9,512.8 933.3,505.7 940.6,502.8 946.5,506.8 945.1,513.9 937.8,516.9" fill="none" stroke="#353d35" stroke-width="2.6"/><line x1="946.5" y1="506.8" x2="952.2" y2="504.5" stroke="#353d35" stroke-width="2.6"/><circle cx="933.3" cy="505.7" r="1.4" fill="#2a3aa0"/><circle cx="945.1" cy="513.9" r="1.4" fill="#2a3aa0"/><polygon points="952.2,504.5 953.6,497.5 960.9,494.5 966.8,498.5 965.4,505.6 958.1,508.6" fill="none" stroke="#353d35" stroke-width="2.6"/><circle cx="953.6" cy="497.5" r="1.4" fill="#2a3aa0"/><circle cx="965.4" cy="505.6" r="1.4" fill="#2a3aa0"/><line x1="888.4" y1="530.5" x2="891.2" y2="529.4" stroke="#2a3a8a" stroke-width="2"/><line x1="969.7" y1="497.4" x2="966.8" y2="498.5" stroke="#2a3a8a" stroke-width="2"/><polygon points="906.1,556.1 907.2,549.1 914.2,546.0 920.1,549.9 919.0,557.0 912.0,560.0" fill="none" stroke="#353d35" stroke-width="2.6"/><line x1="920.1" y1="549.9" x2="925.6" y2="547.5" stroke="#353d35" stroke-width="2.6"/><circle cx="907.2" cy="549.1" r="1.4" fill="#2a3aa0"/><circle cx="919.0" cy="557.0" r="1.4" fill="#2a3aa0"/><polygon points="925.6,547.5 926.7,540.5 933.7,537.4 939.7,541.4 938.6,548.4 931.5,551.5" fill="none" stroke="#353d35" stroke-width="2.6"/><line x1="939.7" y1="541.4" x2="945.1" y2="539.0" stroke="#353d35" stroke-width="2.6"/><circle cx="926.7" cy="540.5" r="1.4" fill="#2a3aa0"/><circle cx="938.6" cy="548.4" r="1.4" fill="#2a3aa0"/><polygon points="945.1,539.0 946.2,531.9 953.3,528.9 959.2,532.8 958.1,539.8 951.0,542.9" fill="none" stroke="#353d35" stroke-width="2.6"/><line x1="959.2" y1="532.8" x2="964.7" y2="530.4" stroke="#353d35" stroke-width="2.6"/><circle cx="946.2" cy="531.9" r="1.4" fill="#2a3aa0"/><circle cx="958.1" cy="539.8" r="1.4" fill="#2a3aa0"/><polygon points="964.7,530.4 965.8,523.4 972.8,520.3 978.7,524.2 977.6,531.3 970.6,534.4" fill="none" stroke="#353d35" stroke-width="2.6"/><circle cx="965.8" cy="523.4" r="1.4" fill="#2a3aa0"/><circle cx="977.6" cy="531.3" r="1.4" fill="#2a3aa0"/><line x1="903.3" y1="557.3" x2="906.1" y2="556.1" stroke="#2a3a8a" stroke-width="2"/><line x1="981.4" y1="523.0" x2="978.7" y2="524.2" stroke="#2a3a8a" stroke-width="2"/><polygon points="778.9,583.9 780.1,576.8 787.4,573.6 793.5,577.5 792.2,584.6 784.9,587.8" fill="none" stroke="#353d35" stroke-width="2.6"/><line x1="793.5" y1="577.5" x2="799.2" y2="575.0" stroke="#353d35" stroke-width="2.6"/><circle cx="780.1" cy="576.8" r="1.4" fill="#2a3aa0"/><circle cx="792.2" cy="584.6" r="1.4" fill="#2a3aa0"/><polygon points="799.2,575.0 800.5,568.0 807.8,564.8 813.8,568.7 812.6,575.8 805.2,579.0" fill="none" stroke="#353d35" stroke-width="2.6"/><line x1="813.8" y1="568.7" x2="819.5" y2="566.2" stroke="#353d35" stroke-width="2.6"/><circle cx="800.5" cy="568.0" r="1.4" fill="#2a3aa0"/><circle cx="812.6" cy="575.8" r="1.4" fill="#2a3aa0"/><polygon points="819.5,566.2 820.8,559.1 828.1,555.9 834.2,559.9 832.9,567.0 825.6,570.1" fill="none" stroke="#353d35" stroke-width="2.6"/><line x1="834.2" y1="559.9" x2="839.8" y2="557.4" stroke="#353d35" stroke-width="2.6"/><circle cx="820.8" cy="559.1" r="1.4" fill="#2a3aa0"/><circle cx="832.9" cy="567.0" r="1.4" fill="#2a3aa0"/><polygon points="839.8,557.4 841.1,550.3 848.4,547.1 854.5,551.0 853.2,558.1 845.9,561.3" fill="none" stroke="#353d35" stroke-width="2.6"/><circle cx="841.1" cy="550.3" r="1.4" fill="#2a3aa0"/><circle cx="853.2" cy="558.1" r="1.4" fill="#2a3aa0"/><line x1="776.0" y1="585.1" x2="778.9" y2="583.9" stroke="#2a3a8a" stroke-width="2"/><line x1="857.3" y1="549.8" x2="854.5" y2="551.0" stroke="#2a3a8a" stroke-width="2"/><polygon points="791.7,609.5 793.0,602.5 800.3,599.3 806.3,603.2 805.1,610.3 797.7,613.5" fill="none" stroke="#353d35" stroke-width="2.6"/><line x1="806.3" y1="603.2" x2="812.0" y2="600.7" stroke="#353d35" stroke-width="2.6"/><circle cx="793.0" cy="602.5" r="1.4" fill="#2a3aa0"/><circle cx="805.1" cy="610.3" r="1.4" fill="#2a3aa0"/><polygon points="812.0,600.7 813.3,593.6 820.6,590.5 826.7,594.4 825.4,601.5 818.1,604.6" fill="none" stroke="#353d35" stroke-width="2.6"/><line x1="826.7" y1="594.4" x2="832.4" y2="591.9" stroke="#353d35" stroke-width="2.6"/><circle cx="813.3" cy="593.6" r="1.4" fill="#2a3aa0"/><circle cx="825.4" cy="601.5" r="1.4" fill="#2a3aa0"/><polygon points="832.4,591.9 833.6,584.8 840.9,581.6 847.0,585.5 845.7,592.6 838.4,595.8" fill="none" stroke="#353d35" stroke-width="2.6"/><line x1="847.0" y1="585.5" x2="852.7" y2="583.1" stroke="#353d35" stroke-width="2.6"/><circle cx="833.6" cy="584.8" r="1.4" fill="#2a3aa0"/><circle cx="845.7" cy="592.6" r="1.4" fill="#2a3aa0"/><polygon points="852.7,583.1 854.0,576.0 861.3,572.8 867.3,576.7 866.1,583.8 858.7,587.0" fill="none" stroke="#353d35" stroke-width="2.6"/><circle cx="854.0" cy="576.0" r="1.4" fill="#2a3aa0"/><circle cx="866.1" cy="583.8" r="1.4" fill="#2a3aa0"/><line x1="788.8" y1="610.8" x2="791.7" y2="609.5" stroke="#2a3a8a" stroke-width="2"/><line x1="870.2" y1="575.5" x2="867.3" y2="576.7" stroke="#2a3a8a" stroke-width="2"/><polygon points="901.4,567.9 908.6,569.5 912.0,577.5 908.1,583.8 900.9,582.1 897.6,574.2" fill="none" stroke="#353d35" stroke-width="2.6"/><line x1="908.1" y1="583.8" x2="910.7" y2="590.0" stroke="#353d35" stroke-width="2.6"/><circle cx="908.6" cy="569.5" r="1.4" fill="#2a3aa0"/><circle cx="900.9" cy="582.1" r="1.4" fill="#2a3aa0"/><polygon points="910.7,590.0 917.9,591.6 921.2,599.6 917.4,605.9 910.2,604.2 906.8,596.3" fill="none" stroke="#353d35" stroke-width="2.6"/><line x1="917.4" y1="605.9" x2="920.0" y2="612.1" stroke="#353d35" stroke-width="2.6"/><circle cx="917.9" cy="591.6" r="1.4" fill="#2a3aa0"/><circle cx="910.2" cy="604.2" r="1.4" fill="#2a3aa0"/><polygon points="920.0,612.1 927.2,613.8 930.5,621.7 926.6,628.0 919.4,626.4 916.1,618.4" fill="none" stroke="#353d35" stroke-width="2.6"/><circle cx="927.2" cy="613.8" r="1.4" fill="#2a3aa0"/><circle cx="919.4" cy="626.4" r="1.4" fill="#2a3aa0"/><line x1="900.1" y1="564.8" x2="901.4" y2="567.9" stroke="#2a3a8a" stroke-width="2"/><line x1="927.9" y1="631.1" x2="926.6" y2="628.0" stroke="#2a3a8a" stroke-width="2"/><g transform="translate(879.8 554.1) scale(1.35) translate(-879.8 -554.1)"><line x1="895.8" y1="559.9" x2="904.4" y2="554.9" stroke="#1a2a70" stroke-width="2"/><line x1="895.8" y1="559.9" x2="899.2" y2="569.3" stroke="#1a2a70" stroke-width="2"/><line x1="895.8" y1="559.9" x2="905.2" y2="563.3" stroke="#1a9a40" stroke-width="2"/><line x1="874.0" y1="570.1" x2="879.0" y2="578.7" stroke="#1a2a70" stroke-width="2"/><line x1="874.0" y1="570.1" x2="864.6" y2="573.5" stroke="#1a2a70" stroke-width="2"/><line x1="874.0" y1="570.1" x2="870.6" y2="579.5" stroke="#1a9a40" stroke-width="2"/><line x1="863.8" y1="548.3" x2="855.2" y2="553.3" stroke="#1a2a70" stroke-width="2"/><line x1="863.8" y1="548.3" x2="860.4" y2="538.9" stroke="#1a2a70" stroke-width="2"/><line x1="863.8" y1="548.3" x2="854.4" y2="544.9" stroke="#1a9a40" stroke-width="2"/><line x1="885.6" y1="538.1" x2="880.6" y2="529.5" stroke="#1a2a70" stroke-width="2"/><line x1="885.6" y1="538.1" x2="895.0" y2="534.7" stroke="#1a2a70" stroke-width="2"/><line x1="885.6" y1="538.1" x2="889.0" y2="528.7" stroke="#1a9a40" stroke-width="2"/><polygon points="893.9,559.2 874.7,568.2 865.7,549.0 884.9,540.0" fill="none" stroke="#f0b030" stroke-width="3"/><path d="M869.8,554.1 L889.8,554.1 M879.8,544.1 L879.8,564.1" stroke="#f0b030" stroke-width="2.2" transform="rotate(-25 879.8 554.1)"/><circle cx="893.4" cy="547.8" r="2.3" fill="#f4a820"/><circle cx="890.1" cy="557.9" r="2.3" fill="#f4a820"/><circle cx="886.1" cy="567.7" r="2.3" fill="#f4a820"/><circle cx="876.0" cy="564.4" r="2.3" fill="#f4a820"/><circle cx="866.2" cy="560.4" r="2.3" fill="#f4a820"/><circle cx="869.5" cy="550.3" r="2.3" fill="#f4a820"/><circle cx="873.5" cy="540.5" r="2.3" fill="#f4a820"/><circle cx="883.6" cy="543.8" r="2.3" fill="#f4a820"/><circle cx="879.8" cy="554.1" r="3.5" fill="#e04aa8"/><circle cx="895.8" cy="559.9" r="3" fill="#3a7ad0"/><circle cx="874.0" cy="570.1" r="3" fill="#3a7ad0"/><circle cx="863.8" cy="548.3" r="3" fill="#3a7ad0"/><circle cx="885.6" cy="538.1" r="3" fill="#3a7ad0"/></g><g transform="translate(837.0 442.8) scale(1.35) translate(-837.0 -442.8)"><line x1="853.0" y1="448.6" x2="861.6" y2="443.6" stroke="#1a2a70" stroke-width="2"/><line x1="853.0" y1="448.6" x2="856.4" y2="458.0" stroke="#1a2a70" stroke-width="2"/><line x1="853.0" y1="448.6" x2="862.4" y2="452.0" stroke="#1a9a40" stroke-width="2"/><line x1="831.2" y1="458.8" x2="836.2" y2="467.4" stroke="#1a2a70" stroke-width="2"/><line x1="831.2" y1="458.8" x2="821.8" y2="462.2" stroke="#1a2a70" stroke-width="2"/><line x1="831.2" y1="458.8" x2="827.8" y2="468.2" stroke="#1a9a40" stroke-width="2"/><line x1="821.0" y1="437.0" x2="812.4" y2="442.0" stroke="#1a2a70" stroke-width="2"/><line x1="821.0" y1="437.0" x2="817.6" y2="427.6" stroke="#1a2a70" stroke-width="2"/><line x1="821.0" y1="437.0" x2="811.6" y2="433.6" stroke="#1a9a40" stroke-width="2"/><line x1="842.8" y1="426.8" x2="837.8" y2="418.2" stroke="#1a2a70" stroke-width="2"/><line x1="842.8" y1="426.8" x2="852.2" y2="423.4" stroke="#1a2a70" stroke-width="2"/><line x1="842.8" y1="426.8" x2="846.2" y2="417.4" stroke="#1a9a40" stroke-width="2"/><polygon points="851.1,447.9 831.9,456.9 822.9,437.7 842.1,428.7" fill="none" stroke="#f0b030" stroke-width="3"/><path d="M827,442.8 L847,442.8 M837,432.8 L837,452.8" stroke="#f0b030" stroke-width="2.2" transform="rotate(-25 837 442.8)"/><circle cx="850.6" cy="436.5" r="2.3" fill="#f4a820"/><circle cx="847.3" cy="446.6" r="2.3" fill="#f4a820"/><circle cx="843.3" cy="456.4" r="2.3" fill="#f4a820"/><circle cx="833.2" cy="453.1" r="2.3" fill="#f4a820"/><circle cx="823.4" cy="449.1" r="2.3" fill="#f4a820"/><circle cx="826.7" cy="439.0" r="2.3" fill="#f4a820"/><circle cx="830.7" cy="429.2" r="2.3" fill="#f4a820"/><circle cx="840.8" cy="432.5" r="2.3" fill="#f4a820"/><circle cx="837" cy="442.8" r="3.5" fill="#e04aa8"/><circle cx="853.0" cy="448.6" r="3" fill="#3a7ad0"/><circle cx="831.2" cy="458.8" r="3" fill="#3a7ad0"/><circle cx="821.0" cy="437.0" r="3" fill="#3a7ad0"/><circle cx="842.8" cy="426.8" r="3" fill="#3a7ad0"/></g><g transform="translate(990.0 501.6) scale(1.35) translate(-990.0 -501.6)"><line x1="1006.0" y1="507.4" x2="1014.6" y2="502.4" stroke="#1a2a70" stroke-width="2"/><line x1="1006.0" y1="507.4" x2="1009.4" y2="516.8" stroke="#1a2a70" stroke-width="2"/><line x1="1006.0" y1="507.4" x2="1015.4" y2="510.8" stroke="#1a9a40" stroke-width="2"/><line x1="984.2" y1="517.6" x2="989.2" y2="526.2" stroke="#1a2a70" stroke-width="2"/><line x1="984.2" y1="517.6" x2="974.8" y2="521.0" stroke="#1a2a70" stroke-width="2"/><line x1="984.2" y1="517.6" x2="980.8" y2="527.0" stroke="#1a9a40" stroke-width="2"/><line x1="974.0" y1="495.8" x2="965.4" y2="500.8" stroke="#1a2a70" stroke-width="2"/><line x1="974.0" y1="495.8" x2="970.6" y2="486.4" stroke="#1a2a70" stroke-width="2"/><line x1="974.0" y1="495.8" x2="964.6" y2="492.4" stroke="#1a9a40" stroke-width="2"/><line x1="995.8" y1="485.6" x2="990.8" y2="477.0" stroke="#1a2a70" stroke-width="2"/><line x1="995.8" y1="485.6" x2="1005.2" y2="482.2" stroke="#1a2a70" stroke-width="2"/><line x1="995.8" y1="485.6" x2="999.2" y2="476.2" stroke="#1a9a40" stroke-width="2"/><polygon points="1004.1,506.7 984.9,515.7 975.9,496.5 995.1,487.5" fill="none" stroke="#f0b030" stroke-width="3"/><path d="M980,501.6 L1000,501.6 M990,491.6 L990,511.6" stroke="#f0b030" stroke-width="2.2" transform="rotate(-25 990 501.6)"/><circle cx="1003.6" cy="495.3" r="2.3" fill="#f4a820"/><circle cx="1000.3" cy="505.4" r="2.3" fill="#f4a820"/><circle cx="996.3" cy="515.2" r="2.3" fill="#f4a820"/><circle cx="986.2" cy="511.9" r="2.3" fill="#f4a820"/><circle cx="976.4" cy="507.9" r="2.3" fill="#f4a820"/><circle cx="979.7" cy="497.8" r="2.3" fill="#f4a820"/><circle cx="983.7" cy="488.0" r="2.3" fill="#f4a820"/><circle cx="993.8" cy="491.3" r="2.3" fill="#f4a820"/><circle cx="990" cy="501.6" r="3.5" fill="#e04aa8"/><circle cx="1006.0" cy="507.4" r="3" fill="#3a7ad0"/><circle cx="984.2" cy="517.6" r="3" fill="#3a7ad0"/><circle cx="974.0" cy="495.8" r="3" fill="#3a7ad0"/><circle cx="995.8" cy="485.6" r="3" fill="#3a7ad0"/></g><g transform="translate(767.4 606.5) scale(1.35) translate(-767.4 -606.5)"><line x1="783.4" y1="612.3" x2="792.0" y2="607.3" stroke="#1a2a70" stroke-width="2"/><line x1="783.4" y1="612.3" x2="786.8" y2="621.7" stroke="#1a2a70" stroke-width="2"/><line x1="783.4" y1="612.3" x2="792.8" y2="615.7" stroke="#1a9a40" stroke-width="2"/><line x1="761.6" y1="622.5" x2="766.6" y2="631.1" stroke="#1a2a70" stroke-width="2"/><line x1="761.6" y1="622.5" x2="752.2" y2="625.9" stroke="#1a2a70" stroke-width="2"/><line x1="761.6" y1="622.5" x2="758.2" y2="631.9" stroke="#1a9a40" stroke-width="2"/><line x1="751.4" y1="600.7" x2="742.8" y2="605.7" stroke="#1a2a70" stroke-width="2"/><line x1="751.4" y1="600.7" x2="748.0" y2="591.3" stroke="#1a2a70" stroke-width="2"/><line x1="751.4" y1="600.7" x2="742.0" y2="597.3" stroke="#1a9a40" stroke-width="2"/><line x1="773.2" y1="590.5" x2="768.2" y2="581.9" stroke="#1a2a70" stroke-width="2"/><line x1="773.2" y1="590.5" x2="782.6" y2="587.1" stroke="#1a2a70" stroke-width="2"/><line x1="773.2" y1="590.5" x2="776.6" y2="581.1" stroke="#1a9a40" stroke-width="2"/><polygon points="781.5,611.6 762.3,620.6 753.3,601.4 772.5,592.4" fill="none" stroke="#f0b030" stroke-width="3"/><path d="M757.4,606.5 L777.4,606.5 M767.4,596.5 L767.4,616.5" stroke="#f0b030" stroke-width="2.2" transform="rotate(-25 767.4 606.5)"/><circle cx="781.0" cy="600.2" r="2.3" fill="#f4a820"/><circle cx="777.7" cy="610.3" r="2.3" fill="#f4a820"/><circle cx="773.7" cy="620.1" r="2.3" fill="#f4a820"/><circle cx="763.6" cy="616.8" r="2.3" fill="#f4a820"/><circle cx="753.8" cy="612.8" r="2.3" fill="#f4a820"/><circle cx="757.1" cy="602.7" r="2.3" fill="#f4a820"/><circle cx="761.1" cy="592.9" r="2.3" fill="#f4a820"/><circle cx="771.2" cy="596.2" r="2.3" fill="#f4a820"/><circle cx="767.4" cy="606.5" r="3.5" fill="#e04aa8"/><circle cx="783.4" cy="612.3" r="3" fill="#3a7ad0"/><circle cx="761.6" cy="622.5" r="3" fill="#3a7ad0"/><circle cx="751.4" cy="600.7" r="3" fill="#3a7ad0"/><circle cx="773.2" cy="590.5" r="3" fill="#3a7ad0"/></g><g transform="translate(920.5 665.4) scale(1.35) translate(-920.5 -665.4)"><line x1="936.5" y1="671.2" x2="945.1" y2="666.2" stroke="#1a2a70" stroke-width="2"/><line x1="936.5" y1="671.2" x2="939.9" y2="680.6" stroke="#1a2a70" stroke-width="2"/><line x1="936.5" y1="671.2" x2="945.9" y2="674.6" stroke="#1a9a40" stroke-width="2"/><line x1="914.7" y1="681.4" x2="919.7" y2="690.0" stroke="#1a2a70" stroke-width="2"/><line x1="914.7" y1="681.4" x2="905.3" y2="684.8" stroke="#1a2a70" stroke-width="2"/><line x1="914.7" y1="681.4" x2="911.3" y2="690.8" stroke="#1a9a40" stroke-width="2"/><line x1="904.5" y1="659.6" x2="895.9" y2="664.6" stroke="#1a2a70" stroke-width="2"/><line x1="904.5" y1="659.6" x2="901.1" y2="650.2" stroke="#1a2a70" stroke-width="2"/><line x1="904.5" y1="659.6" x2="895.1" y2="656.2" stroke="#1a9a40" stroke-width="2"/><line x1="926.3" y1="649.4" x2="921.3" y2="640.8" stroke="#1a2a70" stroke-width="2"/><line x1="926.3" y1="649.4" x2="935.7" y2="646.0" stroke="#1a2a70" stroke-width="2"/><line x1="926.3" y1="649.4" x2="929.7" y2="640.0" stroke="#1a9a40" stroke-width="2"/><polygon points="934.6,670.5 915.4,679.5 906.4,660.3 925.6,651.3" fill="none" stroke="#f0b030" stroke-width="3"/><path d="M910.5,665.4 L930.5,665.4 M920.5,655.4 L920.5,675.4" stroke="#f0b030" stroke-width="2.2" transform="rotate(-25 920.5 665.4)"/><circle cx="934.1" cy="659.1" r="2.3" fill="#f4a820"/><circle cx="930.8" cy="669.2" r="2.3" fill="#f4a820"/><circle cx="926.8" cy="679.0" r="2.3" fill="#f4a820"/><circle cx="916.7" cy="675.7" r="2.3" fill="#f4a820"/><circle cx="906.9" cy="671.7" r="2.3" fill="#f4a820"/><circle cx="910.2" cy="661.6" r="2.3" fill="#f4a820"/><circle cx="914.2" cy="651.8" r="2.3" fill="#f4a820"/><circle cx="924.3" cy="655.1" r="2.3" fill="#f4a820"/><circle cx="920.5" cy="665.4" r="3.5" fill="#e04aa8"/><circle cx="936.5" cy="671.2" r="3" fill="#3a7ad0"/><circle cx="914.7" cy="681.4" r="3" fill="#3a7ad0"/><circle cx="904.5" cy="659.6" r="3" fill="#3a7ad0"/><circle cx="926.3" cy="649.4" r="3" fill="#3a7ad0"/></g></g>
<text transform="translate(1306.8 547.4) scale(1 1.085)" x="0" y="0" font-family="Liberation Sans" font-weight="bold" font-size="56.2" fill="#00b0f0" text-anchor="middle">MOF</text>
<text transform="translate(1309 914.3) scale(1 1.07)" x="0" y="0" font-family="Liberation Sans" font-weight="bold" font-size="56.9" fill="#00b0f0" text-anchor="middle">Tetrazine</text>
<path d="M1028.4,642.3 1030.3,643.2 1031.9,644.2 1033.3,645.4 1034.5,646.9 1035.4,648.5 1036.1,650.3 1036.5,652.4 1036.7,654.5 1036.6,656.8 1036.4,659.2 1035.8,661.8 1035.1,664.5 1034.2,667.1 1033.2,669.5 1032.2,671.6 1031.1,673.5 1029.9,675.1 1028.6,676.4 1027.2,677.6 1025.7,678.5 1024.1,679.2 1022.4,679.7 1020.5,680.0 1018.6,680.1 1019.1,673.0 1020.4,673.0 1021.5,672.8 1022.6,672.4 1023.6,672.0 1024.6,671.3 1025.4,670.6 1026.2,669.7 1027.0,668.6 1027.7,667.4 1028.4,666.0 1029.0,664.5 1029.6,662.8 1030.1,661.0 1030.5,659.3 1030.7,657.8 1030.8,656.4 1030.7,655.2 1030.5,654.0 1030.2,653.0 1029.7,652.2 1029.1,651.4 1028.3,650.7 1027.4,650.2 1026.4,649.7 1025.6,649.5 1024.7,649.4 1023.9,649.4 1023.1,649.5 1022.4,649.8 1021.6,650.2 1020.9,650.7 1020.1,651.3 1019.4,652.1 1018.6,653.0 1017.8,654.1 1017.0,655.3 1013.9,660.3 1012.8,662.2 1011.7,664.0 1010.6,665.5 1009.7,666.8 1008.8,667.9 1008.0,668.8 1007.2,669.6 1006.4,670.2 1005.5,670.9 1004.7,671.4 1003.8,671.8 1002.9,672.2 1002.0,672.5 1001.1,672.7 1000.1,672.7 999.1,672.7 998.1,672.6 997.0,672.3 995.1,671.7 993.5,670.8 992.0,669.7 990.8,668.4 989.9,666.9 989.2,665.1 988.7,663.1 988.5,661.0 988.5,658.6 988.8,656.1 989.3,653.3 990.1,650.4 991.0,647.8 992.0,645.5 993.1,643.4 994.2,641.5 995.5,639.9 996.8,638.5 998.2,637.4 999.8,636.5 1001.4,635.9 1003.1,635.5 1005.0,635.4 1006.9,635.5 1005.2,642.8 1004.2,642.8 1003.2,642.9 1002.3,643.1 1001.4,643.6 1000.5,644.1 999.6,644.8 998.8,645.7 998.1,646.7 997.4,647.8 996.7,649.1 996.1,650.5 995.6,652.1 995.1,653.8 994.7,655.4 994.5,656.9 994.4,658.2 994.5,659.5 994.7,660.5 995.0,661.5 995.4,662.3 996.0,663.0 996.7,663.6 997.5,664.1 998.4,664.4 999.1,664.6 999.6,664.6 1000.2,664.6 1000.8,664.6 1001.3,664.4 1001.8,664.2 1002.3,664.0 1002.8,663.7 1003.3,663.3 1003.8,662.8 1004.3,662.3 1004.8,661.8 1005.3,661.0 1006.0,660.1 1006.8,658.9 1007.6,657.5 1008.6,655.8 1009.8,653.9 1010.9,652.1 1011.9,650.5 1012.9,649.1 1013.8,647.9 1014.6,646.9 1015.3,646.0 1016.0,645.3 1016.7,644.6 1017.4,644.1 1018.1,643.5 1018.8,643.1 1019.5,642.7 1020.1,642.4 1020.8,642.2 1021.5,641.9 1022.2,641.8 1023.0,641.6 1023.7,641.6 1024.4,641.6 1025.2,641.6 1026.0,641.7 1026.8,641.8 1027.6,642.1 1028.4,642.3ZM1025.8,624.8 1028.2,625.7 1030.5,626.3 1032.6,626.6 1034.6,626.7 1036.5,626.6 1038.3,626.2 1040.0,625.6 1041.5,624.7 1042.8,623.6 1044.0,622.3 1045.1,620.7 1046.0,618.9 1046.6,617.4 1047.1,616.0 1047.4,614.6 1047.5,613.2 1047.6,611.9 1047.5,610.7 1047.2,609.6 1046.9,608.5 1046.5,607.5 1046.0,606.5 1045.4,605.7 1044.7,604.9 1049.3,599.5 1051.6,602.4 1053.0,605.6 1053.7,609.1 1053.6,612.9 1052.8,616.9 1051.2,621.2 1049.8,624.1 1048.1,626.7 1046.3,628.9 1044.3,630.7 1042.1,632.2 1039.7,633.3 1037.1,634.1 1034.2,634.4 1031.2,634.4 1028.0,634.0 1024.6,633.2 1021.0,632.0 1017.7,630.6 1014.7,629.0 1012.2,627.1 1010.0,625.1 1008.3,622.9 1006.9,620.4 1006.0,617.8 1005.5,615.1 1005.4,612.2 1005.7,609.1 1006.5,606.0 1007.8,602.7 1011.1,596.7 1015.3,592.4 1020.2,589.9 1025.8,589.2 1032.0,590.2 1038.9,592.9 1039.8,593.4ZM1031.0,598.4 1028.8,597.7 1026.7,597.2 1024.8,597.0 1023.0,597.0 1021.3,597.2 1019.8,597.6 1018.3,598.3 1017.0,599.2 1015.8,600.3 1014.7,601.6 1013.7,603.2 1012.8,605.0 1012.2,606.9 1011.7,608.6 1011.5,610.4 1011.6,612.1 1011.9,613.7 1012.5,615.3 1013.3,616.8 1014.3,618.2 1015.5,619.4 1017.0,620.6 1018.6,621.7 1020.5,622.6ZM1077.5,568.5 1052.8,553.6 1051.5,552.8 1050.4,552.2 1049.3,551.7 1048.2,551.3 1047.2,551.0 1046.3,550.8 1045.5,550.7 1044.6,550.7 1043.8,550.8 1043.1,550.9 1042.4,551.2 1041.7,551.6 1041.0,552.1 1040.3,552.7 1039.6,553.4 1038.9,554.3 1038.2,555.3 1037.5,556.4 1036.7,558.2 1036.1,559.9 1035.7,561.6 1035.6,563.3 1035.7,564.9 1036.2,566.5 1036.8,568.1 1037.7,569.6 1038.8,571.0 1040.2,572.2 1041.8,573.4 1043.6,574.5 1066.9,587.1 1063.3,593.9 1031.5,577.4 1029.3,576.2 1027.4,575.3 1025.7,574.5 1024.4,573.9 1023.4,573.4 1022.7,573.1 1026.4,566.1 1026.5,566.1 1026.6,566.2 1026.8,566.2 1027.0,566.3 1027.2,566.4 1027.5,566.5 1027.8,566.7 1028.1,566.8 1028.4,567.0 1028.7,567.1 1029.1,567.3 1029.4,567.4 1029.8,567.6 1030.3,567.9 1031.0,568.2 1031.7,568.6 1032.5,569.0 1033.5,569.4 1033.5,569.3 1032.7,567.8 1032.0,566.2 1031.5,564.7 1031.1,563.2 1030.9,561.7 1030.9,560.3 1031.0,558.8 1031.3,557.3 1031.7,555.8 1032.3,554.3 1033.0,552.7 1033.9,551.0 1035.4,548.8 1036.9,546.9 1038.4,545.3 1040.0,544.0 1041.7,543.1 1043.4,542.5 1045.2,542.2 1047.1,542.3 1049.1,542.7 1051.3,543.4 1053.5,544.4 1055.9,545.8 1081.5,562.0ZM1098.2,516.6 1099.8,518.0 1101.0,519.5 1101.9,521.1 1102.6,522.9 1102.9,524.7 1103.0,526.7 1102.8,528.7 1102.3,530.8 1101.5,533.0 1100.4,535.2 1099.1,537.5 1097.5,539.8 1095.9,542.0 1094.2,543.9 1092.6,545.6 1090.9,547.0 1089.3,548.2 1087.7,549.1 1086.0,549.7 1084.3,550.1 1082.5,550.3 1080.7,550.2 1078.9,549.9 1077.0,549.3 1079.7,542.8 1080.9,543.2 1082.1,543.4 1083.2,543.4 1084.3,543.2 1085.4,542.9 1086.5,542.5 1087.6,541.9 1088.6,541.1 1089.7,540.2 1090.7,539.1 1091.8,537.8 1092.9,536.4 1093.9,534.9 1094.8,533.4 1095.5,532.1 1096.1,530.8 1096.4,529.6 1096.6,528.4 1096.6,527.4 1096.4,526.4 1096.1,525.5 1095.5,524.6 1094.9,523.8 1094.0,523.0 1093.3,522.5 1092.5,522.2 1091.8,521.9 1091.0,521.8 1090.2,521.8 1089.4,521.9 1088.5,522.2 1087.6,522.5 1086.6,523.0 1085.6,523.7 1084.5,524.4 1083.4,525.3 1078.8,529.1 1077.1,530.6 1075.5,531.9 1074.1,533.0 1072.8,533.9 1071.6,534.7 1070.5,535.3 1069.5,535.8 1068.5,536.1 1067.5,536.5 1066.6,536.7 1065.6,536.8 1064.7,536.9 1063.7,536.9 1062.8,536.8 1061.8,536.5 1060.9,536.2 1059.9,535.7 1059.0,535.2 1057.4,534.0 1056.1,532.6 1055.1,531.1 1054.4,529.5 1053.9,527.7 1053.8,525.8 1054.0,523.8 1054.5,521.7 1055.2,519.4 1056.3,517.1 1057.7,514.7 1059.4,512.2 1061.1,510.0 1062.7,508.1 1064.4,506.5 1066.1,505.1 1067.8,503.9 1069.5,503.0 1071.2,502.4 1072.9,502.0 1074.7,502.0 1076.5,502.2 1078.2,502.6 1080.0,503.4 1076.1,509.8 1075.2,509.4 1074.2,509.2 1073.2,509.1 1072.2,509.2 1071.2,509.5 1070.2,509.9 1069.1,510.5 1068.1,511.2 1067.1,512.0 1066.1,513.0 1065.1,514.2 1064.1,515.5 1063.0,517.0 1062.2,518.4 1061.5,519.7 1061.0,521.0 1060.7,522.1 1060.5,523.2 1060.5,524.2 1060.6,525.1 1061.0,526.0 1061.4,526.8 1062.1,527.5 1062.8,528.1 1063.4,528.4 1063.9,528.7 1064.5,528.9 1065.0,529.0 1065.6,529.0 1066.1,529.0 1066.7,528.9 1067.2,528.8 1067.8,528.6 1068.4,528.3 1069.1,528.0 1069.7,527.6 1070.5,527.1 1071.4,526.4 1072.5,525.5 1073.8,524.4 1075.2,523.2 1076.9,521.7 1078.5,520.4 1080.0,519.2 1081.4,518.2 1082.6,517.3 1083.7,516.6 1084.7,516.0 1085.6,515.5 1086.5,515.1 1087.3,514.8 1088.1,514.5 1088.9,514.3 1089.7,514.2 1090.4,514.1 1091.1,514.1 1091.9,514.1 1092.6,514.2 1093.3,514.3 1094.0,514.4 1094.7,514.7 1095.5,514.9 1096.2,515.3 1096.9,515.7 1097.5,516.1 1098.2,516.6ZM1071.1,482.3 1065.5,477.7 1071.1,471.0 1076.7,475.7ZM1113.7,517.5 1078.6,488.5 1084.0,482.0 1118.7,511.6ZM1146.7,481.7 1126.6,461.0 1125.5,460.0 1124.5,459.1 1123.6,458.3 1122.7,457.6 1121.8,457.1 1121.0,456.7 1120.2,456.4 1119.4,456.1 1118.6,456.0 1117.8,456.0 1117.1,456.1 1116.3,456.3 1115.5,456.6 1114.7,457.0 1113.8,457.6 1113.0,458.2 1112.0,459.0 1111.1,459.9 1109.8,461.4 1108.8,462.9 1108.0,464.5 1107.5,466.1 1107.2,467.7 1107.2,469.4 1107.4,471.0 1107.9,472.7 1108.7,474.3 1109.7,475.9 1110.9,477.5 1112.4,479.0 1131.7,497.0 1126.5,502.6 1099.9,478.6 1098.1,477.0 1096.5,475.6 1095.1,474.4 1094.0,473.5 1093.1,472.8 1092.5,472.3 1097.9,466.5 1098.0,466.5 1098.1,466.6 1098.2,466.7 1098.4,466.8 1098.6,467.0 1098.8,467.2 1099.0,467.4 1099.3,467.6 1099.6,467.8 1099.8,468.0 1100.1,468.3 1100.4,468.5 1100.8,468.8 1101.2,469.2 1101.7,469.7 1102.4,470.2 1103.1,470.8 1103.8,471.5 1103.9,471.4 1103.5,469.7 1103.3,468.0 1103.1,466.4 1103.2,464.8 1103.4,463.4 1103.7,462.0 1104.2,460.6 1104.8,459.2 1105.6,457.9 1106.6,456.5 1107.7,455.1 1108.9,453.8 1110.9,452.0 1112.8,450.5 1114.8,449.4 1116.6,448.6 1118.5,448.1 1120.3,447.9 1122.1,448.1 1123.9,448.7 1125.8,449.6 1127.6,450.8 1129.6,452.4 1131.5,454.3 1152.2,476.4ZM1185.3,471.2 1183.5,472.6 1181.7,473.8 1179.9,474.8 1178.1,475.6 1176.4,476.1 1174.6,476.4 1172.9,476.5 1171.3,476.4 1169.6,476.1 1168.0,475.5 1166.5,474.8 1164.9,473.9 1169.9,468.0 1170.8,468.6 1171.7,469.1 1172.7,469.4 1173.6,469.6 1174.6,469.6 1175.6,469.6 1176.6,469.4 1177.7,469.1 1178.7,468.7 1179.7,468.1 1180.8,467.4 1181.9,466.6 1184.3,464.2 1185.7,461.6 1186.3,458.8 1186.0,455.8 1184.7,452.6 1182.4,449.2 1177.9,443.4 1177.9,443.5 1178.1,445.1 1178.2,446.6 1178.2,448.1 1178.0,449.6 1177.7,451.0 1177.2,452.4 1176.6,453.7 1175.9,455.0 1175.0,456.3 1174.1,457.4 1173.0,458.6 1171.7,459.7 1169.6,461.3 1167.4,462.5 1165.2,463.4 1163.0,463.8 1160.8,463.9 1158.6,463.6 1156.4,462.9 1154.0,461.8 1151.6,460.3 1149.1,458.3 1146.6,456.0 1144.0,453.3 1141.5,450.3 1139.4,447.4 1137.8,444.7 1136.6,442.0 1135.9,439.4 1135.5,436.9 1135.7,434.4 1136.2,432.1 1137.2,429.8 1138.6,427.5 1140.4,425.3 1142.7,423.2 1144.1,422.2 1145.5,421.2 1146.9,420.5 1148.4,419.9 1149.9,419.4 1151.3,419.1 1152.8,418.9 1154.3,418.9 1155.7,419.0 1157.2,419.3 1158.6,419.7 1160.0,420.3 1160.1,420.2 1159.8,419.8 1159.4,419.4 1159.0,418.8 1158.6,418.2 1158.1,417.5 1157.5,416.6 1157.0,415.8 1156.6,415.2 1156.2,414.6 1156.0,414.2 1155.8,413.9 1155.7,413.7 1162.1,408.9 1162.6,409.6 1163.2,410.6 1164.1,411.8 1165.1,413.2 1166.2,414.8 1167.6,416.6 1188.4,444.5 1191.5,449.5 1193.1,454.3 1193.3,458.8 1192.1,463.1 1189.4,467.3 1185.3,471.2ZM1169.2,432.1 1168.0,430.7 1166.9,429.4 1165.7,428.3 1164.5,427.2 1163.3,426.3 1162.0,425.6 1160.8,424.9 1159.5,424.4 1158.3,424.0 1157.0,423.7 1155.8,423.6 1154.5,423.6 1153.3,423.8 1152.2,424.0 1151.0,424.4 1149.9,424.9 1148.9,425.5 1147.9,426.3 1146.4,427.7 1145.2,429.1 1144.3,430.6 1143.7,432.2 1143.4,433.8 1143.4,435.5 1143.8,437.2 1144.4,439.1 1145.4,441.1 1146.6,443.2 1148.2,445.4 1150.1,447.7 1152.1,449.9 1154.1,451.8 1155.9,453.3 1157.6,454.6 1159.3,455.6 1160.9,456.2 1162.4,456.5 1163.9,456.6 1165.5,456.3 1167.0,455.7 1168.6,454.9 1170.2,453.7 1171.1,452.9 1171.9,452.0 1172.5,451.1 1173.1,450.1 1173.6,449.1 1173.9,448.0 1174.2,446.8 1174.3,445.6 1174.3,444.4 1174.2,443.1 1174.0,441.8 1173.7,440.5 1173.2,439.1 1172.6,437.7 1172.0,436.4 1171.2,435.0 1170.2,433.5 1169.2,432.1Z" fill="#000" filter="url(#tsh)"/><path d="M1339.7,435.2 1337.6,434.8 1335.6,434.3 1333.9,433.6 1332.4,432.7 1331.1,431.7 1330.0,430.4 1329.1,429.0 1328.4,427.5 1327.8,425.9 1327.5,424.1 1327.4,422.2 1327.5,420.2 1327.8,417.9 1328.4,415.8 1329.2,414.0 1330.3,412.4 1331.7,411.0 1333.3,409.7 1335.3,408.8 1337.5,408.0 1340.1,407.6 1343.0,407.4 1346.2,407.4 1349.7,407.8 1360.6,409.5 1361.1,407.0 1361.3,405.2 1361.4,403.6 1361.3,402.2 1361.0,400.9 1360.6,399.7 1360.0,398.7 1359.2,397.8 1358.2,397.0 1357.0,396.3 1355.6,395.7 1354.0,395.3 1352.2,394.9 1350.4,394.7 1348.8,394.6 1347.3,394.6 1346.0,394.8 1344.8,395.1 1343.8,395.5 1342.9,396.0 1342.2,396.6 1341.5,397.4 1340.9,398.4 1340.4,399.4 1340.1,400.6 1331.5,398.9 1333.0,395.3 1335.4,392.4 1338.6,390.4 1342.7,389.1 1347.6,388.7 1353.3,389.2 1356.4,389.8 1359.1,390.6 1361.6,391.6 1363.7,392.8 1365.5,394.2 1367.0,395.7 1368.2,397.4 1369.0,399.2 1369.6,401.2 1369.8,403.3 1369.7,405.5 1369.4,407.9 1365.2,427.1 1365.0,428.2 1364.8,429.2 1364.8,430.1 1364.8,430.9 1364.8,431.7 1365.0,432.3 1365.2,432.9 1365.5,433.4 1365.9,433.8 1366.5,434.2 1367.1,434.5 1367.9,434.7 1368.2,434.8 1368.6,434.9 1369.0,434.9 1369.5,435.0 1369.9,435.0 1370.4,435.0 1369.3,439.6 1368.3,439.6 1367.3,439.5 1366.4,439.5 1365.4,439.3 1364.5,439.2 1363.5,439.0 1362.2,438.6 1361.1,438.2 1360.1,437.7 1359.3,437.1 1358.6,436.4 1358.1,435.6 1357.6,434.7 1357.3,433.6 1357.2,432.5 1357.1,431.2 1357.1,429.8 1357.3,428.3 1357.0,428.3 1355.7,429.7 1354.4,431.0 1353.1,432.1 1351.8,433.1 1350.4,433.8 1349.1,434.4 1347.7,434.9 1346.2,435.2 1344.7,435.4 1343.1,435.4 1341.4,435.4 1339.7,435.2ZM1342.1,429.8 1343.5,429.9 1344.8,430.0 1346.1,429.9 1347.3,429.7 1348.6,429.4 1349.7,429.0 1350.9,428.5 1352.0,427.9 1353.0,427.3 1354.0,426.5 1354.9,425.7 1355.7,424.8 1356.5,423.8 1357.2,422.8 1357.8,421.7 1358.3,420.6 1358.6,419.5 1358.9,418.4 1359.6,414.7 1350.9,413.3 1349.1,413.1 1347.5,413.0 1346.0,412.9 1344.6,412.9 1343.4,413.0 1342.3,413.2 1341.4,413.4 1340.5,413.8 1339.6,414.1 1338.9,414.6 1338.2,415.1 1337.5,415.7 1337.0,416.4 1336.5,417.2 1336.1,418.0 1335.8,419.0 1335.6,420.0 1335.4,421.1 1335.3,422.3 1335.4,423.4 1335.5,424.4 1335.8,425.4 1336.2,426.2 1336.7,427.0 1337.4,427.7 1338.1,428.3 1339.0,428.8 1339.9,429.3 1341.0,429.6 1342.1,429.8ZM1404.2,442.8 1403.0,443.8 1401.8,444.7 1400.6,445.5 1399.3,446.1 1398.1,446.5 1396.8,446.8 1395.5,447.0 1394.1,447.0 1392.7,447.0 1391.3,446.8 1389.8,446.4 1388.2,446.0 1385.7,445.0 1383.5,443.9 1381.6,442.5 1380.0,440.9 1378.7,439.0 1377.8,436.9 1377.1,434.5 1376.8,431.9 1376.7,429.0 1376.9,425.8 1377.4,422.4 1378.2,418.7 1380.5,411.8 1383.5,406.3 1387.1,402.5 1391.6,400.2 1396.7,399.6 1402.4,400.7 1404.2,401.3 1405.9,402.0 1407.4,402.8 1408.8,403.7 1410.0,404.6 1411.1,405.6 1412.1,406.7 1412.9,407.8 1413.6,409.1 1414.2,410.4 1414.6,411.9 1415.0,413.4 1415.0,413.4 1416.7,408.6 1423.3,390.7 1431.7,394.0 1412.0,443.6 1411.2,445.7 1410.5,447.5 1409.9,449.1 1409.4,450.5 1409.0,451.6 1408.8,452.4 1402.2,449.9 1402.2,449.6 1402.3,449.2 1402.4,448.8 1402.6,448.2 1402.8,447.6 1403.0,446.8 1403.2,446.1 1403.5,445.4 1403.7,444.7 1403.9,444.0 1404.1,443.4 1404.3,442.8ZM1386.4,420.7 1385.6,423.6 1385.1,426.3 1384.8,428.8 1384.7,431.0 1384.8,432.9 1385.1,434.6 1385.7,436.1 1386.4,437.4 1387.4,438.5 1388.7,439.5 1390.1,440.3 1391.8,441.0 1393.8,441.5 1395.7,441.7 1397.4,441.7 1399.1,441.3 1400.7,440.7 1402.1,439.7 1403.5,438.5 1404.9,437.0 1406.2,435.1 1407.4,432.9 1408.6,430.5 1409.7,427.7 1410.6,424.9 1411.3,422.4 1411.7,420.0 1411.8,417.8 1411.7,415.9 1411.3,414.1 1410.6,412.5 1409.6,411.0 1408.4,409.7 1406.8,408.5 1405.0,407.6 1402.9,406.8 1400.9,406.3 1399.1,406.0 1397.3,406.1 1395.7,406.5 1394.2,407.2 1392.9,408.1 1391.6,409.4 1390.4,411.0 1389.3,412.9 1388.3,415.2 1387.3,417.7 1386.4,420.7ZM1455.3,461.1 1454.1,462.9 1452.8,464.3 1451.3,465.5 1449.7,466.4 1448.0,467.0 1446.1,467.3 1444.0,467.4 1441.9,467.3 1439.7,466.9 1437.5,466.2 1435.1,465.3 1432.6,464.1 1430.2,462.8 1428.1,461.5 1426.3,460.2 1424.7,458.8 1423.3,457.4 1422.2,456.0 1421.3,454.5 1420.6,452.9 1420.2,451.2 1420.0,449.4 1420.0,447.5 1420.2,445.5 1427.0,447.1 1426.9,448.3 1426.9,449.5 1427.0,450.6 1427.4,451.7 1427.8,452.7 1428.4,453.7 1429.2,454.6 1430.1,455.5 1431.1,456.4 1432.3,457.3 1433.7,458.1 1435.2,458.9 1436.9,459.7 1438.4,460.4 1439.8,460.8 1441.2,461.1 1442.4,461.3 1443.5,461.3 1444.5,461.1 1445.5,460.8 1446.4,460.3 1447.1,459.7 1447.8,458.9 1448.5,457.9 1448.8,457.1 1449.1,456.3 1449.2,455.5 1449.2,454.7 1449.1,453.9 1448.9,453.1 1448.6,452.3 1448.1,451.5 1447.4,450.6 1446.7,449.7 1445.8,448.7 1444.7,447.7 1440.3,443.9 1438.6,442.4 1437.1,441.0 1435.8,439.8 1434.6,438.6 1433.7,437.6 1432.9,436.6 1432.3,435.7 1431.8,434.8 1431.3,433.9 1430.9,433.0 1430.6,432.1 1430.3,431.1 1430.2,430.2 1430.2,429.2 1430.2,428.3 1430.4,427.3 1430.7,426.3 1431.1,425.2 1432.0,423.5 1433.1,421.9 1434.4,420.7 1435.9,419.7 1437.6,419.0 1439.5,418.5 1441.5,418.4 1443.7,418.5 1446.1,418.9 1448.6,419.6 1451.3,420.6 1454.1,421.9 1456.5,423.2 1458.7,424.6 1460.6,426.1 1462.3,427.6 1463.7,429.1 1464.8,430.7 1465.7,432.3 1466.3,434.0 1466.6,435.7 1466.7,437.5 1466.5,439.3 1466.0,441.2 1459.1,438.2 1459.3,437.2 1459.4,436.2 1459.3,435.2 1459.0,434.3 1458.6,433.3 1458.0,432.3 1457.3,431.4 1456.5,430.4 1455.4,429.5 1454.3,428.7 1453.0,427.8 1451.5,427.0 1449.8,426.3 1448.3,425.6 1446.9,425.2 1445.5,424.9 1444.3,424.7 1443.2,424.7 1442.2,424.9 1441.3,425.2 1440.6,425.6 1439.9,426.2 1439.3,427.0 1438.8,427.9 1438.5,428.4 1438.4,429.0 1438.3,429.6 1438.2,430.1 1438.3,430.7 1438.4,431.2 1438.6,431.8 1438.8,432.3 1439.1,432.9 1439.5,433.4 1439.9,434.0 1440.4,434.6 1441.0,435.2 1441.9,436.0 1442.9,437.0 1444.2,438.1 1445.6,439.4 1447.3,440.8 1448.9,442.2 1450.3,443.5 1451.5,444.7 1452.6,445.8 1453.4,446.7 1454.1,447.6 1454.7,448.5 1455.2,449.3 1455.6,450.0 1456.0,450.8 1456.3,451.6 1456.6,452.3 1456.7,453.0 1456.9,453.7 1457.0,454.5 1457.0,455.2 1457.0,455.9 1456.9,456.7 1456.8,457.4 1456.6,458.1 1456.4,458.9 1456.1,459.6 1455.7,460.4 1455.3,461.1ZM1501.5,481.1 1499.0,483.9 1496.4,486.3 1493.8,488.3 1491.2,489.8 1488.6,490.9 1486.1,491.5 1483.5,491.8 1480.9,491.6 1478.3,491.1 1475.7,490.2 1473.1,488.8 1470.5,487.1 1468.0,485.2 1466.0,483.1 1464.3,481.0 1463.0,478.7 1462.1,476.3 1461.6,473.7 1461.5,471.0 1461.7,468.2 1462.3,465.3 1463.4,462.3 1464.8,459.2 1466.6,456.0 1470.9,450.1 1475.7,446.1 1480.8,443.9 1486.3,443.6 1492.2,445.2 1498.4,448.7 1501.4,451.1 1503.8,453.5 1505.8,456.0 1507.3,458.6 1508.2,461.2 1508.7,463.8 1508.7,466.5 1508.2,469.2 1507.2,472.1 1505.8,475.0 1503.9,478.0 1501.5,481.1ZM1495.0,475.8 1496.8,473.4 1498.3,471.1 1499.4,468.9 1500.3,466.8 1500.8,464.9 1501.1,463.1 1500.9,461.3 1500.5,459.6 1499.7,458.0 1498.5,456.4 1497.1,454.8 1495.2,453.4 1493.2,452.1 1491.3,451.2 1489.4,450.6 1487.5,450.3 1485.7,450.4 1483.9,450.9 1482.2,451.6 1480.5,452.7 1478.8,454.2 1477.1,456.0 1475.4,458.1 1473.7,460.5 1472.2,463.0 1470.9,465.3 1470.0,467.5 1469.3,469.6 1468.9,471.6 1468.7,473.5 1468.8,475.3 1469.2,476.9 1469.9,478.4 1470.9,479.9 1472.1,481.2 1473.7,482.5 1475.5,483.7 1477.3,484.5 1479.1,485.1 1480.8,485.3 1482.5,485.2 1484.2,484.8 1485.9,484.1 1487.6,483.1 1489.4,481.7 1491.2,480.1 1493.1,478.1 1495.0,475.8ZM1494.1,504.9 1517.3,478.5 1518.4,477.3 1519.5,476.0 1520.6,474.7 1521.8,473.3 1523.0,471.9 1524.2,470.4 1530.2,475.8 1528.6,477.7 1527.3,479.3 1526.2,480.6 1525.3,481.6 1524.6,482.4 1524.1,482.9 1524.3,483.1 1526.0,482.2 1527.7,481.4 1529.2,480.9 1530.7,480.6 1532.0,480.4 1533.2,480.4 1534.3,480.6 1535.5,480.9 1536.6,481.5 1537.8,482.2 1538.9,483.1 1540.1,484.1 1540.5,484.5 1540.8,485.0 1541.2,485.4 1541.6,485.9 1541.9,486.4 1542.2,486.9 1537.2,491.8 1536.9,491.3 1536.5,490.7 1536.1,490.2 1535.6,489.6 1535.0,489.0 1534.4,488.3 1533.1,487.2 1531.7,486.4 1530.3,485.8 1528.9,485.5 1527.4,485.5 1525.8,485.7 1524.2,486.2 1522.6,486.9 1520.9,487.9 1519.2,489.2 1517.6,490.6 1515.8,492.4 1499.6,509.9ZM1556.8,540.1 1550.6,544.0 1544.9,546.4 1539.8,547.2 1535.2,546.6 1531.1,544.6 1527.4,541.0 1525.6,538.4 1524.2,535.7 1523.5,533.1 1523.2,530.5 1523.6,527.9 1524.5,525.2 1524.3,525.0 1524.1,525.3 1523.7,525.7 1522.9,526.4 1521.9,527.4 1520.6,528.5 1519.1,529.9 1505.7,541.8 1501.0,536.6 1540.8,499.5 1542.4,498.0 1543.8,496.6 1545.0,495.5 1546.0,494.5 1546.8,493.6 1547.4,492.9 1553.0,499.1 1553.0,499.1 1552.9,499.2 1552.8,499.4 1552.6,499.5 1552.4,499.7 1552.2,500.0 1551.9,500.3 1551.6,500.6 1551.3,500.9 1550.9,501.3 1550.4,501.8 1550.0,502.3 1549.5,502.7 1549.0,503.2 1548.6,503.5 1548.3,503.9 1548.0,504.1 1547.8,504.3 1547.9,504.5 1549.5,504.2 1551.0,504.0 1552.4,504.0 1553.8,504.2 1555.2,504.5 1556.5,504.9 1557.9,505.5 1559.2,506.3 1560.5,507.3 1561.8,508.5 1563.1,509.8 1564.4,511.3 1566.2,513.8 1567.5,516.3 1568.4,518.7 1568.9,521.2 1569.0,523.6 1568.6,526.0 1567.7,528.4 1566.5,530.7 1564.7,533.1 1562.5,535.4 1559.9,537.8 1556.8,540.1ZM1551.7,533.5 1554.1,531.6 1556.1,529.7 1557.8,528.0 1559.2,526.2 1560.2,524.6 1560.9,523.0 1561.2,521.4 1561.3,519.8 1561.0,518.2 1560.5,516.5 1559.6,514.9 1558.5,513.3 1557.4,512.1 1556.3,511.0 1555.2,510.2 1554.1,509.4 1553.0,508.9 1552.0,508.5 1550.8,508.3 1549.7,508.2 1548.5,508.2 1547.3,508.4 1546.0,508.7 1544.7,509.2 1543.3,509.8 1541.9,510.5 1540.5,511.4 1539.0,512.5 1537.4,513.7 1535.8,515.1 1533.7,517.0 1532.0,518.9 1530.5,520.8 1529.3,522.6 1528.4,524.4 1527.8,526.0 1527.5,527.7 1527.5,529.4 1527.8,531.0 1528.4,532.6 1529.4,534.3 1530.6,535.9 1531.8,537.3 1533.1,538.3 1534.4,539.1 1535.8,539.6 1537.4,539.8 1539.0,539.8 1540.7,539.5 1542.5,538.9 1544.6,538.0 1546.8,536.8 1549.2,535.3 1551.7,533.5ZM1552.7,575.6 1551.8,574.7 1551.0,573.7 1550.2,572.8 1549.4,571.8 1548.6,570.7 1548.0,569.7 1546.8,567.2 1546.3,564.9 1546.5,562.6 1547.5,560.5 1549.3,558.4 1551.8,556.4 1577.2,539.5 1573.9,534.7 1578.5,531.5 1582.0,536.7 1592.0,533.3 1595.2,538.2 1586.5,543.7 1591.5,551.8 1586.7,554.7 1581.8,546.6 1557.3,562.0 1556.5,562.6 1555.7,563.2 1555.1,563.7 1554.6,564.3 1554.2,564.9 1554.0,565.4 1553.9,566.0 1553.8,566.5 1553.9,567.2 1554.1,567.8 1554.4,568.5 1554.8,569.3 1555.1,569.7 1555.5,570.2 1555.9,570.8 1556.4,571.4 1556.9,572.0 1557.6,572.7ZM1604.0,554.1 1610.4,550.6 1614.7,558.5 1608.2,561.9ZM1555.5,581.2 1595.5,558.9 1599.6,566.5 1559.1,587.7ZM1600.0,625.9 1596.3,626.9 1592.8,627.6 1589.6,627.9 1586.6,627.8 1583.8,627.3 1581.3,626.5 1578.9,625.3 1576.9,623.8 1575.0,621.9 1573.3,619.7 1571.8,617.2 1570.5,614.4 1569.4,611.4 1568.8,608.6 1568.5,605.9 1568.7,603.2 1569.2,600.7 1570.2,598.3 1571.5,595.9 1573.2,593.7 1575.3,591.6 1577.7,589.6 1580.6,587.7 1583.9,586.0 1590.7,583.4 1596.8,582.5 1602.3,583.4 1607.2,586.1 1611.3,590.6 1614.6,596.9 1615.8,600.4 1616.6,603.8 1617.0,607.0 1616.8,609.9 1616.3,612.6 1615.2,615.1 1613.8,617.4 1611.9,619.5 1609.6,621.3 1606.8,623.0 1603.6,624.6 1600.0,625.9ZM1597.2,617.9 1600.1,616.8 1602.5,615.7 1604.7,614.5 1606.5,613.2 1608.0,611.8 1609.2,610.4 1610.0,608.9 1610.5,607.2 1610.7,605.4 1610.6,603.4 1610.2,601.3 1609.4,599.1 1608.4,597.0 1607.3,595.1 1606.0,593.6 1604.5,592.4 1603.0,591.5 1601.3,590.9 1599.4,590.7 1597.3,590.7 1595.1,591.0 1592.7,591.6 1590.2,592.5 1587.4,593.6 1584.8,594.9 1582.5,596.2 1580.5,597.6 1578.8,599.0 1577.4,600.4 1576.3,601.9 1575.4,603.5 1574.9,605.1 1574.6,606.7 1574.7,608.5 1575.0,610.3 1575.7,612.2 1576.6,614.2 1577.6,615.8 1578.8,617.2 1580.2,618.3 1581.6,619.2 1583.3,619.7 1585.1,620.0 1587.1,620.1 1589.3,619.9 1591.8,619.5 1594.4,618.8 1597.2,617.9ZM1587.4,669.4 1616.0,664.1 1617.4,663.8 1618.7,663.4 1619.9,663.1 1620.9,662.7 1621.9,662.3 1622.7,661.8 1623.4,661.3 1624.0,660.7 1624.6,660.1 1625.0,659.5 1625.4,658.8 1625.6,658.0 1625.8,657.2 1625.9,656.3 1625.9,655.3 1625.8,654.1 1625.7,652.9 1625.4,651.6 1624.9,649.7 1624.2,648.0 1623.3,646.5 1622.2,645.2 1620.9,644.1 1619.5,643.1 1618.0,642.4 1616.3,642.0 1614.5,641.7 1612.6,641.7 1610.7,642.0 1608.6,642.4 1582.9,649.1 1580.9,642.0 1615.5,632.0 1617.9,631.3 1619.9,630.6 1621.7,630.1 1623.1,629.6 1624.1,629.3 1624.8,629.0 1627.0,636.8 1626.9,636.8 1626.8,636.9 1626.6,636.9 1626.4,637.0 1626.2,637.1 1625.9,637.2 1625.6,637.3 1625.3,637.4 1624.9,637.5 1624.6,637.6 1624.2,637.7 1623.9,637.8 1623.4,638.0 1622.9,638.1 1622.2,638.3 1621.4,638.6 1620.5,638.9 1619.5,639.1 1619.5,639.3 1621.3,639.9 1622.8,640.5 1624.2,641.3 1625.5,642.2 1626.7,643.1 1627.7,644.2 1628.6,645.4 1629.4,646.7 1630.1,648.1 1630.8,649.7 1631.3,651.4 1631.8,653.2 1632.2,655.9 1632.4,658.3 1632.3,660.6 1631.9,662.7 1631.3,664.5 1630.4,666.1 1629.3,667.5 1627.8,668.7 1626.0,669.8 1623.9,670.7 1621.5,671.4 1618.8,671.9 1588.7,676.8Z" fill="#000" filter="url(#tsh)"/><path d="M1042.8,899.4 1036.5,903.3 1030.6,905.7 1025.3,906.5 1020.5,905.5 1016.3,903.0 1012.7,898.7 1011.8,897.2 1011.0,895.6 1010.4,894.1 1009.9,892.7 1009.6,891.2 1009.4,889.8 1009.4,888.5 1009.6,887.1 1009.9,885.7 1010.3,884.3 1010.9,882.9 1011.7,881.6 1011.7,881.5 1011.2,881.7 1010.7,882.0 1010.2,882.3 1009.5,882.6 1008.8,883.0 1008.0,883.4 1007.3,883.8 1006.6,884.1 1006.1,884.4 1005.7,884.6 1005.4,884.7 1005.2,884.8 1001.2,877.9 1002.1,877.6 1003.2,877.0 1004.5,876.4 1006.0,875.5 1007.8,874.6 1009.8,873.5 1057.4,846.8 1060.8,852.6 1045.0,861.9 1044.2,862.4 1043.3,862.9 1042.3,863.5 1041.4,864.0 1040.3,864.6 1039.2,865.2 1039.3,865.3 1040.9,865.2 1042.4,865.2 1043.8,865.3 1045.1,865.6 1046.4,866.0 1047.6,866.5 1048.7,867.2 1049.7,868.0 1050.7,868.9 1051.7,869.9 1052.6,871.1 1053.5,872.4 1054.8,874.6 1055.7,876.8 1056.2,879.1 1056.3,881.3 1056.0,883.5 1055.3,885.7 1054.2,887.9 1052.7,890.1 1050.8,892.4 1048.6,894.7 1045.9,897.0 1042.8,899.4ZM1038.0,892.9 1040.5,891.1 1042.7,889.4 1044.6,887.7 1046.2,886.1 1047.4,884.5 1048.2,883.0 1048.8,881.5 1049.1,880.1 1049.1,878.6 1048.9,877.1 1048.3,875.6 1047.5,874.1 1046.3,872.5 1045.1,871.2 1043.7,870.2 1042.2,869.4 1040.6,869.0 1038.9,868.8 1037.1,868.9 1035.0,869.3 1032.8,870.0 1030.4,870.9 1027.9,872.1 1025.2,873.6 1022.7,875.2 1020.5,876.8 1018.6,878.3 1017.1,879.9 1015.9,881.5 1015.0,883.1 1014.4,884.8 1014.1,886.5 1014.2,888.2 1014.6,890.0 1015.3,891.9 1016.4,893.8 1017.6,895.3 1018.8,896.6 1020.2,897.6 1021.6,898.3 1023.2,898.6 1024.8,898.7 1026.6,898.5 1028.6,898.0 1030.7,897.2 1033.0,896.0 1035.4,894.6 1038.0,892.9ZM1036.7,931.7 1035.3,929.8 1034.2,927.9 1033.4,926.1 1032.9,924.2 1032.7,922.4 1032.8,920.7 1033.1,919.0 1033.7,917.4 1034.6,915.8 1035.7,914.4 1037.1,913.0 1038.7,911.6 1040.7,910.3 1042.6,909.4 1044.6,908.7 1046.5,908.4 1048.5,908.4 1050.5,908.7 1052.5,909.3 1054.5,910.3 1056.6,911.6 1058.7,913.3 1060.9,915.3 1063.1,917.7 1069.9,925.3 1071.8,923.6 1073.1,922.3 1074.2,921.1 1075.1,919.9 1075.8,918.7 1076.2,917.5 1076.4,916.4 1076.4,915.3 1076.3,914.2 1075.9,913.0 1075.3,911.8 1074.6,910.7 1073.6,909.4 1072.6,908.3 1071.6,907.3 1070.6,906.5 1069.6,905.9 1068.7,905.4 1067.7,905.1 1066.8,905.0 1065.8,905.0 1064.8,905.2 1063.8,905.5 1062.7,905.9 1061.6,906.6 1057.5,900.0 1061.2,898.5 1064.8,897.9 1068.2,898.4 1071.6,899.9 1075.0,902.3 1078.3,905.7 1079.9,907.8 1081.1,909.8 1082.1,911.7 1082.8,913.7 1083.2,915.6 1083.3,917.6 1083.1,919.5 1082.6,921.3 1081.8,923.2 1080.7,925.0 1079.2,926.8 1077.5,928.6 1062.8,942.4 1062.0,943.1 1061.3,943.9 1060.8,944.6 1060.3,945.3 1059.9,946.0 1059.6,946.6 1059.5,947.2 1059.5,947.9 1059.6,948.5 1059.9,949.1 1060.3,949.8 1060.8,950.4 1061.1,950.7 1061.4,951.0 1061.8,951.3 1062.1,951.5 1062.5,951.8 1062.9,952.1 1059.4,955.5 1058.5,954.9 1057.7,954.3 1056.9,953.6 1056.1,952.9 1055.3,952.2 1054.6,951.4 1053.6,950.3 1052.9,949.2 1052.3,948.2 1051.9,947.1 1051.8,946.1 1051.8,945.0 1051.9,944.0 1052.3,943.0 1052.8,941.9 1053.6,940.8 1054.4,939.7 1055.5,938.6 1055.3,938.4 1053.4,938.7 1051.5,938.9 1049.7,938.9 1048.0,938.8 1046.4,938.5 1044.9,938.0 1043.4,937.3 1042.0,936.5 1040.6,935.6 1039.3,934.4 1038.0,933.1 1036.7,931.7ZM1042.4,929.4 1043.4,930.5 1044.4,931.5 1045.4,932.3 1046.6,933.1 1047.7,933.7 1048.9,934.2 1050.2,934.6 1051.4,934.8 1052.7,935.0 1053.9,935.0 1055.2,934.9 1056.5,934.7 1057.7,934.4 1058.9,934.0 1060.0,933.5 1061.1,932.9 1062.1,932.2 1063.0,931.5 1065.9,928.9 1060.2,922.7 1059.1,921.4 1058.0,920.3 1056.9,919.3 1055.9,918.4 1055.0,917.7 1054.1,917.2 1053.3,916.7 1052.4,916.3 1051.5,916.1 1050.7,915.9 1049.8,915.8 1048.9,915.8 1048.0,915.9 1047.2,916.1 1046.3,916.5 1045.4,916.9 1044.4,917.5 1043.5,918.1 1042.6,918.9 1041.8,919.8 1041.2,920.6 1040.7,921.5 1040.4,922.5 1040.2,923.4 1040.2,924.4 1040.3,925.4 1040.6,926.4 1041.0,927.4 1041.6,928.4 1042.4,929.4ZM1077.6,972.8 1076.4,972.1 1075.2,971.4 1074.0,970.6 1072.9,969.8 1071.8,968.9 1070.8,968.0 1068.8,965.7 1067.7,963.4 1067.3,961.0 1067.8,958.6 1069.1,956.1 1071.2,953.6 1093.1,931.4 1089.6,927.8 1093.6,923.9 1097.3,927.6 1106.1,921.5 1109.5,924.7 1102.3,932.3 1108.1,937.7 1104.3,941.9 1098.4,936.4 1078.0,957.9 1077.3,958.7 1076.7,959.5 1076.3,960.2 1075.9,960.9 1075.7,961.5 1075.6,962.1 1075.6,962.7 1075.8,963.3 1076.1,964.0 1076.4,964.6 1076.9,965.2 1077.6,965.8 1078.0,966.2 1078.5,966.6 1079.1,967.0 1079.8,967.5 1080.6,968.0 1081.4,968.5ZM1097.3,989.3 1096.1,988.7 1094.9,988.1 1093.7,987.4 1092.5,986.6 1091.3,985.8 1090.2,985.0 1088.1,982.8 1086.8,980.6 1086.3,978.2 1086.6,975.8 1087.7,973.3 1089.6,970.6 1110.0,946.9 1106.2,943.6 1110.0,939.4 1113.9,942.8 1122.3,936.2 1125.8,939.1 1119.1,947.2 1125.3,952.2 1121.8,956.6 1115.5,951.6 1096.8,974.4 1096.1,975.3 1095.6,976.1 1095.2,976.8 1094.9,977.5 1094.7,978.2 1094.6,978.8 1094.7,979.4 1094.9,980.0 1095.2,980.6 1095.6,981.2 1096.2,981.8 1096.9,982.4 1097.3,982.7 1097.9,983.1 1098.5,983.5 1099.2,983.9 1100.0,984.3 1100.9,984.8ZM1120.4,979.8 1119.0,982.0 1117.8,984.1 1116.9,986.1 1116.3,988.1 1116.0,990.0 1115.9,991.9 1116.2,993.7 1116.7,995.4 1117.5,997.0 1118.6,998.5 1120.0,999.9 1121.7,1001.2 1123.1,1002.0 1124.5,1002.8 1125.9,1003.3 1127.2,1003.7 1128.5,1003.9 1129.8,1004.0 1131.0,1003.9 1132.2,1003.8 1133.2,1003.5 1134.3,1003.0 1135.2,1002.5 1136.1,1001.9 1141.0,1007.1 1137.8,1009.2 1134.4,1010.3 1130.7,1010.6 1126.8,1010.0 1122.7,1008.4 1118.4,1006.0 1115.6,1003.9 1113.3,1001.7 1111.4,999.3 1110.0,996.8 1109.0,994.2 1108.5,991.5 1108.5,988.7 1108.9,985.8 1109.8,982.8 1111.1,979.8 1112.9,976.7 1115.1,973.5 1117.5,970.6 1119.9,968.2 1122.3,966.1 1124.8,964.4 1127.4,963.2 1129.9,962.3 1132.5,961.9 1135.0,961.8 1137.6,962.1 1140.1,962.8 1142.6,964.0 1145.2,965.5 1149.6,969.2 1152.5,973.5 1153.9,978.4 1153.7,983.9 1151.9,990.1 1148.5,996.9 1148.0,997.8ZM1144.3,988.7 1145.3,986.5 1146.1,984.5 1146.7,982.6 1147.0,980.8 1147.1,979.1 1147.0,977.6 1146.7,976.2 1146.2,974.8 1145.4,973.5 1144.4,972.3 1143.3,971.2 1141.9,970.2 1140.4,969.3 1138.9,968.7 1137.4,968.3 1135.9,968.2 1134.4,968.2 1132.8,968.5 1131.3,969.1 1129.7,969.8 1128.2,970.8 1126.8,972.0 1125.4,973.4 1124.0,975.0ZM1146.1,1021.8 1163.5,990.3 1164.3,988.9 1165.1,987.3 1165.9,985.8 1166.7,984.1 1167.6,982.4 1168.5,980.7 1174.4,983.8 1173.4,986.1 1172.4,988.0 1171.7,989.6 1171.1,990.9 1170.6,991.8 1170.3,992.5 1170.4,992.5 1171.8,991.1 1173.2,989.9 1174.4,988.9 1175.6,988.1 1176.7,987.5 1177.7,987.1 1178.7,986.8 1179.8,986.7 1180.9,986.8 1182.0,987.0 1183.1,987.3 1184.3,987.9 1184.7,988.1 1185.2,988.3 1185.6,988.6 1186.0,988.9 1186.3,989.2 1186.7,989.5 1183.7,995.9 1183.3,995.6 1182.8,995.3 1182.3,994.9 1181.7,994.6 1181.1,994.2 1180.4,993.9 1179.0,993.3 1177.7,993.1 1176.3,993.1 1175.0,993.3 1173.6,993.8 1172.3,994.5 1171.0,995.5 1169.6,996.7 1168.3,998.2 1167.1,999.9 1165.8,1001.8 1164.6,1004.0 1153.3,1025.7ZM1168.5,1053.3 1167.4,1052.8 1166.5,1052.4 1165.6,1051.9 1164.7,1051.4 1164.0,1050.9 1163.3,1050.5 1165.7,1045.1 1166.2,1045.5 1166.8,1045.8 1167.3,1046.1 1167.9,1046.4 1168.5,1046.7 1169.2,1047.0 1171.6,1047.7 1174.1,1047.9 1176.7,1047.3 1179.3,1046.2 1182.0,1044.4 1184.7,1042.0 1186.1,1040.5 1187.9,990.5 1194.9,993.7 1193.5,1021.2 1193.5,1021.4 1193.5,1021.6 1193.4,1021.9 1193.4,1022.1 1193.4,1022.4 1193.4,1022.7 1193.4,1023.1 1193.4,1023.8 1193.3,1024.6 1193.3,1025.7 1193.2,1027.1 1193.1,1028.7 1193.1,1030.2 1193.0,1031.5 1192.9,1032.6 1192.9,1033.4 1192.9,1034.0 1192.8,1034.3 1198.8,1027.5 1218.2,1002.8 1225.3,1005.2 1193.2,1043.5 1191.4,1045.4 1189.7,1047.1 1188.1,1048.6 1186.5,1049.9 1185.1,1051.0 1183.8,1051.8 1182.5,1052.6 1181.2,1053.2 1179.9,1053.7 1178.7,1054.1 1177.4,1054.4 1176.1,1054.6 1174.9,1054.7 1173.6,1054.6 1172.3,1054.5 1171.0,1054.2 1169.8,1053.8 1168.5,1053.3Z" fill="#000" filter="url(#tsh)"/><path d="M1379.3,1021.5 1380.0,1024.4 1380.7,1027.0 1381.6,1029.3 1382.6,1031.3 1383.7,1033.0 1385.0,1034.4 1386.4,1035.5 1387.9,1036.3 1389.6,1036.8 1391.4,1037.1 1393.3,1037.0 1395.3,1036.7 1396.7,1036.3 1398.0,1035.8 1399.2,1035.2 1400.2,1034.4 1401.2,1033.6 1402.0,1032.7 1402.7,1031.7 1403.3,1030.5 1403.6,1029.3 1403.8,1028.0 1403.9,1026.6 1403.8,1025.1 1411.9,1023.3 1412.1,1025.5 1412.0,1027.6 1411.7,1029.6 1411.1,1031.6 1410.2,1033.5 1409.0,1035.3 1407.6,1036.9 1405.9,1038.4 1404.0,1039.8 1401.9,1040.9 1399.5,1041.8 1396.9,1042.6 1393.5,1043.2 1390.3,1043.4 1387.3,1043.1 1384.5,1042.5 1381.9,1041.4 1379.6,1039.9 1377.5,1038.0 1375.7,1035.8 1374.2,1033.2 1372.9,1030.2 1371.9,1026.8 1371.2,1023.1 1370.7,1019.4 1370.6,1015.9 1370.8,1012.7 1371.3,1009.8 1372.1,1007.1 1373.2,1004.6 1374.6,1002.5 1376.2,1000.6 1378.2,999.0 1380.4,997.6 1382.9,996.5 1385.7,995.7 1387.8,995.3 1389.9,995.1 1391.9,995.1 1393.8,995.3 1395.7,995.8 1397.5,996.4 1399.2,997.3 1400.8,998.4 1402.2,999.6 1403.6,1001.1 1404.8,1002.7 1405.9,1004.6 1398.5,1007.4 1397.9,1006.2 1397.2,1005.2 1396.5,1004.3 1395.7,1003.5 1394.9,1002.8 1394.0,1002.2 1393.0,1001.8 1391.9,1001.4 1390.8,1001.3 1389.5,1001.3 1388.3,1001.4 1386.9,1001.6 1385.1,1002.2 1383.5,1002.9 1382.1,1003.8 1381.0,1004.8 1380.0,1006.1 1379.3,1007.5 1378.8,1009.1 1378.5,1011.1 1378.4,1013.3 1378.5,1015.7 1378.8,1018.5 1379.3,1021.5ZM1437.4,1029.9 1435.0,1030.7 1432.8,1031.2 1430.7,1031.5 1428.7,1031.4 1426.8,1031.1 1425.1,1030.5 1423.6,1029.6 1422.2,1028.6 1421.0,1027.3 1419.9,1025.8 1419.0,1024.0 1418.3,1022.1 1417.7,1019.9 1417.4,1017.7 1417.4,1015.7 1417.8,1013.7 1418.4,1011.8 1419.4,1010.0 1420.7,1008.3 1422.3,1006.7 1424.3,1005.1 1426.7,1003.6 1429.4,1002.1 1432.5,1000.6 1442.1,996.2 1441.0,993.9 1440.2,992.3 1439.3,990.9 1438.4,989.8 1437.5,988.8 1436.5,988.1 1435.5,987.5 1434.4,987.2 1433.2,987.0 1432.0,987.1 1430.7,987.3 1429.3,987.6 1427.8,988.2 1426.4,988.8 1425.1,989.5 1424.0,990.2 1423.0,991.0 1422.3,991.7 1421.7,992.5 1421.3,993.4 1421.0,994.3 1420.8,995.3 1420.8,996.4 1420.9,997.5 1421.1,998.8 1413.3,1000.8 1413.1,996.8 1413.8,993.2 1415.4,990.1 1417.9,987.3 1421.3,984.8 1425.7,982.7 1428.2,981.8 1430.5,981.1 1432.7,980.7 1434.9,980.6 1436.9,980.8 1438.8,981.3 1440.5,982.0 1442.2,983.0 1443.8,984.3 1445.2,985.9 1446.5,987.7 1447.7,989.8 1456.6,1007.8 1457.1,1008.8 1457.6,1009.6 1458.1,1010.4 1458.6,1011.0 1459.2,1011.6 1459.7,1012.0 1460.3,1012.3 1460.9,1012.5 1461.6,1012.5 1462.3,1012.4 1463.1,1012.2 1463.9,1011.8 1464.2,1011.6 1464.6,1011.4 1465.0,1011.2 1465.4,1010.9 1465.8,1010.6 1466.2,1010.3 1468.4,1014.6 1467.6,1015.2 1466.7,1015.9 1465.7,1016.5 1464.8,1017.1 1463.8,1017.7 1462.8,1018.2 1461.4,1018.8 1460.1,1019.2 1458.9,1019.5 1457.7,1019.6 1456.6,1019.5 1455.6,1019.2 1454.7,1018.7 1453.7,1018.1 1452.9,1017.3 1452.0,1016.3 1451.2,1015.1 1450.4,1013.8 1450.2,1013.9 1449.9,1015.9 1449.4,1017.8 1448.9,1019.5 1448.2,1021.1 1447.3,1022.5 1446.4,1023.9 1445.2,1025.1 1444.0,1026.2 1442.5,1027.3 1441.0,1028.2 1439.2,1029.1 1437.4,1029.9ZM1437.1,1023.8 1438.4,1023.2 1439.7,1022.5 1440.9,1021.7 1442.0,1020.9 1443.0,1019.9 1443.9,1018.9 1444.7,1017.8 1445.4,1016.7 1446.0,1015.5 1446.4,1014.3 1446.7,1013.1 1447.0,1011.8 1447.1,1010.5 1447.0,1009.2 1446.9,1008.0 1446.7,1006.9 1446.4,1005.7 1445.9,1004.6 1444.3,1001.2 1436.4,1004.8 1434.8,1005.6 1433.3,1006.3 1432.0,1007.0 1430.8,1007.7 1429.8,1008.4 1428.9,1009.1 1428.2,1009.7 1427.6,1010.5 1427.0,1011.2 1426.5,1012.0 1426.2,1012.8 1425.9,1013.6 1425.7,1014.5 1425.6,1015.4 1425.6,1016.4 1425.7,1017.4 1426.0,1018.4 1426.3,1019.5 1426.8,1020.6 1427.3,1021.6 1428.0,1022.4 1428.7,1023.1 1429.5,1023.7 1430.4,1024.2 1431.4,1024.5 1432.4,1024.7 1433.5,1024.7 1434.6,1024.5 1435.8,1024.3 1437.1,1023.8ZM1491.2,1001.2 1490.2,1002.2 1489.1,1003.2 1488.0,1004.2 1486.8,1005.0 1485.6,1005.9 1484.4,1006.7 1481.5,1008.0 1478.8,1008.6 1476.4,1008.3 1474.1,1007.2 1472.1,1005.3 1470.3,1002.6 1455.2,975.6 1450.7,978.0 1448.1,973.1 1452.8,970.5 1449.5,960.4 1453.5,958.1 1458.8,967.0 1465.8,962.8 1468.8,967.5 1461.7,971.8 1476.7,997.1 1477.2,998.0 1477.8,998.7 1478.4,999.4 1479.0,999.9 1479.5,1000.2 1480.1,1000.5 1480.7,1000.6 1481.3,1000.6 1482.0,1000.5 1482.8,1000.3 1483.5,1000.0 1484.3,999.5 1484.8,999.2 1485.4,998.8 1486.0,998.3 1486.7,997.7 1487.4,997.1 1488.2,996.4ZM1508.8,990.6 1506.7,992.0 1504.7,993.1 1502.7,993.8 1500.8,994.3 1498.9,994.5 1497.2,994.3 1495.4,993.9 1493.8,993.2 1492.3,992.3 1490.9,991.1 1489.6,989.7 1488.3,988.0 1487.2,986.0 1486.3,984.0 1485.8,982.0 1485.7,980.0 1485.8,978.1 1486.3,976.1 1487.0,974.1 1488.2,972.1 1489.7,970.0 1491.6,967.9 1493.8,965.8 1496.4,963.6 1504.5,956.8 1502.9,954.9 1501.7,953.5 1500.5,952.4 1499.3,951.5 1498.2,950.9 1497.0,950.4 1495.9,950.1 1494.8,950.1 1493.6,950.3 1492.4,950.6 1491.2,951.1 1490.0,951.9 1488.7,952.8 1487.4,953.8 1486.4,954.8 1485.5,955.8 1484.8,956.7 1484.3,957.6 1483.9,958.6 1483.7,959.5 1483.7,960.5 1483.8,961.5 1484.0,962.6 1484.4,963.6 1485.0,964.8 1478.0,968.7 1476.7,965.0 1476.4,961.3 1477.2,957.9 1478.9,954.5 1481.6,951.2 1485.2,948.0 1487.3,946.5 1489.4,945.2 1491.5,944.3 1493.5,943.6 1495.5,943.3 1497.4,943.2 1499.4,943.5 1501.2,944.0 1503.1,944.9 1504.9,946.0 1506.6,947.4 1508.3,949.2 1521.5,964.2 1522.3,965.0 1523.0,965.7 1523.7,966.3 1524.4,966.8 1525.1,967.1 1525.7,967.4 1526.3,967.6 1527.0,967.6 1527.6,967.4 1528.3,967.2 1529.0,966.8 1529.7,966.2 1530.0,965.9 1530.3,965.6 1530.6,965.3 1530.9,964.9 1531.2,964.5 1531.5,964.1 1534.8,967.6 1534.1,968.5 1533.4,969.4 1532.7,970.2 1531.9,971.0 1531.1,971.8 1530.3,972.6 1529.1,973.6 1528.0,974.3 1526.8,974.9 1525.7,975.3 1524.7,975.5 1523.6,975.4 1522.6,975.3 1521.5,974.9 1520.4,974.3 1519.4,973.6 1518.3,972.7 1517.2,971.6 1517.0,971.8 1517.2,973.8 1517.3,975.7 1517.2,977.5 1516.9,979.2 1516.5,980.9 1515.9,982.4 1515.1,983.8 1514.2,985.3 1513.1,986.7 1511.8,988.0 1510.4,989.3 1508.8,990.6ZM1506.9,984.8 1508.1,983.8 1509.2,982.8 1510.1,981.7 1510.9,980.6 1511.7,979.4 1512.3,978.2 1512.7,977.0 1513.1,975.7 1513.3,974.4 1513.4,973.1 1513.4,971.9 1513.3,970.6 1513.1,969.3 1512.7,968.1 1512.3,967.0 1511.8,965.9 1511.2,964.9 1510.4,963.9 1508.0,961.0 1501.3,966.6 1499.9,967.7 1498.7,968.8 1497.6,969.9 1496.7,970.8 1495.9,971.8 1495.2,972.6 1494.7,973.5 1494.2,974.4 1493.9,975.2 1493.7,976.1 1493.5,977.0 1493.4,977.9 1493.5,978.7 1493.6,979.6 1493.9,980.6 1494.3,981.5 1494.8,982.4 1495.4,983.4 1496.1,984.3 1496.9,985.1 1497.8,985.8 1498.7,986.3 1499.6,986.6 1500.6,986.9 1501.6,986.9 1502.6,986.8 1503.7,986.5 1504.7,986.1 1505.8,985.5 1506.9,984.8ZM1539.7,963.3 1495.4,917.5 1500.2,912.7 1545.8,957.2ZM1570.2,957.8 1569.3,958.7 1568.6,959.6 1567.8,960.3 1567.0,961.0 1566.3,961.6 1565.6,962.2 1561.3,958.3 1561.8,957.8 1562.3,957.4 1562.8,956.9 1563.3,956.4 1563.8,955.9 1564.3,955.3 1565.9,953.1 1566.9,950.7 1567.2,948.0 1567.0,945.1 1566.2,941.9 1564.7,938.6 1563.8,936.8 1516.6,920.6 1521.8,914.8 1547.6,924.1 1547.9,924.1 1548.1,924.2 1548.3,924.3 1548.6,924.4 1548.8,924.5 1549.1,924.6 1549.5,924.7 1550.1,924.9 1550.9,925.2 1552.0,925.6 1553.2,926.0 1554.7,926.5 1556.2,927.0 1557.5,927.4 1558.5,927.8 1559.2,928.1 1559.8,928.2 1560.1,928.4 1555.4,920.6 1537.8,894.8 1542.2,888.4 1569.0,930.6 1570.3,932.8 1571.3,935.0 1572.2,937.0 1573.0,938.9 1573.5,940.6 1574.0,942.2 1574.2,943.7 1574.4,945.1 1574.5,946.5 1574.5,947.9 1574.3,949.3 1574.1,950.6 1573.7,951.8 1573.2,953.1 1572.6,954.3 1571.9,955.5 1571.1,956.7 1570.2,957.8ZM1591.8,869.4 1593.6,870.5 1595.2,871.7 1596.4,873.2 1597.4,874.8 1598.1,876.7 1598.5,878.7 1598.6,881.0 1598.4,883.3 1597.9,885.8 1597.0,888.4 1595.9,891.2 1594.4,894.0 1592.8,896.7 1591.1,899.0 1589.5,901.0 1587.8,902.8 1586.1,904.2 1584.3,905.3 1582.6,906.1 1580.8,906.6 1579.0,906.9 1577.1,906.9 1575.2,906.6 1573.2,906.0 1576.1,899.2 1577.3,899.4 1578.5,899.6 1579.7,899.5 1580.8,899.3 1582.0,898.9 1583.0,898.3 1584.1,897.6 1585.2,896.6 1586.2,895.5 1587.3,894.2 1588.3,892.8 1589.3,891.1 1590.2,889.3 1591.0,887.6 1591.6,886.0 1592.0,884.6 1592.2,883.2 1592.2,882.0 1592.0,880.9 1591.7,879.9 1591.2,879.0 1590.6,878.2 1589.7,877.5 1588.8,876.9 1587.9,876.5 1587.1,876.3 1586.3,876.2 1585.5,876.2 1584.7,876.4 1583.9,876.6 1583.0,877.0 1582.2,877.5 1581.3,878.2 1580.3,879.0 1579.4,879.9 1578.4,880.9 1574.3,885.2 1572.7,886.8 1571.2,888.2 1569.8,889.4 1568.5,890.4 1567.4,891.2 1566.4,891.8 1565.4,892.3 1564.4,892.7 1563.4,893.0 1562.5,893.3 1561.5,893.4 1560.6,893.5 1559.6,893.4 1558.7,893.3 1557.7,893.0 1556.8,892.7 1555.8,892.2 1554.8,891.6 1553.2,890.4 1551.8,889.1 1550.7,887.7 1549.9,886.1 1549.4,884.5 1549.1,882.7 1549.0,880.9 1549.2,878.9 1549.7,876.9 1550.4,874.8 1551.4,872.6 1552.6,870.3 1553.8,868.3 1555.1,866.5 1556.4,864.9 1557.7,863.5 1559.1,862.3 1560.5,861.3 1562.0,860.6 1563.6,860.1 1565.2,859.8 1567.0,859.7 1568.8,859.8 1570.7,860.2 1568.4,866.7 1567.4,866.5 1566.4,866.5 1565.5,866.5 1564.5,866.7 1563.6,867.1 1562.7,867.5 1561.8,868.2 1560.9,868.9 1560.1,869.8 1559.3,870.8 1558.5,871.9 1557.7,873.1 1557.0,874.6 1556.3,875.9 1555.9,877.1 1555.5,878.3 1555.4,879.4 1555.3,880.4 1555.4,881.3 1555.7,882.2 1556.1,883.0 1556.6,883.7 1557.3,884.4 1558.2,885.0 1558.7,885.3 1559.3,885.5 1559.8,885.7 1560.4,885.8 1560.9,885.8 1561.5,885.8 1562.0,885.7 1562.6,885.5 1563.2,885.3 1563.7,885.0 1564.3,884.7 1564.9,884.3 1565.6,883.8 1566.5,883.1 1567.5,882.1 1568.6,881.0 1569.9,879.7 1571.4,878.1 1572.8,876.6 1574.1,875.3 1575.2,874.1 1576.3,873.1 1577.3,872.2 1578.1,871.5 1578.9,870.9 1579.7,870.4 1580.5,869.9 1581.2,869.5 1582.0,869.1 1582.7,868.9 1583.4,868.6 1584.1,868.5 1584.9,868.3 1585.6,868.2 1586.4,868.2 1587.1,868.2 1587.9,868.3 1588.6,868.4 1589.4,868.6 1590.2,868.8 1591.0,869.1 1591.8,869.4ZM1556.0,843.1 1549.2,840.2 1551.9,833.9 1558.7,836.7ZM1607.6,865.8 1565.0,847.1 1567.9,840.4 1610.9,857.9ZM1613.8,805.6 1615.9,806.2 1617.7,807.1 1619.2,808.2 1620.6,809.6 1621.7,811.2 1622.5,813.1 1623.1,815.3 1623.4,817.6 1623.5,820.2 1623.3,822.9 1622.8,825.8 1622.0,828.9 1621.0,831.9 1619.9,834.5 1618.8,836.9 1617.5,839.0 1616.1,840.7 1614.7,842.2 1613.2,843.4 1611.6,844.3 1609.8,845.0 1608.0,845.4 1606.1,845.5 1604.1,845.4 1605.3,838.1 1606.6,838.1 1607.8,837.9 1608.9,837.6 1609.9,837.1 1611.0,836.5 1611.9,835.7 1612.8,834.7 1613.6,833.6 1614.4,832.3 1615.1,830.8 1615.7,829.1 1616.3,827.3 1616.9,825.3 1617.2,823.5 1617.4,821.8 1617.5,820.3 1617.4,818.9 1617.1,817.7 1616.7,816.7 1616.2,815.8 1615.5,815.0 1614.7,814.4 1613.7,813.9 1612.6,813.5 1611.7,813.4 1610.9,813.3 1610.1,813.4 1609.3,813.6 1608.5,814.0 1607.8,814.4 1607.0,815.0 1606.3,815.7 1605.6,816.5 1604.9,817.5 1604.1,818.6 1603.4,819.8 1600.4,824.9 1599.2,826.9 1598.0,828.6 1597.0,830.0 1596.0,831.3 1595.0,832.3 1594.2,833.2 1593.3,833.9 1592.5,834.5 1591.6,835.0 1590.7,835.4 1589.8,835.8 1588.9,836.1 1588.0,836.3 1587.0,836.3 1586.0,836.3 1585.0,836.2 1584.0,835.9 1582.9,835.6 1581.0,834.8 1579.4,833.8 1578.0,832.7 1576.9,831.3 1575.9,829.9 1575.3,828.2 1574.8,826.4 1574.6,824.5 1574.6,822.4 1574.8,820.2 1575.2,817.8 1575.9,815.3 1576.6,813.1 1577.4,811.0 1578.3,809.2 1579.3,807.6 1580.4,806.1 1581.5,804.8 1582.8,803.7 1584.2,802.9 1585.8,802.2 1587.5,801.7 1589.3,801.5 1591.2,801.4 1590.5,808.3 1589.5,808.3 1588.5,808.4 1587.6,808.7 1586.7,809.1 1585.8,809.7 1585.1,810.4 1584.3,811.2 1583.6,812.1 1583.0,813.1 1582.5,814.3 1582.0,815.5 1581.5,816.9 1581.1,818.5 1580.8,819.9 1580.6,821.2 1580.6,822.5 1580.6,823.5 1580.8,824.5 1581.1,825.4 1581.6,826.2 1582.1,826.9 1582.8,827.5 1583.7,828.0 1584.6,828.3 1585.2,828.5 1585.8,828.6 1586.4,828.7 1587.0,828.7 1587.5,828.6 1588.0,828.4 1588.6,828.2 1589.1,827.9 1589.6,827.6 1590.1,827.2 1590.6,826.7 1591.1,826.2 1591.6,825.5 1592.3,824.6 1593.0,823.5 1593.9,822.1 1594.9,820.5 1595.9,818.7 1597.0,816.9 1597.9,815.3 1598.8,813.9 1599.6,812.6 1600.3,811.6 1601.0,810.7 1601.7,809.9 1602.3,809.2 1603.0,808.6 1603.6,808.0 1604.2,807.5 1604.9,807.1 1605.5,806.7 1606.2,806.4 1606.9,806.1 1607.6,805.8 1608.3,805.6 1609.0,805.5 1609.8,805.3 1610.5,805.3 1611.3,805.3 1612.2,805.3 1613.0,805.4 1613.8,805.6Z" fill="#000" filter="url(#tsh)"/>
</svg>
</body></html>
